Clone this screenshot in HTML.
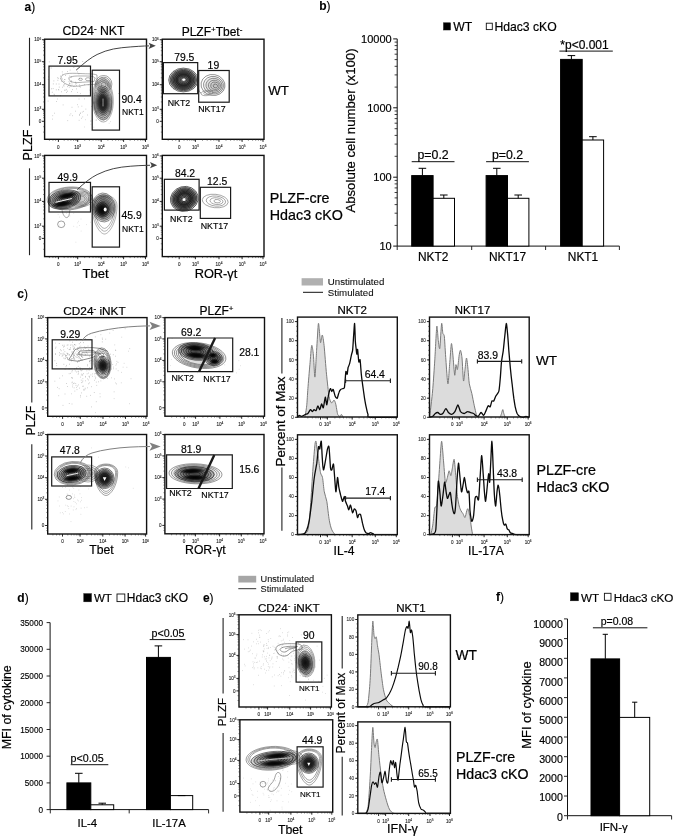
<!DOCTYPE html>
<html><head><meta charset="utf-8"><title>Figure</title>
<style>
html,body{margin:0;padding:0;background:#fff;}
svg{display:block;font-family:"Liberation Sans", sans-serif;font-kerning:none;}
</style></head>
<body>
<svg width="675" height="837" viewBox="0 0 675 837">
<defs>
<radialGradient id="gd"><stop offset="0" stop-color="#000" stop-opacity="0.95"/><stop offset="0.45" stop-color="#000" stop-opacity="0.82"/><stop offset="0.75" stop-color="#000" stop-opacity="0.4"/><stop offset="1" stop-color="#000" stop-opacity="0"/></radialGradient>
<radialGradient id="gm"><stop offset="0" stop-color="#000" stop-opacity="0.7"/><stop offset="0.55" stop-color="#000" stop-opacity="0.5"/><stop offset="0.85" stop-color="#000" stop-opacity="0.25"/><stop offset="1" stop-color="#000" stop-opacity="0"/></radialGradient>
<radialGradient id="gl"><stop offset="0" stop-color="#000" stop-opacity="0.26"/><stop offset="0.6" stop-color="#000" stop-opacity="0.12"/><stop offset="1" stop-color="#000" stop-opacity="0"/></radialGradient>
<radialGradient id="gr"><stop offset="0" stop-color="#000" stop-opacity="0.1"/><stop offset="0.15" stop-color="#000" stop-opacity="0.45"/><stop offset="0.45" stop-color="#000" stop-opacity="0.8"/><stop offset="0.78" stop-color="#000" stop-opacity="0.55"/><stop offset="1" stop-color="#000" stop-opacity="0"/></radialGradient>
</defs>
<rect x="0" y="0" width="675" height="837" fill="#fff"/>
<text x="24.6" y="11.3" font-size="12" text-anchor="start" font-weight="normal" fill="#000" stroke="#000" stroke-width="0.1"><tspan font-weight="bold">a</tspan>)</text>
<text x="93.5" y="34.8" font-size="12.3" text-anchor="middle" font-weight="normal" fill="#000" stroke="#000" stroke-width="0.1968">CD24<tspan dy="-4" font-size="8">-</tspan><tspan dy="4"> NKT</tspan></text>
<text x="212.0" y="36.0" font-size="12" text-anchor="middle" font-weight="normal" fill="#000" stroke="#000" stroke-width="0.192">PLZF<tspan dy="-4" font-size="8">+</tspan><tspan dy="4">Tbet</tspan><tspan dy="-4" font-size="8">-</tspan></text>
<path d="M63.7 86.1h.6M64.0 79.5h.6M57.6 80.3h.6M76.0 85.4h.6M75.3 84.0h.6M69.6 83.5h.6M51.0 88.8h.6M70.6 86.0h.6M50.8 68.0h.6M58.0 78.3h.6M68.7 81.6h.6M70.7 76.9h.6M68.8 85.2h.6M60.0 95.7h.6M71.0 91.6h.6M60.4 76.1h.6M62.9 81.1h.6M71.7 84.0h.6M62.0 74.3h.6M61.3 91.8h.6M58.7 84.0h.6M69.8 70.1h.6M66.4 92.4h.6M47.9 79.4h.6M65.0 75.5h.6M70.5 81.5h.6M52.8 88.6h.6M72.0 89.6h.6M79.0 84.9h.6M67.1 71.6h.6M71.5 77.1h.6M61.9 71.9h.6M57.3 77.8h.6M77.6 65.7h.6M52.9 83.9h.6M79.0 86.6h.6M48.9 61.9h.6M69.2 76.1h.6M55.9 89.8h.6M75.9 83.3h.6M68.2 85.5h.6M80.3 87.0h.6M70.7 86.4h.6M51.9 92.3h.6M74.6 86.2h.6M48.2 76.9h.6M73.6 67.5h.6M64.3 90.2h.6M54.2 94.9h.6M71.0 80.8h.6M68.9 87.2h.6M67.1 91.2h.6M60.0 78.7h.6M75.4 82.2h.6M58.1 89.6h.6M79.2 78.4h.6M53.6 80.9h.6M64.7 79.6h.6M78.6 73.8h.6M77.3 71.9h.6M58.9 87.1h.6M76.2 88.9h.6M69.1 83.1h.6M67.4 86.6h.6M64.4 84.2h.6M71.2 82.0h.6M72.9 86.5h.6M84.1 84.6h.6M62.2 79.0h.6M65.9 89.4h.6M63.0 85.1h.6M82.5 61.5h.6M55.9 84.0h.6M69.6 83.9h.6M62.1 87.2h.6M68.5 77.8h.6M87.9 84.8h.6M61.0 81.2h.6M64.0 81.5h.6" stroke="#888" stroke-width="0.7" fill="none"/>
<path d="M94.1 93.3h.6M79.1 114.5h.6M92.0 119.9h.6M56.2 101.5h.6M75.2 111.2h.6M95.3 78.2h.6M95.2 90.5h.6M89.6 90.1h.6M82.5 116.9h.6M77.9 106.9h.6M91.2 106.4h.6M78.8 120.3h.6M94.7 102.1h.6M118.4 93.5h.6M92.8 102.3h.6M81.9 112.1h.6M83.1 111.4h.6M58.6 89.9h.6M88.6 95.4h.6M65.6 90.3h.6M97.7 112.5h.6M100.6 95.6h.6M80.0 93.6h.6M90.7 120.9h.6M67.5 120.6h.6M93.8 103.2h.6M52.4 119.1h.6M78.7 99.0h.6M85.6 109.1h.6M101.0 94.8h.6M95.9 119.9h.6M100.3 103.2h.6M69.6 115.2h.6M81.6 106.2h.6M99.9 102.4h.6M47.8 101.1h.6M54.0 113.2h.6M84.4 98.9h.6M79.9 113.3h.6M81.1 118.3h.6M79.1 115.4h.6M100.9 121.1h.6M70.6 113.8h.6M53.7 94.2h.6M52.5 115.7h.6M62.8 104.9h.6M77.3 104.7h.6M71.7 107.3h.6M105.1 105.4h.6M87.4 115.0h.6M77.2 92.4h.6M72.2 115.7h.6M57.0 99.0h.6M94.1 112.9h.6M80.1 113.1h.6" stroke="#999" stroke-width="0.7" fill="none"/>
<path d="M104.3 117.9h.6M90.5 121.2h.6M110.4 121.6h.6M95.8 120.4h.6M90.7 124.3h.6M93.6 127.2h.6M84.1 127.0h.6M97.9 113.3h.6M108.8 123.3h.6M85.2 119.7h.6" stroke="#aaa" stroke-width="0.6" fill="none"/>
<path d="M61 78 C61 73 70 73 80 73.5 C88 74 93 73.5 97 75 L97 84 C92 85 88 84 82 85.5 C76 87 70 86 66 84 C62 82 61 80 61 78 Z" fill="none" stroke="#666" stroke-width="0.5"/>
<path d="M69 78.5 C70 75.5 78 76 86 76 C91 76 94 76.5 95 78 L94 81.5 C88 82 84 82 79 82.5 C73 83 69 81.5 69 78.5 Z" fill="none" stroke="#666" stroke-width="0.5"/>
<ellipse cx="80.5" cy="79.3" rx="2" ry="1.1" fill="none" stroke="#666" stroke-width="0.5"/>
<ellipse cx="88" cy="79.2" rx="2.6" ry="1.5" fill="none" stroke="#666" stroke-width="0.5"/>
<g transform="translate(103.6 84.0) rotate(0)" fill="none" stroke="#444" stroke-width="0.5">
<ellipse cx="0.0" cy="0.6" rx="8.3" ry="8.5" fill="url(#gl)" stroke="none"/>
<ellipse cx="0.0" cy="0.0" rx="8.30" ry="8.50"/>
<ellipse cx="0.0" cy="0.2" rx="6.85" ry="7.01"/>
<ellipse cx="0.0" cy="0.5" rx="5.40" ry="5.53"/>
<ellipse cx="0.0" cy="0.8" rx="3.94" ry="4.04"/>
<ellipse cx="0.0" cy="1.0" rx="2.49" ry="2.55"/>
</g>
<g transform="translate(102.8 100.0) rotate(-2)" fill="none" stroke="#555" stroke-width="0.45">
<ellipse cx="0.0" cy="0.0" rx="10.50" ry="22.00"/>
<ellipse cx="0.0" cy="0.0" rx="9.71" ry="20.35"/>
<ellipse cx="0.0" cy="0.0" rx="8.92" ry="18.70"/>
</g>
<g transform="translate(102.8 102.7) rotate(-2)" fill="none" stroke="#222" stroke-width="0.5">
<ellipse cx="0.0" cy="0.0" rx="8.5" ry="16.1" fill="url(#gd)" stroke="none"/>
<ellipse cx="0.0" cy="0.0" rx="9.00" ry="17.00"/>
<ellipse cx="0.0" cy="0.0" rx="8.10" ry="15.30"/>
<ellipse cx="0.0" cy="0.0" rx="7.20" ry="13.60"/>
<ellipse cx="0.0" cy="0.0" rx="6.30" ry="11.90"/>
<ellipse cx="0.0" cy="0.0" rx="5.40" ry="10.20"/>
<ellipse cx="0.0" cy="0.0" rx="4.50" ry="8.50"/>
<ellipse cx="0.0" cy="0.0" rx="3.60" ry="6.80"/>
<ellipse cx="0.0" cy="0.0" rx="2.70" ry="5.10"/>
<ellipse cx="0.0" cy="0.0" rx="1.80" ry="3.40"/>
<ellipse cx="0.0" cy="0.0" rx="0.90" ry="1.70"/>
</g>
<path d="M103 99 L103 106" stroke="#fff" stroke-width="0.55" stroke-linecap="round"/>
<rect x="44.6" y="39.2" width="101.9" height="100.1" stroke="#111" stroke-width="1.4" fill="none"/>
<text x="58.4" y="148.7" font-size="4.6" text-anchor="middle" font-weight="normal" fill="#222" stroke="#222" stroke-width="0.1">0</text>
<text x="77.7" y="148.7" font-size="4.6" text-anchor="middle" font-weight="normal" fill="#222" stroke="#222" stroke-width="0.1">10<tspan dy="-1.8" font-size="3.2">3</tspan></text>
<text x="101.2" y="148.7" font-size="4.6" text-anchor="middle" font-weight="normal" fill="#222" stroke="#222" stroke-width="0.1">10<tspan dy="-1.8" font-size="3.2">4</tspan></text>
<text x="123.6" y="148.7" font-size="4.6" text-anchor="middle" font-weight="normal" fill="#222" stroke="#222" stroke-width="0.1">10<tspan dy="-1.8" font-size="3.2">5</tspan></text>
<text x="145.5" y="148.7" font-size="4.6" text-anchor="middle" font-weight="normal" fill="#222" stroke="#222" stroke-width="0.1">10<tspan dy="-1.8" font-size="3.2">6</tspan></text>
<text x="41.2" y="41.4" font-size="4.6" text-anchor="end" font-weight="normal" fill="#222" stroke="#222" stroke-width="0.1">10<tspan dy="-1.8" font-size="3.2">6</tspan></text>
<text x="41.2" y="63.4" font-size="4.6" text-anchor="end" font-weight="normal" fill="#222" stroke="#222" stroke-width="0.1">10<tspan dy="-1.8" font-size="3.2">5</tspan></text>
<text x="41.2" y="86.4" font-size="4.6" text-anchor="end" font-weight="normal" fill="#222" stroke="#222" stroke-width="0.1">10<tspan dy="-1.8" font-size="3.2">4</tspan></text>
<text x="41.2" y="111.0" font-size="4.6" text-anchor="end" font-weight="normal" fill="#222" stroke="#222" stroke-width="0.1">10<tspan dy="-1.8" font-size="3.2">3</tspan></text>
<text x="41.2" y="123.0" font-size="4.6" text-anchor="end" font-weight="normal" fill="#222" stroke="#222" stroke-width="0.1">0</text>
<path d="M58.4 139.3L58.4 141.9M77.7 139.3L77.7 141.9M101.2 139.3L101.2 141.9M123.6 139.3L123.6 141.9M145.5 139.3L145.5 141.9M42.0 39.7L44.6 39.7M42.0 61.7L44.6 61.7M42.0 84.7L44.6 84.7M42.0 109.3L44.6 109.3M42.0 121.3L44.6 121.3" stroke="#111" stroke-width="0.9" fill="none"/>
<path d="M64.2 139.3L64.2 140.8M68.0 139.3L68.0 140.8M70.9 139.3L70.9 140.8M73.5 139.3L73.5 140.8M75.4 139.3L75.4 140.8M76.7 139.3L76.7 140.8M84.7 139.3L84.7 140.8M89.4 139.3L89.4 140.8M93.0 139.3L93.0 140.8M96.0 139.3L96.0 140.8M98.3 139.3L98.3 140.8M100.0 139.3L100.0 140.8M107.9 139.3L107.9 140.8M112.4 139.3L112.4 140.8M115.7 139.3L115.7 140.8M118.6 139.3L118.6 140.8M120.9 139.3L120.9 140.8M122.5 139.3L122.5 140.8M130.1 139.3L130.1 140.8M134.5 139.3L134.5 140.8M137.8 139.3L137.8 140.8M140.7 139.3L140.7 140.8M142.9 139.3L142.9 140.8M144.4 139.3L144.4 140.8M49.4 139.3L49.4 140.8M52.9 139.3L52.9 140.8M55.6 139.3L55.6 140.8M43.1 40.8L44.6 40.8M43.1 42.3L44.6 42.3M43.1 44.5L44.6 44.5M43.1 47.4L44.6 47.4M43.1 50.7L44.6 50.7M43.1 55.1L44.6 55.1M43.1 62.9L44.6 62.9M43.1 64.5L44.6 64.5M43.1 66.8L44.6 66.8M43.1 69.8L44.6 69.8M43.1 73.2L44.6 73.2M43.1 77.8L44.6 77.8M43.1 86.0L44.6 86.0M43.1 87.7L44.6 87.7M43.1 90.1L44.6 90.1M43.1 93.3L44.6 93.3M43.1 97.0L44.6 97.0M43.1 101.9L44.6 101.9M43.1 109.9L44.6 109.9M43.1 110.7L44.6 110.7M43.1 111.9L44.6 111.9M43.1 113.5L44.6 113.5M43.1 115.3L44.6 115.3M43.1 117.7L44.6 117.7M43.1 126.7L44.6 126.7M43.1 132.1L44.6 132.1" stroke="#222" stroke-width="0.5" fill="none"/>
<rect x="49.0" y="66.1" width="41.5" height="29.8" stroke="#1a1a1a" stroke-width="1.2" fill="none"/>
<rect x="92.2" y="70.2" width="27.3" height="59.9" stroke="#1a1a1a" stroke-width="1.2" fill="none"/>
<text x="67.7" y="64.1" font-size="10.4" text-anchor="middle" font-weight="normal" fill="#000" stroke="#000" stroke-width="0.16640000000000002">7.95</text>
<text x="121.5" y="102.7" font-size="10.4" text-anchor="start" font-weight="normal" fill="#000" stroke="#000" stroke-width="0.16640000000000002">90.4</text>
<text x="122.0" y="115.3" font-size="8.5" text-anchor="start" font-weight="normal" fill="#000" stroke="#000" stroke-width="0.136">NKT1</text>
<path d="M76.2 70.1 Q88.9 58.5 97.1 54.5 Q105.2 50.6 113.3 49.0 Q121.5 47.5 130.8 46.9 Q140.0 46.2 144.5 46.0 L149.0 45.9" fill="none" stroke="#444" stroke-width="1.0"/>
<path d="M155.8 45.8 l-7.2 -3.1 l1.6 3.1 l-1.6 3.1 z" fill="#444"/>
<g transform="translate(183.4 80.0) rotate(0)" fill="none" stroke="#111" stroke-width="0.6">
<ellipse cx="0.0" cy="0.0" rx="15.0" ry="12.1" fill="url(#gr)" stroke="none"/>
<ellipse cx="0.0" cy="0.0" rx="14.70" ry="11.90"/>
<ellipse cx="0.0" cy="0.0" rx="13.26" ry="10.74"/>
<ellipse cx="0.0" cy="0.0" rx="11.83" ry="9.57"/>
<ellipse cx="0.0" cy="0.0" rx="10.39" ry="8.41"/>
<ellipse cx="0.0" cy="0.0" rx="8.95" ry="7.25"/>
<ellipse cx="0.0" cy="0.0" rx="7.51" ry="6.08"/>
<ellipse cx="0.0" cy="0.0" rx="6.08" ry="4.92"/>
<ellipse cx="0.0" cy="0.0" rx="4.64" ry="3.76"/>
<ellipse cx="0.0" cy="0.0" rx="3.20" ry="2.59"/>
<ellipse cx="0.0" cy="0.0" rx="1.76" ry="1.43"/>
</g>
<g transform="translate(183.8 79.6) rotate(0)" fill="none" stroke="none" stroke-width="0.5">
<ellipse cx="0.0" cy="0.0" rx="5.00" ry="4.00"/>
<ellipse cx="0.0" cy="0.0" rx="1.5" ry="1.2" fill="#fff" stroke="none"/>
</g>
<path d="M196 84 C199 86 198 92 201 93" fill="none" stroke="#333" stroke-width="0.5"/>
<g transform="translate(213.0 85.0) rotate(10)" fill="none" stroke="#3a3a3a" stroke-width="0.5">
<ellipse cx="1.5" cy="0.3" rx="12.0" ry="10.5" fill="url(#gl)" stroke="none"/>
<ellipse cx="0.0" cy="0.0" rx="12.00" ry="10.50"/>
<ellipse cx="0.5" cy="0.1" rx="10.03" ry="8.78"/>
<ellipse cx="1.0" cy="0.2" rx="8.06" ry="7.06"/>
<ellipse cx="1.5" cy="0.3" rx="6.10" ry="5.33"/>
<ellipse cx="2.0" cy="0.4" rx="4.13" ry="3.61"/>
<ellipse cx="2.5" cy="0.5" rx="2.16" ry="1.89"/>
</g>
<g transform="translate(207.0 93.0) rotate(-8)" fill="none" stroke="#555" stroke-width="0.45">
<ellipse cx="0.0" cy="0.0" rx="6.00" ry="2.60"/>
<ellipse cx="0.0" cy="0.0" rx="3.30" ry="1.43"/>
</g>
<rect x="162.3" y="39.2" width="101.7" height="100.1" stroke="#111" stroke-width="1.4" fill="none"/>
<text x="179.2" y="148.7" font-size="4.6" text-anchor="middle" font-weight="normal" fill="#222" stroke="#222" stroke-width="0.1">0</text>
<text x="195.4" y="148.7" font-size="4.6" text-anchor="middle" font-weight="normal" fill="#222" stroke="#222" stroke-width="0.1">10<tspan dy="-1.8" font-size="3.2">3</tspan></text>
<text x="219.0" y="148.7" font-size="4.6" text-anchor="middle" font-weight="normal" fill="#222" stroke="#222" stroke-width="0.1">10<tspan dy="-1.8" font-size="3.2">4</tspan></text>
<text x="242.1" y="148.7" font-size="4.6" text-anchor="middle" font-weight="normal" fill="#222" stroke="#222" stroke-width="0.1">10<tspan dy="-1.8" font-size="3.2">5</tspan></text>
<text x="263.0" y="148.7" font-size="4.6" text-anchor="middle" font-weight="normal" fill="#222" stroke="#222" stroke-width="0.1">10<tspan dy="-1.8" font-size="3.2">6</tspan></text>
<text x="158.9" y="41.4" font-size="4.6" text-anchor="end" font-weight="normal" fill="#222" stroke="#222" stroke-width="0.1">10<tspan dy="-1.8" font-size="3.2">6</tspan></text>
<text x="158.9" y="63.4" font-size="4.6" text-anchor="end" font-weight="normal" fill="#222" stroke="#222" stroke-width="0.1">10<tspan dy="-1.8" font-size="3.2">5</tspan></text>
<text x="158.9" y="86.4" font-size="4.6" text-anchor="end" font-weight="normal" fill="#222" stroke="#222" stroke-width="0.1">10<tspan dy="-1.8" font-size="3.2">4</tspan></text>
<text x="158.9" y="111.0" font-size="4.6" text-anchor="end" font-weight="normal" fill="#222" stroke="#222" stroke-width="0.1">10<tspan dy="-1.8" font-size="3.2">3</tspan></text>
<text x="158.9" y="123.0" font-size="4.6" text-anchor="end" font-weight="normal" fill="#222" stroke="#222" stroke-width="0.1">0</text>
<path d="M179.2 139.3L179.2 141.9M195.4 139.3L195.4 141.9M219.0 139.3L219.0 141.9M242.1 139.3L242.1 141.9M263.0 139.3L263.0 141.9M159.7 39.7L162.3 39.7M159.7 61.7L162.3 61.7M159.7 84.7L162.3 84.7M159.7 109.3L162.3 109.3M159.7 121.3L162.3 121.3" stroke="#111" stroke-width="0.9" fill="none"/>
<path d="M184.0 139.3L184.0 140.8M187.3 139.3L187.3 140.8M189.7 139.3L189.7 140.8M191.8 139.3L191.8 140.8M193.4 139.3L193.4 140.8M194.5 139.3L194.5 140.8M202.5 139.3L202.5 140.8M207.2 139.3L207.2 140.8M210.8 139.3L210.8 140.8M213.8 139.3L213.8 140.8M216.2 139.3L216.2 140.8M217.9 139.3L217.9 140.8M226.0 139.3L226.0 140.8M230.6 139.3L230.6 140.8M234.1 139.3L234.1 140.8M237.1 139.3L237.1 140.8M239.4 139.3L239.4 140.8M241.0 139.3L241.0 140.8M248.4 139.3L248.4 140.8M252.6 139.3L252.6 140.8M255.7 139.3L255.7 140.8M258.4 139.3L258.4 140.8M260.5 139.3L260.5 140.8M261.9 139.3L261.9 140.8M168.2 139.3L168.2 140.8M172.4 139.3L172.4 140.8M175.8 139.3L175.8 140.8M160.8 40.8L162.3 40.8M160.8 42.3L162.3 42.3M160.8 44.5L162.3 44.5M160.8 47.4L162.3 47.4M160.8 50.7L162.3 50.7M160.8 55.1L162.3 55.1M160.8 62.9L162.3 62.9M160.8 64.5L162.3 64.5M160.8 66.8L162.3 66.8M160.8 69.8L162.3 69.8M160.8 73.2L162.3 73.2M160.8 77.8L162.3 77.8M160.8 86.0L162.3 86.0M160.8 87.7L162.3 87.7M160.8 90.1L162.3 90.1M160.8 93.3L162.3 93.3M160.8 97.0L162.3 97.0M160.8 101.9L162.3 101.9M160.8 109.9L162.3 109.9M160.8 110.7L162.3 110.7M160.8 111.9L162.3 111.9M160.8 113.5L162.3 113.5M160.8 115.3L162.3 115.3M160.8 117.7L162.3 117.7M160.8 126.7L162.3 126.7M160.8 132.1L162.3 132.1" stroke="#222" stroke-width="0.5" fill="none"/>
<rect x="163.4" y="62.6" width="34.3" height="31.1" stroke="#1a1a1a" stroke-width="1.2" fill="none"/>
<rect x="198.7" y="70.5" width="30.5" height="31.7" stroke="#1a1a1a" stroke-width="1.2" fill="none"/>
<text x="184.3" y="60.7" font-size="10.4" text-anchor="middle" font-weight="normal" fill="#000" stroke="#000" stroke-width="0.16640000000000002">79.5</text>
<text x="213.4" y="69.0" font-size="10.4" text-anchor="middle" font-weight="normal" fill="#000" stroke="#000" stroke-width="0.16640000000000002">19</text>
<text x="179.0" y="105.7" font-size="8.8" text-anchor="middle" font-weight="normal" fill="#000" stroke="#000" stroke-width="0.1408">NKT2</text>
<text x="211.9" y="112.4" font-size="8.8" text-anchor="middle" font-weight="normal" fill="#000" stroke="#000" stroke-width="0.1408">NKT17</text>
<path d="M73.5 213.4h.6M79.4 225.5h.6M78.0 221.3h.6M86.0 224.6h.6M75.4 197.2h.6M80.8 231.1h.6M66.4 213.3h.6M93.3 200.4h.6M75.6 242.2h.6M58.9 224.9h.6M92.6 216.8h.6M76.7 227.0h.6M59.1 217.1h.6M73.5 226.3h.6M69.6 216.0h.6M57.8 214.4h.6M80.7 219.0h.6M59.8 209.6h.6M102.0 229.4h.6M77.6 192.1h.6M77.5 222.8h.6M90.2 222.3h.6" stroke="#bbb" stroke-width="0.6" fill="none"/>
<g transform="translate(69.5 198.4) rotate(-4)" fill="none" stroke="#444" stroke-width="0.45">
<ellipse cx="0.0" cy="0.0" rx="22.40" ry="11.40"/>
<ellipse cx="0.0" cy="0.0" rx="21.06" ry="10.72"/>
<ellipse cx="0.0" cy="0.0" rx="19.71" ry="10.03"/>
</g>
<g transform="translate(80.0 199.0) rotate(0)" fill="none" stroke="#444" stroke-width="0.45">
<ellipse cx="0.0" cy="0.0" rx="13.0" ry="8.0" fill="url(#gl)" stroke="none"/>
<ellipse cx="0.0" cy="0.0" rx="13.00" ry="8.00"/>
<ellipse cx="0.0" cy="0.0" rx="11.05" ry="6.80"/>
<ellipse cx="0.0" cy="0.0" rx="9.10" ry="5.60"/>
<ellipse cx="0.0" cy="0.0" rx="7.15" ry="4.40"/>
<ellipse cx="0.0" cy="0.0" rx="5.20" ry="3.20"/>
</g>
<g transform="translate(64.4 199.5) rotate(-12)" fill="none" stroke="#111" stroke-width="0.55">
<ellipse cx="0.0" cy="0.0" rx="17.3" ry="9.9" fill="url(#gm)" stroke="none"/>
<ellipse cx="0.0" cy="0.0" rx="16.50" ry="9.40"/>
<ellipse cx="0.0" cy="0.0" rx="14.61" ry="8.33"/>
<ellipse cx="0.0" cy="0.0" rx="12.73" ry="7.25"/>
<ellipse cx="0.0" cy="0.0" rx="10.84" ry="6.18"/>
<ellipse cx="0.0" cy="0.0" rx="8.96" ry="5.10"/>
<ellipse cx="0.0" cy="0.0" rx="7.07" ry="4.03"/>
<ellipse cx="0.0" cy="0.0" rx="5.19" ry="2.95"/>
<ellipse cx="0.0" cy="0.0" rx="3.30" ry="1.88"/>
</g>
<g transform="translate(67.0 195.6) rotate(-12)" fill="none" stroke="none" stroke-width="0.5">
<ellipse cx="0.0" cy="0.0" rx="10.5" ry="3.1" fill="url(#gd)" stroke="none"/>
<ellipse cx="0.0" cy="0.0" rx="10.50" ry="3.10"/>
</g>
<g transform="translate(62.0 204.0) rotate(-8)" fill="none" stroke="none" stroke-width="0.5">
<ellipse cx="0.0" cy="0.0" rx="11.0" ry="3.2" fill="url(#gd)" stroke="none"/>
<ellipse cx="0.0" cy="0.0" rx="11.00" ry="3.20"/>
</g>
<path d="M56 202.2 L71.5 198.6" stroke="#f4f4f4" stroke-width="1.0" stroke-linecap="round"/>
<g transform="translate(104.5 206.0) rotate(0)" fill="none" stroke="#555" stroke-width="0.45">
<path d="M-12.5 0 C-12.5 -14.6 12.5 -14.6 12.5 0 C12.5 15.4 5.0 28.0 0 28.0 C-5.0 28.0 -12.5 15.4 -12.5 0 Z"/>
<path d="M-11.2 0 C-11.2 -13.2 11.2 -13.2 11.2 0 C11.2 13.9 4.5 25.2 0 25.2 C-4.5 25.2 -11.2 13.9 -11.2 0 Z"/>
<path d="M-10.0 0 C-10.0 -11.7 10.0 -11.7 10.0 0 C10.0 12.3 4.0 22.4 0 22.4 C-4.0 22.4 -10.0 12.3 -10.0 0 Z"/>
</g>
<g transform="translate(103.5 207.5) rotate(-5)" fill="none" stroke="#222" stroke-width="0.5">
<ellipse cx="0.0" cy="0.0" rx="11.5" ry="14.5" fill="url(#gm)" stroke="none"/>
<ellipse cx="0.0" cy="0.0" rx="11.50" ry="14.50"/>
<ellipse cx="0.0" cy="0.0" rx="10.19" ry="12.84"/>
<ellipse cx="0.0" cy="0.0" rx="8.87" ry="11.19"/>
<ellipse cx="0.0" cy="0.0" rx="7.56" ry="9.53"/>
<ellipse cx="0.0" cy="0.0" rx="6.24" ry="7.87"/>
<ellipse cx="0.0" cy="0.0" rx="4.93" ry="6.21"/>
<ellipse cx="0.0" cy="0.0" rx="3.61" ry="4.56"/>
<ellipse cx="0.0" cy="0.0" rx="2.30" ry="2.90"/>
</g>
<g transform="translate(102.0 209.8) rotate(0)" fill="none" stroke="#111" stroke-width="0.5">
<ellipse cx="0.0" cy="0.0" rx="6.8" ry="7.5" fill="url(#gd)" stroke="none"/>
<ellipse cx="0.0" cy="0.0" rx="6.80" ry="7.50"/>
<ellipse cx="0.0" cy="0.0" rx="5.61" ry="6.19"/>
<ellipse cx="0.0" cy="0.0" rx="4.42" ry="4.88"/>
<ellipse cx="0.0" cy="0.0" rx="3.23" ry="3.56"/>
<ellipse cx="0.0" cy="0.0" rx="2.04" ry="2.25"/>
</g>
<ellipse cx="105.2" cy="209.4" rx="1.5" ry="2" fill="#fff"/>
<ellipse cx="61.2" cy="224.3" rx="3.6" ry="3.3" fill="none" stroke="#555" stroke-width="0.55"/>
<path d="M62 210 C63 216 66 219 68 217 C70 215 69 212 70 210" fill="none" stroke="#555" stroke-width="0.5"/>
<rect x="44.6" y="155.4" width="101.9" height="101.2" stroke="#111" stroke-width="1.4" fill="none"/>
<text x="58.4" y="266.0" font-size="4.6" text-anchor="middle" font-weight="normal" fill="#222" stroke="#222" stroke-width="0.1">0</text>
<text x="77.7" y="266.0" font-size="4.6" text-anchor="middle" font-weight="normal" fill="#222" stroke="#222" stroke-width="0.1">10<tspan dy="-1.8" font-size="3.2">3</tspan></text>
<text x="101.2" y="266.0" font-size="4.6" text-anchor="middle" font-weight="normal" fill="#222" stroke="#222" stroke-width="0.1">10<tspan dy="-1.8" font-size="3.2">4</tspan></text>
<text x="123.6" y="266.0" font-size="4.6" text-anchor="middle" font-weight="normal" fill="#222" stroke="#222" stroke-width="0.1">10<tspan dy="-1.8" font-size="3.2">5</tspan></text>
<text x="145.5" y="266.0" font-size="4.6" text-anchor="middle" font-weight="normal" fill="#222" stroke="#222" stroke-width="0.1">10<tspan dy="-1.8" font-size="3.2">6</tspan></text>
<text x="41.2" y="157.6" font-size="4.6" text-anchor="end" font-weight="normal" fill="#222" stroke="#222" stroke-width="0.1">10<tspan dy="-1.8" font-size="3.2">6</tspan></text>
<text x="41.2" y="179.9" font-size="4.6" text-anchor="end" font-weight="normal" fill="#222" stroke="#222" stroke-width="0.1">10<tspan dy="-1.8" font-size="3.2">5</tspan></text>
<text x="41.2" y="203.1" font-size="4.6" text-anchor="end" font-weight="normal" fill="#222" stroke="#222" stroke-width="0.1">10<tspan dy="-1.8" font-size="3.2">4</tspan></text>
<text x="41.2" y="227.9" font-size="4.6" text-anchor="end" font-weight="normal" fill="#222" stroke="#222" stroke-width="0.1">10<tspan dy="-1.8" font-size="3.2">3</tspan></text>
<text x="41.2" y="240.1" font-size="4.6" text-anchor="end" font-weight="normal" fill="#222" stroke="#222" stroke-width="0.1">0</text>
<path d="M58.4 256.6L58.4 259.2M77.7 256.6L77.7 259.2M101.2 256.6L101.2 259.2M123.6 256.6L123.6 259.2M145.5 256.6L145.5 259.2M42.0 155.9L44.6 155.9M42.0 178.2L44.6 178.2M42.0 201.4L44.6 201.4M42.0 226.2L44.6 226.2M42.0 238.4L44.6 238.4" stroke="#111" stroke-width="0.9" fill="none"/>
<path d="M64.2 256.6L64.2 258.1M68.0 256.6L68.0 258.1M70.9 256.6L70.9 258.1M73.5 256.6L73.5 258.1M75.4 256.6L75.4 258.1M76.7 256.6L76.7 258.1M84.7 256.6L84.7 258.1M89.4 256.6L89.4 258.1M93.0 256.6L93.0 258.1M96.0 256.6L96.0 258.1M98.3 256.6L98.3 258.1M100.0 256.6L100.0 258.1M107.9 256.6L107.9 258.1M112.4 256.6L112.4 258.1M115.7 256.6L115.7 258.1M118.6 256.6L118.6 258.1M120.9 256.6L120.9 258.1M122.5 256.6L122.5 258.1M130.1 256.6L130.1 258.1M134.5 256.6L134.5 258.1M137.8 256.6L137.8 258.1M140.7 256.6L140.7 258.1M142.9 256.6L142.9 258.1M144.4 256.6L144.4 258.1M49.4 256.6L49.4 258.1M52.9 256.6L52.9 258.1M55.6 256.6L55.6 258.1M43.1 157.0L44.6 157.0M43.1 158.6L44.6 158.6M43.1 160.8L44.6 160.8M43.1 163.7L44.6 163.7M43.1 167.0L44.6 167.0M43.1 171.5L44.6 171.5M43.1 179.3L44.6 179.3M43.1 181.0L44.6 181.0M43.1 183.3L44.6 183.3M43.1 186.3L44.6 186.3M43.1 189.8L44.6 189.8M43.1 194.5L44.6 194.5M43.1 202.7L44.6 202.7M43.1 204.4L44.6 204.4M43.1 206.9L44.6 206.9M43.1 210.1L44.6 210.1M43.1 213.8L44.6 213.8M43.1 218.8L44.6 218.8M43.1 226.8L44.6 226.8M43.1 227.7L44.6 227.7M43.1 228.9L44.6 228.9M43.1 230.5L44.6 230.5M43.1 232.3L44.6 232.3M43.1 234.7L44.6 234.7M43.1 243.8L44.6 243.8M43.1 249.3L44.6 249.3" stroke="#222" stroke-width="0.5" fill="none"/>
<rect x="49.0" y="182.4" width="41.5" height="29.6" stroke="#1a1a1a" stroke-width="1.2" fill="none"/>
<rect x="92.2" y="186.8" width="27.3" height="60.3" stroke="#1a1a1a" stroke-width="1.2" fill="none"/>
<text x="67.7" y="180.7" font-size="10.4" text-anchor="middle" font-weight="normal" fill="#000" stroke="#000" stroke-width="0.16640000000000002">49.9</text>
<text x="121.5" y="219.4" font-size="10.4" text-anchor="start" font-weight="normal" fill="#000" stroke="#000" stroke-width="0.16640000000000002">45.9</text>
<text x="122.0" y="231.6" font-size="8.5" text-anchor="start" font-weight="normal" fill="#000" stroke="#000" stroke-width="0.136">NKT1</text>
<path d="M77.2 189.6 Q88.9 178.6 97.1 174.6 Q105.2 170.6 113.3 168.7 Q121.5 166.8 130.8 166.2 Q140.0 165.5 145.0 165.4 L150.0 165.3" fill="none" stroke="#444" stroke-width="1.0"/>
<path d="M157.2 165.2 l-7.2 -3.1 l1.6 3.1 l-1.6 3.1 z" fill="#444"/>
<g transform="translate(184.3 198.9) rotate(-15)" fill="none" stroke="#111" stroke-width="0.6">
<ellipse cx="0.0" cy="0.0" rx="14.3" ry="12.6" fill="url(#gr)" stroke="none"/>
<ellipse cx="0.0" cy="0.0" rx="14.00" ry="12.40"/>
<ellipse cx="0.0" cy="0.0" rx="12.63" ry="11.19"/>
<ellipse cx="0.0" cy="0.0" rx="11.26" ry="9.98"/>
<ellipse cx="0.0" cy="0.0" rx="9.89" ry="8.76"/>
<ellipse cx="0.0" cy="0.0" rx="8.52" ry="7.55"/>
<ellipse cx="0.0" cy="0.0" rx="7.16" ry="6.34"/>
<ellipse cx="0.0" cy="0.0" rx="5.79" ry="5.13"/>
<ellipse cx="0.0" cy="0.0" rx="4.42" ry="3.91"/>
<ellipse cx="0.0" cy="0.0" rx="3.05" ry="2.70"/>
<ellipse cx="0.0" cy="0.0" rx="1.68" ry="1.49"/>
</g>
<g transform="translate(184.0 199.8) rotate(0)" fill="none" stroke="none" stroke-width="0.5">
<ellipse cx="0.0" cy="0.0" rx="5.00" ry="4.00"/>
<ellipse cx="0.0" cy="0.0" rx="1.5" ry="1.2" fill="#fff" stroke="none"/>
</g>
<g transform="translate(215.2 201.0) rotate(6)" fill="none" stroke="#555" stroke-width="0.5">
<ellipse cx="0.0" cy="0.0" rx="13.00" ry="6.70"/>
<ellipse cx="0.7" cy="0.0" rx="9.75" ry="5.03"/>
<ellipse cx="1.3" cy="0.0" rx="6.50" ry="3.35"/>
<ellipse cx="2.0" cy="0.0" rx="3.25" ry="1.68"/>
</g>
<rect x="162.3" y="155.4" width="101.7" height="101.2" stroke="#111" stroke-width="1.4" fill="none"/>
<text x="179.2" y="266.0" font-size="4.6" text-anchor="middle" font-weight="normal" fill="#222" stroke="#222" stroke-width="0.1">0</text>
<text x="195.4" y="266.0" font-size="4.6" text-anchor="middle" font-weight="normal" fill="#222" stroke="#222" stroke-width="0.1">10<tspan dy="-1.8" font-size="3.2">3</tspan></text>
<text x="219.0" y="266.0" font-size="4.6" text-anchor="middle" font-weight="normal" fill="#222" stroke="#222" stroke-width="0.1">10<tspan dy="-1.8" font-size="3.2">4</tspan></text>
<text x="242.1" y="266.0" font-size="4.6" text-anchor="middle" font-weight="normal" fill="#222" stroke="#222" stroke-width="0.1">10<tspan dy="-1.8" font-size="3.2">5</tspan></text>
<text x="263.0" y="266.0" font-size="4.6" text-anchor="middle" font-weight="normal" fill="#222" stroke="#222" stroke-width="0.1">10<tspan dy="-1.8" font-size="3.2">6</tspan></text>
<text x="158.9" y="157.6" font-size="4.6" text-anchor="end" font-weight="normal" fill="#222" stroke="#222" stroke-width="0.1">10<tspan dy="-1.8" font-size="3.2">6</tspan></text>
<text x="158.9" y="179.9" font-size="4.6" text-anchor="end" font-weight="normal" fill="#222" stroke="#222" stroke-width="0.1">10<tspan dy="-1.8" font-size="3.2">5</tspan></text>
<text x="158.9" y="203.1" font-size="4.6" text-anchor="end" font-weight="normal" fill="#222" stroke="#222" stroke-width="0.1">10<tspan dy="-1.8" font-size="3.2">4</tspan></text>
<text x="158.9" y="227.9" font-size="4.6" text-anchor="end" font-weight="normal" fill="#222" stroke="#222" stroke-width="0.1">10<tspan dy="-1.8" font-size="3.2">3</tspan></text>
<text x="158.9" y="240.1" font-size="4.6" text-anchor="end" font-weight="normal" fill="#222" stroke="#222" stroke-width="0.1">0</text>
<path d="M179.2 256.6L179.2 259.2M195.4 256.6L195.4 259.2M219.0 256.6L219.0 259.2M242.1 256.6L242.1 259.2M263.0 256.6L263.0 259.2M159.7 155.9L162.3 155.9M159.7 178.2L162.3 178.2M159.7 201.4L162.3 201.4M159.7 226.2L162.3 226.2M159.7 238.4L162.3 238.4" stroke="#111" stroke-width="0.9" fill="none"/>
<path d="M184.0 256.6L184.0 258.1M187.3 256.6L187.3 258.1M189.7 256.6L189.7 258.1M191.8 256.6L191.8 258.1M193.4 256.6L193.4 258.1M194.5 256.6L194.5 258.1M202.5 256.6L202.5 258.1M207.2 256.6L207.2 258.1M210.8 256.6L210.8 258.1M213.8 256.6L213.8 258.1M216.2 256.6L216.2 258.1M217.9 256.6L217.9 258.1M226.0 256.6L226.0 258.1M230.6 256.6L230.6 258.1M234.1 256.6L234.1 258.1M237.1 256.6L237.1 258.1M239.4 256.6L239.4 258.1M241.0 256.6L241.0 258.1M248.4 256.6L248.4 258.1M252.6 256.6L252.6 258.1M255.7 256.6L255.7 258.1M258.4 256.6L258.4 258.1M260.5 256.6L260.5 258.1M261.9 256.6L261.9 258.1M168.2 256.6L168.2 258.1M172.4 256.6L172.4 258.1M175.8 256.6L175.8 258.1M160.8 157.0L162.3 157.0M160.8 158.6L162.3 158.6M160.8 160.8L162.3 160.8M160.8 163.7L162.3 163.7M160.8 167.0L162.3 167.0M160.8 171.5L162.3 171.5M160.8 179.3L162.3 179.3M160.8 181.0L162.3 181.0M160.8 183.3L162.3 183.3M160.8 186.3L162.3 186.3M160.8 189.8L162.3 189.8M160.8 194.5L162.3 194.5M160.8 202.7L162.3 202.7M160.8 204.4L162.3 204.4M160.8 206.9L162.3 206.9M160.8 210.1L162.3 210.1M160.8 213.8L162.3 213.8M160.8 218.8L162.3 218.8M160.8 226.8L162.3 226.8M160.8 227.7L162.3 227.7M160.8 228.9L162.3 228.9M160.8 230.5L162.3 230.5M160.8 232.3L162.3 232.3M160.8 234.7L162.3 234.7M160.8 243.8L162.3 243.8M160.8 249.3L162.3 249.3" stroke="#222" stroke-width="0.5" fill="none"/>
<rect x="164.4" y="179.3" width="34.7" height="30.8" stroke="#1a1a1a" stroke-width="1.2" fill="none"/>
<rect x="200.3" y="187.3" width="30.3" height="31.1" stroke="#1a1a1a" stroke-width="1.2" fill="none"/>
<text x="185.0" y="176.7" font-size="10.4" text-anchor="middle" font-weight="normal" fill="#000" stroke="#000" stroke-width="0.16640000000000002">84.2</text>
<text x="217.2" y="185.0" font-size="10.4" text-anchor="middle" font-weight="normal" fill="#000" stroke="#000" stroke-width="0.16640000000000002">12.5</text>
<text x="181.3" y="222.0" font-size="8.8" text-anchor="middle" font-weight="normal" fill="#000" stroke="#000" stroke-width="0.1408">NKT2</text>
<text x="214.4" y="228.8" font-size="8.8" text-anchor="middle" font-weight="normal" fill="#000" stroke="#000" stroke-width="0.1408">NKT17</text>
<text x="95.6" y="278.2" font-size="13" text-anchor="middle" font-weight="normal" fill="#000" stroke="#000" stroke-width="0.20800000000000002">Tbet</text>
<text x="216.0" y="278.2" font-size="12.8" text-anchor="middle" font-weight="normal" fill="#000" stroke="#000" stroke-width="0.2048">ROR-γt</text>
<text x="32.4" y="145.0" font-size="12.6" text-anchor="middle" font-weight="normal" fill="#000" stroke="#000" stroke-width="0.2016" transform="rotate(-90 32.4 145)">PLZF</text>
<line x1="29.5" y1="37.8" x2="29.5" y2="125.7" stroke="#222" stroke-width="1.1"/>
<line x1="29.5" y1="168.3" x2="29.5" y2="255.2" stroke="#222" stroke-width="1.1"/>
<text x="268.3" y="95.3" font-size="13.3" text-anchor="start" font-weight="normal" fill="#000" stroke="#000" stroke-width="0.21280000000000002">WT</text>
<text x="269.8" y="202.8" font-size="14.3" text-anchor="start" font-weight="normal" fill="#000" stroke="#000" stroke-width="0.2288">PLZF-cre</text>
<text x="269.8" y="219.8" font-size="14.3" text-anchor="start" font-weight="normal" fill="#000" stroke="#000" stroke-width="0.2288">Hdac3 cKO</text>
<text x="319.2" y="10.4" font-size="12" text-anchor="start" font-weight="normal" fill="#000" stroke="#000" stroke-width="0.1"><tspan font-weight="bold">b</tspan>)</text>
<rect x="443.5" y="22.8" width="7.0" height="7.2" stroke="#111" stroke-width="0.5" fill="#000"/>
<text x="453.3" y="31.2" font-size="12.2" text-anchor="start" font-weight="normal" fill="#000" stroke="#000" stroke-width="0.19519999999999998">WT</text>
<rect x="486.3" y="23.2" width="6.0" height="6.4" stroke="#111" stroke-width="0.9" fill="#fff"/>
<text x="494.4" y="31.2" font-size="12.2" text-anchor="start" font-weight="normal" fill="#000" stroke="#000" stroke-width="0.19519999999999998">Hdac3 cKO</text>
<line x1="397.2" y1="38.9" x2="397.2" y2="246.1" stroke="#111" stroke-width="1.0"/>
<line x1="397.2" y1="246.1" x2="619.4" y2="246.1" stroke="#111" stroke-width="1.0"/>
<line x1="393.2" y1="38.9" x2="397.2" y2="38.9" stroke="#111" stroke-width="1.0"/>
<text x="391.7" y="42.9" font-size="11" text-anchor="end" font-weight="normal" fill="#000" stroke="#000" stroke-width="0.176">10000</text>
<line x1="393.2" y1="107.8" x2="397.2" y2="107.8" stroke="#111" stroke-width="1.0"/>
<text x="391.7" y="111.8" font-size="11" text-anchor="end" font-weight="normal" fill="#000" stroke="#000" stroke-width="0.176">1000</text>
<line x1="393.2" y1="177.2" x2="397.2" y2="177.2" stroke="#111" stroke-width="1.0"/>
<text x="391.7" y="181.2" font-size="11" text-anchor="end" font-weight="normal" fill="#000" stroke="#000" stroke-width="0.176">100</text>
<line x1="393.2" y1="246.1" x2="397.2" y2="246.1" stroke="#111" stroke-width="1.0"/>
<text x="391.7" y="250.1" font-size="11" text-anchor="end" font-weight="normal" fill="#000" stroke="#000" stroke-width="0.176">10</text>
<path d="M394.6 87.1L397.2 87.1M394.6 74.9L397.2 74.9M394.6 66.3L397.2 66.3M394.6 59.6L397.2 59.6M394.6 54.2L397.2 54.2M394.6 49.6L397.2 49.6M394.6 45.6L397.2 45.6M394.6 42.1L397.2 42.1M394.6 156.3L397.2 156.3M394.6 144.1L397.2 144.1M394.6 135.4L397.2 135.4M394.6 128.7L397.2 128.7M394.6 123.2L397.2 123.2M394.6 118.6L397.2 118.6M394.6 114.5L397.2 114.5M394.6 111.0L397.2 111.0M394.6 225.4L397.2 225.4M394.6 213.2L397.2 213.2M394.6 204.6L397.2 204.6M394.6 197.9L397.2 197.9M394.6 192.5L397.2 192.5M394.6 187.9L397.2 187.9M394.6 183.9L397.2 183.9M394.6 180.4L397.2 180.4" stroke="#111" stroke-width="0.8" fill="none"/>
<line x1="397.2" y1="246.1" x2="397.2" y2="250.0" stroke="#111" stroke-width="0.9"/>
<line x1="471.7" y1="246.1" x2="471.7" y2="250.0" stroke="#111" stroke-width="0.9"/>
<line x1="545.6" y1="246.1" x2="545.6" y2="250.0" stroke="#111" stroke-width="0.9"/>
<line x1="619.4" y1="246.1" x2="619.4" y2="250.0" stroke="#111" stroke-width="0.9"/>
<rect x="411.7" y="175.6" width="21.4" height="70.5" stroke="#000" stroke-width="1.0" fill="#000"/>
<line x1="422.4" y1="175.6" x2="422.4" y2="168.3" stroke="#000" stroke-width="1.0"/>
<line x1="418.6" y1="168.3" x2="426.2" y2="168.3" stroke="#000" stroke-width="1.0"/>
<rect x="433.1" y="198.3" width="21.4" height="47.8" stroke="#000" stroke-width="1.0" fill="#fff"/>
<line x1="443.8" y1="198.3" x2="443.8" y2="195.0" stroke="#000" stroke-width="1.0"/>
<line x1="440.0" y1="195.0" x2="447.6" y2="195.0" stroke="#000" stroke-width="1.0"/>
<line x1="411.7" y1="161.7" x2="454.5" y2="161.7" stroke="#111" stroke-width="1.0"/>
<text x="433.1" y="159.3" font-size="12.3" text-anchor="middle" font-weight="normal" fill="#000" stroke="#000" stroke-width="0.1968">p=0.2</text>
<text x="433.1" y="261.3" font-size="11.9" text-anchor="middle" font-weight="normal" fill="#000" stroke="#000" stroke-width="0.1904">NKT2</text>
<rect x="486.1" y="175.6" width="21.4" height="70.5" stroke="#000" stroke-width="1.0" fill="#000"/>
<line x1="496.8" y1="175.6" x2="496.8" y2="168.3" stroke="#000" stroke-width="1.0"/>
<line x1="493.0" y1="168.3" x2="500.6" y2="168.3" stroke="#000" stroke-width="1.0"/>
<rect x="507.5" y="198.3" width="21.4" height="47.8" stroke="#000" stroke-width="1.0" fill="#fff"/>
<line x1="518.2" y1="198.3" x2="518.2" y2="195.0" stroke="#000" stroke-width="1.0"/>
<line x1="514.4" y1="195.0" x2="522.0" y2="195.0" stroke="#000" stroke-width="1.0"/>
<line x1="486.1" y1="161.7" x2="528.9" y2="161.7" stroke="#111" stroke-width="1.0"/>
<text x="507.5" y="159.3" font-size="12.3" text-anchor="middle" font-weight="normal" fill="#000" stroke="#000" stroke-width="0.1968">p=0.2</text>
<text x="507.5" y="261.3" font-size="11.9" text-anchor="middle" font-weight="normal" fill="#000" stroke="#000" stroke-width="0.1904">NKT17</text>
<rect x="560.6" y="59.4" width="21.6" height="186.7" stroke="#000" stroke-width="1.0" fill="#000"/>
<line x1="571.4" y1="59.4" x2="571.4" y2="55.6" stroke="#000" stroke-width="1.0"/>
<line x1="567.6" y1="55.6" x2="575.2" y2="55.6" stroke="#000" stroke-width="1.0"/>
<rect x="582.2" y="140.0" width="21.4" height="106.1" stroke="#000" stroke-width="1.0" fill="#fff"/>
<line x1="592.9" y1="140.0" x2="592.9" y2="136.7" stroke="#000" stroke-width="1.0"/>
<line x1="589.1" y1="136.7" x2="596.7" y2="136.7" stroke="#000" stroke-width="1.0"/>
<line x1="559.4" y1="51.1" x2="612.8" y2="51.1" stroke="#111" stroke-width="1.0"/>
<text x="584.5" y="48.5" font-size="12" text-anchor="middle" font-weight="normal" fill="#000" stroke="#000" stroke-width="0.192">*p&lt;0.001</text>
<text x="583.0" y="261.3" font-size="11.9" text-anchor="middle" font-weight="normal" fill="#000" stroke="#000" stroke-width="0.1904">NKT1</text>
<text x="354.5" y="130.5" font-size="13.2" text-anchor="middle" font-weight="normal" fill="#000" stroke="#000" stroke-width="0.2112" transform="rotate(-90 354.5 130.5)">Absolute cell number (x100)</text>
<text x="17.2" y="298.3" font-size="12" text-anchor="start" font-weight="normal" fill="#000" stroke="#000" stroke-width="0.1"><tspan font-weight="bold">c</tspan>)</text>
<text x="94.5" y="314.5" font-size="11.8" text-anchor="middle" font-weight="normal" fill="#000" stroke="#000" stroke-width="0.18880000000000002">CD24<tspan dy="-4" font-size="8">-</tspan><tspan dy="4"> iNKT</tspan></text>
<text x="216.5" y="314.5" font-size="12" text-anchor="middle" font-weight="normal" fill="#000" stroke="#000" stroke-width="0.192">PLZF<tspan dy="-4" font-size="8">+</tspan></text>
<path d="M73.3 357.4h.6M54.6 360.7h.6M77.2 349.4h.6M87.3 365.8h.6M60.0 349.7h.6M76.9 355.2h.6M70.0 347.7h.6M95.2 360.7h.6M62.1 345.3h.6M91.0 360.4h.6M92.2 359.3h.6M65.3 355.7h.6M52.4 349.1h.6M73.4 357.4h.6M66.7 353.2h.6M78.6 356.4h.6M80.4 355.4h.6M70.8 359.1h.6M74.5 348.6h.6M67.7 354.0h.6M72.9 355.0h.6M74.0 355.1h.6M72.7 345.8h.6M78.2 360.8h.6M78.3 352.8h.6M78.5 347.7h.6M55.0 354.4h.6M64.7 358.8h.6M63.2 336.9h.6M63.6 364.3h.6M70.2 345.1h.6M66.4 357.4h.6M79.0 355.1h.6M88.8 358.6h.6M73.8 357.9h.6M90.5 360.3h.6M84.2 347.0h.6M72.5 358.7h.6M71.0 360.9h.6M80.0 359.9h.6M71.9 370.6h.6M86.4 352.6h.6M74.9 370.9h.6M70.6 359.7h.6M83.8 354.0h.6M62.3 355.2h.6M77.6 361.3h.6M81.8 354.2h.6M82.5 357.5h.6M76.1 354.4h.6M71.6 358.5h.6M63.5 349.9h.6M74.0 344.5h.6M69.6 340.9h.6M67.2 357.7h.6M79.7 353.6h.6M71.7 344.8h.6M92.3 357.4h.6M84.9 348.3h.6M72.1 342.2h.6M81.8 360.1h.6M55.0 353.7h.6M80.3 342.5h.6M55.7 347.1h.6M67.7 344.9h.6M74.3 355.6h.6M80.3 358.6h.6M89.0 361.6h.6M60.9 350.7h.6M63.4 347.0h.6M73.2 354.0h.6M78.9 343.7h.6M61.6 353.8h.6M72.0 352.0h.6M73.4 349.1h.6M81.0 356.3h.6M73.1 349.6h.6M72.3 336.3h.6M64.2 354.2h.6M59.0 355.3h.6M75.5 345.0h.6M71.5 352.0h.6M78.6 358.0h.6M73.6 348.5h.6M72.6 353.6h.6M81.3 355.9h.6M66.8 345.2h.6M70.3 349.2h.6M62.9 353.2h.6M69.1 354.7h.6M79.2 351.3h.6M97.2 351.9h.6M85.0 354.8h.6M85.2 338.6h.6M66.5 355.6h.6M80.0 369.2h.6M77.2 362.3h.6M81.7 360.2h.6M79.1 353.0h.6M79.1 347.0h.6M85.8 347.4h.6M76.5 367.8h.6M71.8 354.1h.6M85.6 354.2h.6M65.9 355.7h.6M79.8 358.6h.6M66.3 365.4h.6M90.7 354.1h.6M76.7 351.2h.6M88.1 349.4h.6M80.7 350.9h.6M67.1 358.7h.6M87.3 353.9h.6M67.2 359.3h.6M73.5 356.0h.6M89.2 361.4h.6M68.8 368.8h.6M74.0 359.1h.6M67.5 353.7h.6M56.5 365.6h.6M87.7 346.1h.6M58.9 343.5h.6M85.8 351.0h.6M73.4 352.0h.6M72.8 346.9h.6M74.2 344.7h.6M73.3 356.0h.6M78.7 352.5h.6M65.0 355.0h.6M69.2 364.2h.6M81.7 353.3h.6M69.3 349.4h.6M64.6 351.7h.6M76.9 357.4h.6M79.7 367.6h.6M67.0 354.1h.6M101.9 341.9h.6M68.8 355.1h.6M75.5 356.7h.6M71.6 356.4h.6M74.5 359.0h.6M55.1 348.2h.6M74.0 347.3h.6M63.6 358.1h.6M67.5 358.1h.6M81.5 356.0h.6M79.1 353.3h.6M59.9 353.8h.6M78.5 350.6h.6M73.0 358.9h.6M65.2 358.2h.6M92.6 350.4h.6M75.5 353.0h.6M89.4 356.1h.6M83.0 349.5h.6M73.8 353.9h.6M56.2 363.4h.6M83.0 342.6h.6M81.4 353.1h.6M78.5 356.4h.6M59.0 352.6h.6M88.9 350.3h.6M63.8 345.2h.6M61.8 356.2h.6M90.9 356.8h.6M76.5 368.5h.6M68.8 349.6h.6M79.3 357.6h.6M63.9 346.4h.6M76.9 355.6h.6" stroke="#8a8a8a" stroke-width="0.7" fill="none"/>
<path d="M62.4 375.8h.6M73.9 383.1h.6M80.2 377.1h.6M76.7 389.6h.6M102.9 374.0h.6M94.7 369.7h.6M83.1 386.2h.6M104.7 373.8h.6M80.9 380.2h.6M59.5 378.2h.6M71.9 382.1h.6M65.1 356.3h.6M82.6 380.9h.6M73.8 387.8h.6M77.9 371.3h.6M89.2 360.7h.6M71.8 377.8h.6M94.7 376.2h.6M86.6 370.8h.6M86.5 396.3h.6M71.7 404.0h.6M72.3 378.2h.6M84.6 389.3h.6M63.4 354.9h.6M91.1 386.7h.6M91.4 406.9h.6M85.1 380.8h.6M95.9 382.1h.6M107.0 364.4h.6M76.4 340.1h.6M94.2 373.9h.6M95.9 401.7h.6M81.9 375.2h.6M74.5 368.8h.6M72.5 385.0h.6M82.6 378.7h.6M79.4 388.1h.6M89.4 376.4h.6M92.0 376.3h.6M64.7 394.0h.6M89.0 367.5h.6M98.2 381.8h.6M58.5 395.7h.6M87.0 387.8h.6M85.0 376.4h.6M58.8 388.7h.6M82.5 374.8h.6M87.3 378.9h.6M92.1 373.9h.6M81.5 354.5h.6M75.7 385.4h.6M102.1 374.0h.6M80.2 395.4h.6M77.1 386.1h.6M107.2 378.4h.6M100.4 370.2h.6M85.1 377.1h.6M83.7 390.4h.6M117.8 370.7h.6M73.4 383.5h.6M66.2 383.5h.6M90.6 374.9h.6M90.0 361.0h.6M93.4 361.0h.6M71.6 371.9h.6M76.0 387.4h.6M83.2 373.6h.6M90.2 395.4h.6M82.1 382.0h.6M100.6 380.9h.6M62.7 405.4h.6M115.1 356.2h.6M81.4 382.6h.6M96.5 385.4h.6M77.9 366.4h.6M83.5 389.4h.6M65.7 366.7h.6M81.6 356.7h.6M78.1 373.2h.6M88.8 370.3h.6M68.8 373.7h.6M81.3 370.7h.6M82.2 386.3h.6M99.8 396.8h.6M70.2 373.4h.6M71.1 377.6h.6M89.8 363.1h.6M89.0 377.7h.6M54.6 381.2h.6M99.9 357.5h.6M94.1 380.3h.6M89.1 382.9h.6M101.6 375.5h.6M95.1 373.5h.6M92.9 369.0h.6M80.4 397.0h.6M88.7 376.3h.6M64.8 369.3h.6M84.9 388.3h.6M88.4 383.8h.6M81.4 392.9h.6M76.1 372.0h.6M95.3 378.7h.6M77.8 371.7h.6M78.1 384.9h.6M87.3 364.7h.6M88.4 380.0h.6M67.0 386.5h.6M77.8 374.3h.6M93.9 392.5h.6M71.7 382.8h.6M68.9 403.5h.6M74.6 391.1h.6M72.3 386.9h.6M115.3 350.0h.6M75.5 383.5h.6M80.6 370.6h.6M114.3 378.9h.6M57.3 387.4h.6" stroke="#9a9a9a" stroke-width="0.7" fill="none"/>
<path d="M86.8 373.8h.6M98.2 361.7h.6M116.6 361.4h.6M90.1 339.6h.6M115.8 368.9h.6M95.8 370.3h.6M109.0 367.8h.6M81.4 356.4h.6M113.0 368.8h.6M112.8 330.5h.6M105.7 365.9h.6M129.5 348.6h.6M100.7 360.4h.6M112.9 354.7h.6M115.5 350.5h.6M106.7 353.7h.6M105.6 351.7h.6M88.0 373.1h.6M107.0 353.3h.6M106.0 371.9h.6M94.2 358.7h.6M109.4 366.3h.6M100.6 334.7h.6M116.4 363.9h.6M104.1 356.7h.6M106.6 354.9h.6M93.8 351.1h.6M98.0 352.7h.6M92.4 367.6h.6M90.9 367.9h.6M93.9 364.2h.6M117.7 362.4h.6M96.7 360.6h.6M105.5 339.2h.6M97.9 362.0h.6M99.3 361.0h.6M111.3 369.2h.6M113.1 367.1h.6M101.1 359.8h.6M101.3 356.2h.6M102.2 339.3h.6M100.7 359.7h.6M94.3 359.7h.6M109.2 358.0h.6M124.8 328.7h.6M101.9 338.1h.6M113.8 391.8h.6M79.0 361.5h.6M109.2 356.4h.6M109.5 333.1h.6M112.5 364.5h.6M104.2 352.9h.6M110.4 354.2h.6M106.2 353.9h.6M81.5 359.6h.6M106.0 369.1h.6M95.2 359.6h.6M110.2 361.7h.6M116.4 383.9h.6M94.9 336.9h.6" stroke="#999" stroke-width="0.7" fill="none"/>
<path d="M113.8 398.6h.6M115.3 382.9h.6M81.4 349.3h.6M114.5 344.9h.6M55.1 343.1h.6M79.9 349.0h.6M100.1 348.5h.6M123.8 363.3h.6M71.1 393.8h.6M82.2 369.9h.6M94.7 358.1h.6M102.1 349.8h.6M67.1 348.3h.6M94.5 366.2h.6M107.2 367.6h.6M77.5 349.4h.6M105.7 376.7h.6M92.3 361.2h.6M115.6 365.3h.6M111.2 377.8h.6M99.7 393.7h.6M82.4 357.1h.6M77.2 347.5h.6M129.2 403.7h.6M95.5 377.5h.6M120.9 382.8h.6M121.5 337.2h.6M80.9 375.0h.6M126.6 367.3h.6M76.1 357.2h.6M80.5 346.1h.6M128.0 351.2h.6M95.4 412.6h.6M121.1 372.4h.6M81.5 374.0h.6M130.7 378.7h.6M122.8 367.2h.6" stroke="#aaa" stroke-width="0.7" fill="none"/>
<path d="M68.6 360 L75.1 349.6 L80 347.8 L92.3 347.6 L100 348.4 L107.7 351.3" fill="none" stroke="#444" stroke-width="0.6" stroke-linejoin="round"/>
<path d="M68.6 360 L77.6 361.2 L82.5 360 L92.3 357.6 L95 356" fill="none" stroke="#444" stroke-width="0.6" stroke-linejoin="round"/>
<path d="M77.6 354.3 L80 351 L92.3 350.3 L96 352 L92.3 355.2 L84 355.2 Z" fill="none" stroke="#444" stroke-width="0.55" stroke-linejoin="round"/>
<path d="M82 352.4 L92 352 L99 353.5 L104 357" fill="none" stroke="#444" stroke-width="0.5"/>
<ellipse cx="101.2" cy="355.2" rx="2.6" ry="2.1" fill="none" stroke="#444" stroke-width="0.5"/>
<g transform="translate(102.5 363.3) rotate(-4)" fill="none" stroke="#444" stroke-width="0.5">
<ellipse cx="0.0" cy="0.0" rx="8.60" ry="15.50"/>
<ellipse cx="0.0" cy="0.5" rx="7.97" ry="14.36"/>
<ellipse cx="0.0" cy="1.0" rx="7.34" ry="13.23"/>
<ellipse cx="0.0" cy="1.5" rx="6.71" ry="12.09"/>
</g>
<g transform="translate(102.9 365.7) rotate(-5)" fill="none" stroke="#111" stroke-width="0.55">
<ellipse cx="0.0" cy="0.0" rx="6.6" ry="9.0" fill="url(#gd)" stroke="none"/>
<ellipse cx="0.0" cy="0.0" rx="7.00" ry="9.50"/>
<ellipse cx="0.0" cy="0.0" rx="6.01" ry="8.15"/>
<ellipse cx="0.0" cy="0.0" rx="5.02" ry="6.81"/>
<ellipse cx="0.0" cy="0.0" rx="4.02" ry="5.46"/>
<ellipse cx="0.0" cy="0.0" rx="3.03" ry="4.12"/>
<ellipse cx="0.0" cy="0.0" rx="2.04" ry="2.77"/>
<ellipse cx="0.0" cy="0.0" rx="1.05" ry="1.43"/>
</g>
<rect x="47.7" y="317.6" width="99.3" height="98.7" stroke="#111" stroke-width="1.4" fill="none"/>
<text x="62.6" y="425.7" font-size="4.6" text-anchor="middle" font-weight="normal" fill="#222" stroke="#222" stroke-width="0.1">0</text>
<text x="80.3" y="425.7" font-size="4.6" text-anchor="middle" font-weight="normal" fill="#222" stroke="#222" stroke-width="0.1">10<tspan dy="-1.8" font-size="3.2">3</tspan></text>
<text x="103.0" y="425.7" font-size="4.6" text-anchor="middle" font-weight="normal" fill="#222" stroke="#222" stroke-width="0.1">10<tspan dy="-1.8" font-size="3.2">4</tspan></text>
<text x="125.5" y="425.7" font-size="4.6" text-anchor="middle" font-weight="normal" fill="#222" stroke="#222" stroke-width="0.1">10<tspan dy="-1.8" font-size="3.2">5</tspan></text>
<text x="146.0" y="425.7" font-size="4.6" text-anchor="middle" font-weight="normal" fill="#222" stroke="#222" stroke-width="0.1">10<tspan dy="-1.8" font-size="3.2">6</tspan></text>
<text x="44.3" y="319.3" font-size="4.6" text-anchor="end" font-weight="normal" fill="#222" stroke="#222" stroke-width="0.1">10<tspan dy="-1.8" font-size="3.2">6</tspan></text>
<text x="44.3" y="340.6" font-size="4.6" text-anchor="end" font-weight="normal" fill="#222" stroke="#222" stroke-width="0.1">10<tspan dy="-1.8" font-size="3.2">5</tspan></text>
<text x="44.3" y="362.1" font-size="4.6" text-anchor="end" font-weight="normal" fill="#222" stroke="#222" stroke-width="0.1">10<tspan dy="-1.8" font-size="3.2">4</tspan></text>
<text x="44.3" y="383.6" font-size="4.6" text-anchor="end" font-weight="normal" fill="#222" stroke="#222" stroke-width="0.1">10<tspan dy="-1.8" font-size="3.2">3</tspan></text>
<text x="44.3" y="409.6" font-size="4.6" text-anchor="end" font-weight="normal" fill="#222" stroke="#222" stroke-width="0.1">0</text>
<path d="M62.6 416.3L62.6 418.9M80.3 416.3L80.3 418.9M103.0 416.3L103.0 418.9M125.5 416.3L125.5 418.9M146.0 416.3L146.0 418.9M45.1 317.6L47.7 317.6M45.1 338.9L47.7 338.9M45.1 360.4L47.7 360.4M45.1 381.9L47.7 381.9M45.1 407.9L47.7 407.9" stroke="#111" stroke-width="0.9" fill="none"/>
<path d="M67.9 416.3L67.9 417.8M71.4 416.3L71.4 417.8M74.1 416.3L74.1 417.8M76.4 416.3L76.4 417.8M78.1 416.3L78.1 417.8M79.4 416.3L79.4 417.8M87.1 416.3L87.1 417.8M91.6 416.3L91.6 417.8M95.1 416.3L95.1 417.8M98.0 416.3L98.0 417.8M100.3 416.3L100.3 417.8M101.9 416.3L101.9 417.8M109.7 416.3L109.7 417.8M114.2 416.3L114.2 417.8M117.6 416.3L117.6 417.8M120.5 416.3L120.5 417.8M122.8 416.3L122.8 417.8M124.3 416.3L124.3 417.8M131.6 416.3L131.6 417.8M135.7 416.3L135.7 417.8M138.8 416.3L138.8 417.8M141.5 416.3L141.5 417.8M143.5 416.3L143.5 417.8M145.0 416.3L145.0 417.8M52.9 416.3L52.9 417.8M56.6 416.3L56.6 417.8M59.6 416.3L59.6 417.8M46.2 318.7L47.7 318.7M46.2 320.2L47.7 320.2M46.2 322.3L47.7 322.3M46.2 325.1L47.7 325.1M46.2 328.3L47.7 328.3M46.2 332.5L47.7 332.5M46.2 340.0L47.7 340.0M46.2 341.5L47.7 341.5M46.2 343.7L47.7 343.7M46.2 346.5L47.7 346.5M46.2 349.7L47.7 349.7M46.2 354.0L47.7 354.0M46.2 361.5L47.7 361.5M46.2 363.0L47.7 363.0M46.2 365.1L47.7 365.1M46.2 367.9L47.7 367.9M46.2 371.1L47.7 371.1M46.2 375.4L47.7 375.4M46.2 383.2L47.7 383.2M46.2 385.0L47.7 385.0M46.2 387.6L47.7 387.6M46.2 391.0L47.7 391.0M46.2 394.9L47.7 394.9M46.2 400.1L47.7 400.1M46.2 410.4L47.7 410.4M46.2 412.9L47.7 412.9" stroke="#222" stroke-width="0.5" fill="none"/>
<rect x="52.2" y="339.8" width="39.8" height="29.1" stroke="#1a1a1a" stroke-width="1.2" fill="none"/>
<text x="70.3" y="338.0" font-size="10.4" text-anchor="middle" font-weight="normal" fill="#000" stroke="#000" stroke-width="0.16640000000000002">9.29</text>
<path d="M82.6 340.4 Q84.5 335.5 91.7 333.2 Q98.8 331.0 108.5 329.4 Q118.3 327.7 128.2 326.9 Q138.0 326.2 144.0 326.0 L150.0 325.9" fill="none" stroke="#808080" stroke-width="1.0"/>
<path d="M160.7 325.9 l-11.2 -4.2 l2.5 4.2 l-2.5 4.2 z" fill="#808080"/>
<path d="M210.3 358.2h.6M208.5 371.7h.6M171.4 359.4h.6M204.8 354.9h.6M193.8 367.1h.6M240.0 365.7h.6M206.5 346.0h.6M238.6 360.7h.6M199.3 349.9h.6M198.9 350.1h.6M201.4 364.2h.6M200.6 362.5h.6M183.0 372.9h.6M186.9 343.6h.6M196.2 353.1h.6M179.8 356.8h.6M205.8 349.4h.6M197.2 372.8h.6M213.7 358.6h.6M202.6 358.9h.6M199.0 366.6h.6M198.1 338.4h.6M199.6 352.0h.6M213.0 354.5h.6M203.0 379.6h.6M179.1 349.9h.6M171.8 338.4h.6M187.2 343.2h.6M170.3 365.6h.6M184.5 356.7h.6M206.6 372.2h.6M238.8 369.3h.6M202.9 361.7h.6M236.0 372.9h.6M193.8 364.1h.6M205.7 360.5h.6M190.0 348.1h.6M189.3 346.1h.6M224.5 364.8h.6" stroke="#b5b5b5" stroke-width="0.6" fill="none"/>
<g transform="translate(199.1 355.5) rotate(8)" fill="none" stroke="#333" stroke-width="0.5">
<ellipse cx="0.0" cy="0.0" rx="27.0" ry="12.6" fill="url(#gl)" stroke="none"/>
<ellipse cx="0.0" cy="0.0" rx="27.00" ry="12.60"/>
<ellipse cx="0.0" cy="0.0" rx="24.98" ry="11.65"/>
<ellipse cx="0.0" cy="0.0" rx="22.95" ry="10.71"/>
<ellipse cx="0.0" cy="0.0" rx="20.92" ry="9.76"/>
<ellipse cx="0.0" cy="0.0" rx="18.90" ry="8.82"/>
</g>
<g transform="translate(196.0 351.6) rotate(6)" fill="none" stroke="#111" stroke-width="0.55">
<ellipse cx="0.0" cy="0.0" rx="18.4" ry="9.0" fill="url(#gm)" stroke="none"/>
<ellipse cx="0.0" cy="0.0" rx="17.50" ry="8.60"/>
<ellipse cx="0.0" cy="0.0" rx="15.05" ry="7.40"/>
<ellipse cx="0.0" cy="0.0" rx="12.60" ry="6.19"/>
<ellipse cx="0.0" cy="0.0" rx="10.15" ry="4.99"/>
<ellipse cx="0.0" cy="0.0" rx="7.70" ry="3.78"/>
<ellipse cx="0.0" cy="0.0" rx="5.25" ry="2.58"/>
</g>
<g transform="translate(195.0 348.2) rotate(3)" fill="none" stroke="none" stroke-width="0.5">
<ellipse cx="0.0" cy="0.0" rx="10.5" ry="3.2" fill="url(#gd)" stroke="none"/>
<ellipse cx="0.0" cy="0.0" rx="10.50" ry="3.20"/>
</g>
<g transform="translate(196.0 355.3) rotate(5)" fill="none" stroke="none" stroke-width="0.5">
<ellipse cx="0.0" cy="0.0" rx="12.0" ry="3.3" fill="url(#gd)" stroke="none"/>
<ellipse cx="0.0" cy="0.0" rx="12.00" ry="3.30"/>
</g>
<g transform="translate(213.8 358.6) rotate(0)" fill="none" stroke="#111" stroke-width="0.55">
<ellipse cx="0.0" cy="0.0" rx="9.2" ry="7.4" fill="url(#gm)" stroke="none"/>
<ellipse cx="0.0" cy="0.0" rx="8.80" ry="7.00"/>
<ellipse cx="0.0" cy="0.0" rx="7.04" ry="5.60"/>
<ellipse cx="0.0" cy="0.0" rx="5.28" ry="4.20"/>
<ellipse cx="0.0" cy="0.0" rx="3.52" ry="2.80"/>
<ellipse cx="0.0" cy="0.0" rx="1.76" ry="1.40"/>
</g>
<g transform="translate(213.0 355.3) rotate(0)" fill="none" stroke="none" stroke-width="0.5">
<ellipse cx="0.0" cy="0.0" rx="4.5" ry="2.6" fill="url(#gd)" stroke="none"/>
<ellipse cx="0.0" cy="0.0" rx="4.50" ry="2.60"/>
</g>
<g transform="translate(214.6 361.5) rotate(0)" fill="none" stroke="none" stroke-width="0.5">
<ellipse cx="0.0" cy="0.0" rx="5.0" ry="2.8" fill="url(#gd)" stroke="none"/>
<ellipse cx="0.0" cy="0.0" rx="5.00" ry="2.80"/>
</g>
<rect x="164.9" y="317.6" width="99.6" height="98.6" stroke="#111" stroke-width="1.4" fill="none"/>
<text x="184.2" y="425.6" font-size="4.6" text-anchor="middle" font-weight="normal" fill="#222" stroke="#222" stroke-width="0.1">0</text>
<text x="195.6" y="425.6" font-size="4.6" text-anchor="middle" font-weight="normal" fill="#222" stroke="#222" stroke-width="0.1">10<tspan dy="-1.8" font-size="3.2">3</tspan></text>
<text x="219.9" y="425.6" font-size="4.6" text-anchor="middle" font-weight="normal" fill="#222" stroke="#222" stroke-width="0.1">10<tspan dy="-1.8" font-size="3.2">4</tspan></text>
<text x="241.7" y="425.6" font-size="4.6" text-anchor="middle" font-weight="normal" fill="#222" stroke="#222" stroke-width="0.1">10<tspan dy="-1.8" font-size="3.2">5</tspan></text>
<text x="263.5" y="425.6" font-size="4.6" text-anchor="middle" font-weight="normal" fill="#222" stroke="#222" stroke-width="0.1">10<tspan dy="-1.8" font-size="3.2">6</tspan></text>
<text x="161.5" y="319.3" font-size="4.6" text-anchor="end" font-weight="normal" fill="#222" stroke="#222" stroke-width="0.1">10<tspan dy="-1.8" font-size="3.2">6</tspan></text>
<text x="161.5" y="340.6" font-size="4.6" text-anchor="end" font-weight="normal" fill="#222" stroke="#222" stroke-width="0.1">10<tspan dy="-1.8" font-size="3.2">5</tspan></text>
<text x="161.5" y="362.1" font-size="4.6" text-anchor="end" font-weight="normal" fill="#222" stroke="#222" stroke-width="0.1">10<tspan dy="-1.8" font-size="3.2">4</tspan></text>
<text x="161.5" y="383.5" font-size="4.6" text-anchor="end" font-weight="normal" fill="#222" stroke="#222" stroke-width="0.1">10<tspan dy="-1.8" font-size="3.2">3</tspan></text>
<text x="161.5" y="409.5" font-size="4.6" text-anchor="end" font-weight="normal" fill="#222" stroke="#222" stroke-width="0.1">0</text>
<path d="M184.2 416.2L184.2 418.8M195.6 416.2L195.6 418.8M219.9 416.2L219.9 418.8M241.7 416.2L241.7 418.8M263.5 416.2L263.5 418.8M162.3 317.6L164.9 317.6M162.3 338.9L164.9 338.9M162.3 360.4L164.9 360.4M162.3 381.8L164.9 381.8M162.3 407.8L164.9 407.8" stroke="#111" stroke-width="0.9" fill="none"/>
<path d="M187.6 416.2L187.6 417.7M189.9 416.2L189.9 417.7M191.6 416.2L191.6 417.7M193.1 416.2L193.1 417.7M194.2 416.2L194.2 417.7M195.0 416.2L195.0 417.7M202.9 416.2L202.9 417.7M207.7 416.2L207.7 417.7M211.4 416.2L211.4 417.7M214.5 416.2L214.5 417.7M217.0 416.2L217.0 417.7M218.7 416.2L218.7 417.7M226.4 416.2L226.4 417.7M230.8 416.2L230.8 417.7M234.1 416.2L234.1 417.7M236.9 416.2L236.9 417.7M239.1 416.2L239.1 417.7M240.6 416.2L240.6 417.7M248.2 416.2L248.2 417.7M252.6 416.2L252.6 417.7M255.9 416.2L255.9 417.7M258.7 416.2L258.7 417.7M260.9 416.2L260.9 417.7M262.4 416.2L262.4 417.7M171.7 416.2L171.7 417.7M176.5 416.2L176.5 417.7M180.4 416.2L180.4 417.7M163.4 318.7L164.9 318.7M163.4 320.2L164.9 320.2M163.4 322.3L164.9 322.3M163.4 325.1L164.9 325.1M163.4 328.2L164.9 328.2M163.4 332.5L164.9 332.5M163.4 340.0L164.9 340.0M163.4 341.5L164.9 341.5M163.4 343.6L164.9 343.6M163.4 346.4L164.9 346.4M163.4 349.6L164.9 349.6M163.4 353.9L164.9 353.9M163.4 361.5L164.9 361.5M163.4 363.0L164.9 363.0M163.4 365.1L164.9 365.1M163.4 367.9L164.9 367.9M163.4 371.1L164.9 371.1M163.4 375.4L164.9 375.4M163.4 383.1L164.9 383.1M163.4 384.9L164.9 384.9M163.4 387.5L164.9 387.5M163.4 390.9L164.9 390.9M163.4 394.8L164.9 394.8M163.4 400.0L164.9 400.0M163.4 410.3L164.9 410.3M163.4 412.8L164.9 412.8" stroke="#222" stroke-width="0.5" fill="none"/>
<path d="M167.6 338 H232.7 V371.6 H167.6 Z" fill="none" stroke="#1a1a1a" stroke-width="1.2"/>
<line x1="215.1" y1="338.0" x2="199.1" y2="371.6" stroke="#1a1a1a" stroke-width="2.4"/>
<text x="191.2" y="335.7" font-size="10.4" text-anchor="middle" font-weight="normal" fill="#000" stroke="#000" stroke-width="0.16640000000000002">69.2</text>
<text x="249.3" y="356.4" font-size="10.4" text-anchor="middle" font-weight="normal" fill="#000" stroke="#000" stroke-width="0.16640000000000002">28.1</text>
<text x="182.7" y="380.5" font-size="8.8" text-anchor="middle" font-weight="normal" fill="#000" stroke="#000" stroke-width="0.1408">NKT2</text>
<text x="217.0" y="381.5" font-size="8.8" text-anchor="middle" font-weight="normal" fill="#000" stroke="#000" stroke-width="0.1408">NKT17</text>
<path d="M62.4 512.6h.6M79.1 482.8h.6M86.7 507.3h.6M88.5 488.9h.6M76.2 503.8h.6M73.6 501.5h.6M80.4 486.6h.6M62.1 487.5h.6M67.5 494.6h.6M74.9 502.4h.6M72.3 493.9h.6M68.5 508.6h.6M78.1 500.9h.6M69.4 514.0h.6M67.2 505.8h.6M81.2 497.6h.6M78.6 490.0h.6M80.1 501.8h.6M59.3 506.0h.6M64.9 511.5h.6M66.6 498.5h.6M74.3 497.0h.6M74.1 495.0h.6M77.4 500.0h.6M73.7 475.2h.6M81.3 500.3h.6M57.7 500.9h.6M75.7 509.6h.6M63.3 513.9h.6M70.7 521.6h.6M70.8 506.1h.6M69.1 490.0h.6M80.8 508.2h.6M84.3 507.7h.6M67.4 485.0h.6M66.8 493.9h.6M65.5 505.2h.6M74.6 497.6h.6M73.4 498.7h.6M73.7 506.8h.6M79.7 493.8h.6M59.9 512.8h.6M72.9 510.0h.6M58.9 497.0h.6M72.2 487.0h.6M67.9 506.5h.6M80.6 514.3h.6M65.1 487.4h.6M76.2 508.5h.6M73.5 488.3h.6" stroke="#b0b0b0" stroke-width="0.6" fill="none"/>
<path d="M112.5 479.5h.6M108.9 464.2h.6M104.9 479.5h.6M91.1 447.9h.6M105.3 475.8h.6M100.2 480.7h.6M90.6 469.0h.6M95.1 476.9h.6M125.5 467.0h.6M132.9 488.3h.6M112.7 477.0h.6M128.3 467.8h.6M98.2 457.2h.6M107.6 486.1h.6" stroke="#bbb" stroke-width="0.6" fill="none"/>
<g transform="translate(72.7 473.2) rotate(-5)" fill="none" stroke="#444" stroke-width="0.5">
<ellipse cx="0.0" cy="0.0" rx="18.50" ry="11.70"/>
<ellipse cx="0.0" cy="0.0" rx="17.11" ry="10.82"/>
<ellipse cx="0.0" cy="0.0" rx="15.72" ry="9.94"/>
</g>
<g transform="translate(88.0 473.5) rotate(0)" fill="none" stroke="#444" stroke-width="0.45">
<ellipse cx="0.0" cy="0.0" rx="12.0" ry="8.5" fill="url(#gl)" stroke="none"/>
<ellipse cx="0.0" cy="0.0" rx="12.00" ry="8.50"/>
<ellipse cx="0.0" cy="0.0" rx="9.60" ry="6.80"/>
<ellipse cx="0.0" cy="0.0" rx="7.20" ry="5.10"/>
<ellipse cx="0.0" cy="0.0" rx="4.80" ry="3.40"/>
</g>
<g transform="translate(71.7 474.0) rotate(-7)" fill="none" stroke="#111" stroke-width="0.55">
<ellipse cx="0.0" cy="0.0" rx="15.7" ry="9.3" fill="url(#gm)" stroke="none"/>
<ellipse cx="0.0" cy="0.0" rx="14.50" ry="8.60"/>
<ellipse cx="0.0" cy="0.0" rx="12.69" ry="7.52"/>
<ellipse cx="0.0" cy="0.0" rx="10.88" ry="6.45"/>
<ellipse cx="0.0" cy="0.0" rx="9.06" ry="5.38"/>
<ellipse cx="0.0" cy="0.0" rx="7.25" ry="4.30"/>
<ellipse cx="0.0" cy="0.0" rx="5.44" ry="3.22"/>
<ellipse cx="0.0" cy="0.0" rx="3.62" ry="2.15"/>
</g>
<g transform="translate(71.5 470.6) rotate(-8)" fill="none" stroke="none" stroke-width="0.5">
<ellipse cx="0.0" cy="0.0" rx="9.5" ry="3.0" fill="url(#gd)" stroke="none"/>
<ellipse cx="0.0" cy="0.0" rx="9.50" ry="3.00"/>
</g>
<g transform="translate(72.6 478.4) rotate(-6)" fill="none" stroke="none" stroke-width="0.5">
<ellipse cx="0.0" cy="0.0" rx="10.5" ry="3.1" fill="url(#gd)" stroke="none"/>
<ellipse cx="0.0" cy="0.0" rx="10.50" ry="3.10"/>
</g>
<path d="M67 475.6 L78 473.2" stroke="#f4f4f4" stroke-width="0.9" stroke-linecap="round"/>
<g transform="translate(106.0 472.5) rotate(0)" fill="none" stroke="#444" stroke-width="0.5">
<path d="M-11.7 0 C-11.7 -11.3 11.7 -11.3 11.7 0 C11.7 12.7 4.7 23.0 0 23.0 C-4.7 23.0 -11.7 12.7 -11.7 0 Z"/>
<path d="M-10.6 0 C-10.6 -10.3 10.6 -10.3 10.6 0 C10.6 11.5 4.3 20.9 0 20.9 C-4.3 20.9 -10.6 11.5 -10.6 0 Z"/>
<path d="M-9.6 0 C-9.6 -9.3 9.6 -9.3 9.6 0 C9.6 10.4 3.8 18.9 0 18.9 C-3.8 18.9 -9.6 10.4 -9.6 0 Z"/>
</g>
<g transform="translate(104.6 478.3) rotate(0)" fill="none" stroke="#111" stroke-width="0.5">
<ellipse cx="0.0" cy="0.0" rx="10.0" ry="10.8" fill="url(#gd)" stroke="none"/>
<ellipse cx="0.0" cy="0.0" rx="9.50" ry="10.30"/>
<ellipse cx="0.0" cy="0.0" rx="8.31" ry="9.01"/>
<ellipse cx="0.0" cy="0.0" rx="7.12" ry="7.73"/>
<ellipse cx="0.0" cy="0.0" rx="5.94" ry="6.44"/>
<ellipse cx="0.0" cy="0.0" rx="4.75" ry="5.15"/>
<ellipse cx="0.0" cy="0.0" rx="3.56" ry="3.86"/>
<ellipse cx="0.0" cy="0.0" rx="2.38" ry="2.58"/>
</g>
<path d="M102.8 477.2 L106.4 477.2 L104.6 481 Z" fill="#fff"/>
<ellipse cx="68.8" cy="497.4" rx="2.7" ry="2" fill="none" stroke="#444" stroke-width="0.55"/>
<rect x="47.7" y="434.5" width="98.9" height="99.5" stroke="#111" stroke-width="1.4" fill="none"/>
<text x="62.5" y="543.4" font-size="4.6" text-anchor="middle" font-weight="normal" fill="#222" stroke="#222" stroke-width="0.1">0</text>
<text x="80.1" y="543.4" font-size="4.6" text-anchor="middle" font-weight="normal" fill="#222" stroke="#222" stroke-width="0.1">10<tspan dy="-1.8" font-size="3.2">3</tspan></text>
<text x="102.8" y="543.4" font-size="4.6" text-anchor="middle" font-weight="normal" fill="#222" stroke="#222" stroke-width="0.1">10<tspan dy="-1.8" font-size="3.2">4</tspan></text>
<text x="125.1" y="543.4" font-size="4.6" text-anchor="middle" font-weight="normal" fill="#222" stroke="#222" stroke-width="0.1">10<tspan dy="-1.8" font-size="3.2">5</tspan></text>
<text x="145.6" y="543.4" font-size="4.6" text-anchor="middle" font-weight="normal" fill="#222" stroke="#222" stroke-width="0.1">10<tspan dy="-1.8" font-size="3.2">6</tspan></text>
<text x="44.3" y="436.2" font-size="4.6" text-anchor="end" font-weight="normal" fill="#222" stroke="#222" stroke-width="0.1">10<tspan dy="-1.8" font-size="3.2">6</tspan></text>
<text x="44.3" y="457.7" font-size="4.6" text-anchor="end" font-weight="normal" fill="#222" stroke="#222" stroke-width="0.1">10<tspan dy="-1.8" font-size="3.2">5</tspan></text>
<text x="44.3" y="479.4" font-size="4.6" text-anchor="end" font-weight="normal" fill="#222" stroke="#222" stroke-width="0.1">10<tspan dy="-1.8" font-size="3.2">4</tspan></text>
<text x="44.3" y="501.0" font-size="4.6" text-anchor="end" font-weight="normal" fill="#222" stroke="#222" stroke-width="0.1">10<tspan dy="-1.8" font-size="3.2">3</tspan></text>
<text x="44.3" y="527.2" font-size="4.6" text-anchor="end" font-weight="normal" fill="#222" stroke="#222" stroke-width="0.1">0</text>
<path d="M62.5 534.0L62.5 536.6M80.1 534.0L80.1 536.6M102.8 534.0L102.8 536.6M125.1 534.0L125.1 536.6M145.6 534.0L145.6 536.6M45.1 434.5L47.7 434.5M45.1 456.0L47.7 456.0M45.1 477.7L47.7 477.7M45.1 499.3L47.7 499.3M45.1 525.5L47.7 525.5" stroke="#111" stroke-width="0.9" fill="none"/>
<path d="M67.8 534.0L67.8 535.5M71.3 534.0L71.3 535.5M74.0 534.0L74.0 535.5M76.3 534.0L76.3 535.5M78.0 534.0L78.0 535.5M79.3 534.0L79.3 535.5M86.9 534.0L86.9 535.5M91.5 534.0L91.5 535.5M94.9 534.0L94.9 535.5M97.8 534.0L97.8 535.5M100.1 534.0L100.1 535.5M101.7 534.0L101.7 535.5M109.5 534.0L109.5 535.5M114.0 534.0L114.0 535.5M117.3 534.0L117.3 535.5M120.2 534.0L120.2 535.5M122.5 534.0L122.5 535.5M124.0 534.0L124.0 535.5M131.3 534.0L131.3 535.5M135.4 534.0L135.4 535.5M138.4 534.0L138.4 535.5M141.1 534.0L141.1 535.5M143.2 534.0L143.2 535.5M144.6 534.0L144.6 535.5M52.9 534.0L52.9 535.5M56.6 534.0L56.6 535.5M59.6 534.0L59.6 535.5M46.2 435.6L47.7 435.6M46.2 437.1L47.7 437.1M46.2 439.2L47.7 439.2M46.2 442.0L47.7 442.0M46.2 445.2L47.7 445.2M46.2 449.5L47.7 449.5M46.2 457.1L47.7 457.1M46.2 458.6L47.7 458.6M46.2 460.8L47.7 460.8M46.2 463.6L47.7 463.6M46.2 466.8L47.7 466.8M46.2 471.2L47.7 471.2M46.2 478.8L47.7 478.8M46.2 480.3L47.7 480.3M46.2 482.4L47.7 482.4M46.2 485.2L47.7 485.2M46.2 488.5L47.7 488.5M46.2 492.8L47.7 492.8M46.2 500.6L47.7 500.6M46.2 502.4L47.7 502.4M46.2 505.1L47.7 505.1M46.2 508.5L47.7 508.5M46.2 512.4L47.7 512.4M46.2 517.7L47.7 517.7M46.2 528.1L47.7 528.1M46.2 530.6L47.7 530.6" stroke="#222" stroke-width="0.5" fill="none"/>
<rect x="51.7" y="456.9" width="39.9" height="29.1" stroke="#1a1a1a" stroke-width="1.2" fill="none"/>
<text x="69.8" y="454.2" font-size="10.4" text-anchor="middle" font-weight="normal" fill="#000" stroke="#000" stroke-width="0.16640000000000002">47.8</text>
<path d="M80.2 462.8 Q84.0 455.5 92.0 453.0 Q100.0 450.5 110.0 449.1 Q120.0 447.6 130.0 447.1 Q140.0 446.6 145.0 446.6 L150.0 446.5" fill="none" stroke="#808080" stroke-width="1.0"/>
<path d="M160.7 446.6 l-11.2 -4.2 l2.5 4.2 l-2.5 4.2 z" fill="#808080"/>
<g transform="translate(195.5 473.8) rotate(2)" fill="none" stroke="#333" stroke-width="0.5">
<ellipse cx="0.0" cy="0.0" rx="26.5" ry="10.0" fill="url(#gl)" stroke="none"/>
<ellipse cx="0.0" cy="0.0" rx="26.50" ry="10.00"/>
<ellipse cx="0.0" cy="0.0" rx="24.03" ry="9.07"/>
<ellipse cx="0.0" cy="0.0" rx="21.55" ry="8.13"/>
<ellipse cx="0.0" cy="0.0" rx="19.08" ry="7.20"/>
</g>
<g transform="translate(194.5 474.2) rotate(2)" fill="none" stroke="#111" stroke-width="0.55">
<ellipse cx="0.0" cy="0.0" rx="20.5" ry="8.0" fill="url(#gm)" stroke="none"/>
<ellipse cx="0.0" cy="0.0" rx="19.50" ry="7.60"/>
<ellipse cx="0.0" cy="0.0" rx="16.77" ry="6.54"/>
<ellipse cx="0.0" cy="0.0" rx="14.04" ry="5.47"/>
<ellipse cx="0.0" cy="0.0" rx="11.31" ry="4.41"/>
<ellipse cx="0.0" cy="0.0" rx="8.58" ry="3.34"/>
<ellipse cx="0.0" cy="0.0" rx="5.85" ry="2.28"/>
</g>
<g transform="translate(191.5 471.0) rotate(-3)" fill="none" stroke="none" stroke-width="0.5">
<ellipse cx="0.0" cy="0.0" rx="13.0" ry="2.9" fill="url(#gd)" stroke="none"/>
<ellipse cx="0.0" cy="0.0" rx="13.00" ry="2.90"/>
</g>
<g transform="translate(195.0 477.6) rotate(1)" fill="none" stroke="none" stroke-width="0.5">
<ellipse cx="0.0" cy="0.0" rx="14.0" ry="3.0" fill="url(#gd)" stroke="none"/>
<ellipse cx="0.0" cy="0.0" rx="14.00" ry="3.00"/>
</g>
<rect x="164.9" y="434.5" width="99.1" height="99.3" stroke="#111" stroke-width="1.4" fill="none"/>
<text x="184.1" y="543.2" font-size="4.6" text-anchor="middle" font-weight="normal" fill="#222" stroke="#222" stroke-width="0.1">0</text>
<text x="195.4" y="543.2" font-size="4.6" text-anchor="middle" font-weight="normal" fill="#222" stroke="#222" stroke-width="0.1">10<tspan dy="-1.8" font-size="3.2">3</tspan></text>
<text x="219.6" y="543.2" font-size="4.6" text-anchor="middle" font-weight="normal" fill="#222" stroke="#222" stroke-width="0.1">10<tspan dy="-1.8" font-size="3.2">4</tspan></text>
<text x="241.3" y="543.2" font-size="4.6" text-anchor="middle" font-weight="normal" fill="#222" stroke="#222" stroke-width="0.1">10<tspan dy="-1.8" font-size="3.2">5</tspan></text>
<text x="263.0" y="543.2" font-size="4.6" text-anchor="middle" font-weight="normal" fill="#222" stroke="#222" stroke-width="0.1">10<tspan dy="-1.8" font-size="3.2">6</tspan></text>
<text x="161.5" y="436.2" font-size="4.6" text-anchor="end" font-weight="normal" fill="#222" stroke="#222" stroke-width="0.1">10<tspan dy="-1.8" font-size="3.2">6</tspan></text>
<text x="161.5" y="457.6" font-size="4.6" text-anchor="end" font-weight="normal" fill="#222" stroke="#222" stroke-width="0.1">10<tspan dy="-1.8" font-size="3.2">5</tspan></text>
<text x="161.5" y="479.3" font-size="4.6" text-anchor="end" font-weight="normal" fill="#222" stroke="#222" stroke-width="0.1">10<tspan dy="-1.8" font-size="3.2">4</tspan></text>
<text x="161.5" y="500.8" font-size="4.6" text-anchor="end" font-weight="normal" fill="#222" stroke="#222" stroke-width="0.1">10<tspan dy="-1.8" font-size="3.2">3</tspan></text>
<text x="161.5" y="527.1" font-size="4.6" text-anchor="end" font-weight="normal" fill="#222" stroke="#222" stroke-width="0.1">0</text>
<path d="M184.1 533.8L184.1 536.4M195.4 533.8L195.4 536.4M219.6 533.8L219.6 536.4M241.3 533.8L241.3 536.4M263.0 533.8L263.0 536.4M162.3 434.5L164.9 434.5M162.3 455.9L164.9 455.9M162.3 477.6L164.9 477.6M162.3 499.1L164.9 499.1M162.3 525.4L164.9 525.4" stroke="#111" stroke-width="0.9" fill="none"/>
<path d="M187.5 533.8L187.5 535.3M189.8 533.8L189.8 535.3M191.5 533.8L191.5 535.3M192.9 533.8L192.9 535.3M194.1 533.8L194.1 535.3M194.9 533.8L194.9 535.3M202.7 533.8L202.7 535.3M207.5 533.8L207.5 535.3M211.1 533.8L211.1 535.3M214.3 533.8L214.3 535.3M216.7 533.8L216.7 535.3M218.4 533.8L218.4 535.3M226.1 533.8L226.1 535.3M230.5 533.8L230.5 535.3M233.7 533.8L233.7 535.3M236.5 533.8L236.5 535.3M238.7 533.8L238.7 535.3M240.2 533.8L240.2 535.3M247.8 533.8L247.8 535.3M252.2 533.8L252.2 535.3M255.4 533.8L255.4 535.3M258.2 533.8L258.2 535.3M260.4 533.8L260.4 535.3M261.9 533.8L261.9 535.3M171.6 533.8L171.6 535.3M176.4 533.8L176.4 535.3M180.3 533.8L180.3 535.3M163.4 435.6L164.9 435.6M163.4 437.1L164.9 437.1M163.4 439.2L164.9 439.2M163.4 442.0L164.9 442.0M163.4 445.2L164.9 445.2M163.4 449.5L164.9 449.5M163.4 457.0L164.9 457.0M163.4 458.5L164.9 458.5M163.4 460.7L164.9 460.7M163.4 463.5L164.9 463.5M163.4 466.8L164.9 466.8M163.4 471.1L164.9 471.1M163.4 478.7L164.9 478.7M163.4 480.2L164.9 480.2M163.4 482.3L164.9 482.3M163.4 485.1L164.9 485.1M163.4 488.4L164.9 488.4M163.4 492.7L164.9 492.7M163.4 500.5L164.9 500.5M163.4 502.3L164.9 502.3M163.4 504.9L164.9 504.9M163.4 508.3L164.9 508.3M163.4 512.3L164.9 512.3M163.4 517.5L164.9 517.5M163.4 527.9L164.9 527.9M163.4 530.4L164.9 530.4" stroke="#222" stroke-width="0.5" fill="none"/>
<path d="M166.6 454.9 H232.3 V488.5 H166.6 Z" fill="none" stroke="#1a1a1a" stroke-width="1.2"/>
<line x1="214.3" y1="454.9" x2="198.5" y2="488.5" stroke="#1a1a1a" stroke-width="2.4"/>
<text x="191.2" y="452.8" font-size="10.4" text-anchor="middle" font-weight="normal" fill="#000" stroke="#000" stroke-width="0.16640000000000002">81.9</text>
<text x="249.3" y="472.9" font-size="10.4" text-anchor="middle" font-weight="normal" fill="#000" stroke="#000" stroke-width="0.16640000000000002">15.6</text>
<text x="180.5" y="496.3" font-size="8.8" text-anchor="middle" font-weight="normal" fill="#000" stroke="#000" stroke-width="0.1408">NKT2</text>
<text x="215.0" y="497.8" font-size="8.8" text-anchor="middle" font-weight="normal" fill="#000" stroke="#000" stroke-width="0.1408">NKT17</text>
<text x="101.5" y="553.8" font-size="12.2" text-anchor="middle" font-weight="normal" fill="#000" stroke="#000" stroke-width="0.19519999999999998">Tbet</text>
<text x="205.4" y="554.4" font-size="12.2" text-anchor="middle" font-weight="normal" fill="#000" stroke="#000" stroke-width="0.19519999999999998">ROR-γt</text>
<text x="34.6" y="420.7" font-size="12.2" text-anchor="middle" font-weight="normal" fill="#000" stroke="#000" stroke-width="0.19519999999999998" transform="rotate(-90 34.6 420.7)">PLZF</text>
<line x1="31.8" y1="317.9" x2="31.8" y2="402.5" stroke="#222" stroke-width="1.1"/>
<line x1="31.8" y1="444.2" x2="31.8" y2="529.5" stroke="#222" stroke-width="1.1"/>
<rect x="301.6" y="278.2" width="21.4" height="7.3" stroke="none" stroke-width="0" fill="#b0b0b0"/>
<text x="327.8" y="285.2" font-size="9.7" text-anchor="start" font-weight="normal" fill="#111" stroke="#111" stroke-width="0.1">Unstimulated</text>
<line x1="303.0" y1="292.3" x2="323.0" y2="292.3" stroke="#111" stroke-width="1.0"/>
<text x="327.8" y="295.8" font-size="9.7" text-anchor="start" font-weight="normal" fill="#111" stroke="#111" stroke-width="0.1">Stimulated</text>
<text x="352.2" y="313.5" font-size="11.5" text-anchor="middle" font-weight="normal" fill="#000" stroke="#000" stroke-width="0.184">NKT2</text>
<text x="472.5" y="313.5" font-size="11.4" text-anchor="middle" font-weight="normal" fill="#000" stroke="#000" stroke-width="0.1824">NKT17</text>
<path d="M304.9 417.3 C305.2 415.9 306.3 409.4 306.7 405.8 C307.1 402.2 307.5 393.7 307.9 388.6 C308.3 383.4 309.4 370.0 309.9 364.7 C310.4 359.3 311.2 346.7 311.7 345.5 C312.1 344.3 313.0 351.1 313.4 355.1 C313.8 359.0 314.5 377.7 314.9 377.1 C315.3 376.5 316.2 357.0 316.6 350.3 C317.1 343.6 318.0 325.3 318.4 323.5 C318.8 321.7 319.6 333.6 319.8 336.0 C320.1 338.3 320.3 342.8 320.6 342.7 C320.9 342.5 321.9 334.6 322.3 335.0 C322.8 335.4 323.5 340.6 324.1 345.5 C324.6 350.4 325.9 367.9 326.5 374.2 C327.2 380.6 328.4 392.7 329.0 396.2 C329.6 399.8 330.9 402.5 331.5 402.9 C332.1 403.4 333.5 400.0 334.0 400.1 C334.5 400.2 335.3 402.1 335.7 403.9 C336.2 405.7 337.2 412.9 337.7 414.4 C338.3 416.0 339.7 416.3 340.2 416.3 C340.7 416.3 341.1 414.3 341.4 414.4 C341.8 414.5 343.0 416.9 343.2 417.3 L343.2 417.3 L304.9 417.3 Z" fill="#dcdcdc" stroke="none"/>
<path d="M304.9 417.3 C305.2 415.9 306.3 409.4 306.7 405.8 C307.1 402.2 307.5 393.7 307.9 388.6 C308.3 383.4 309.4 370.0 309.9 364.7 C310.4 359.3 311.2 346.7 311.7 345.5 C312.1 344.3 313.0 351.1 313.4 355.1 C313.8 359.0 314.5 377.7 314.9 377.1 C315.3 376.5 316.2 357.0 316.6 350.3 C317.1 343.6 318.0 325.3 318.4 323.5 C318.8 321.7 319.6 333.6 319.8 336.0 C320.1 338.3 320.3 342.8 320.6 342.7 C320.9 342.5 321.9 334.6 322.3 335.0 C322.8 335.4 323.5 340.6 324.1 345.5 C324.6 350.4 325.9 367.9 326.5 374.2 C327.2 380.6 328.4 392.7 329.0 396.2 C329.6 399.8 330.9 402.5 331.5 402.9 C332.1 403.4 333.5 400.0 334.0 400.1 C334.5 400.2 335.3 402.1 335.7 403.9 C336.2 405.7 337.2 412.9 337.7 414.4 C338.3 416.0 339.7 416.3 340.2 416.3 C340.7 416.3 341.1 414.3 341.4 414.4 C341.8 414.5 343.0 416.9 343.2 417.3" fill="none" stroke="#7a7a7a" stroke-width="1.0" stroke-linejoin="round"/>
<path d="M297.5 417.3 C297.7 417.1 298.7 415.5 299.2 415.4 C299.8 415.3 300.9 416.5 301.7 416.3 C302.5 416.2 304.7 414.8 305.4 414.4 C306.2 414.1 307.3 414.1 307.9 413.5 C308.5 412.9 309.9 409.9 310.4 409.6 C311.0 409.4 311.9 411.6 312.4 411.6 C312.9 411.6 313.7 409.8 314.1 409.6 C314.6 409.5 315.7 411.1 316.1 410.6 C316.6 410.1 317.4 405.9 317.9 405.8 C318.3 405.7 319.4 409.9 319.8 409.6 C320.3 409.4 321.1 404.1 321.6 403.9 C322.0 403.7 322.9 408.6 323.3 407.7 C323.8 406.9 324.9 397.6 325.3 397.2 C325.7 396.8 326.4 405.0 326.8 404.9 C327.2 404.7 327.8 398.3 328.3 396.2 C328.7 394.2 329.8 389.2 330.3 388.6 C330.7 388.0 331.4 391.3 331.8 391.5 C332.1 391.6 332.8 388.9 333.2 389.5 C333.7 390.1 334.7 395.2 335.2 396.2 C335.7 397.3 336.8 398.6 337.2 398.2 C337.7 397.7 338.5 393.5 339.0 392.4 C339.4 391.3 340.2 390.0 340.7 389.5 C341.2 389.1 342.2 388.8 342.7 388.6 C343.1 388.4 344.1 388.8 344.4 387.6 C344.7 386.4 345.0 381.1 345.2 379.0 C345.4 377.0 345.7 372.0 345.9 371.4 C346.2 370.8 346.9 374.7 347.2 374.2 C347.4 373.8 347.8 368.9 348.1 367.5 C348.5 366.2 349.2 365.3 349.6 363.7 C350.0 362.2 351.0 356.8 351.4 355.1 C351.7 353.4 352.3 352.7 352.6 350.3 C352.9 347.9 353.4 339.3 353.6 336.0 C353.9 332.6 354.4 322.9 354.6 323.5 C354.8 324.1 355.2 337.6 355.3 340.7 C355.5 343.9 355.9 346.7 356.1 348.4 C356.3 350.1 356.6 354.0 356.8 354.1 C357.0 354.3 357.3 348.4 357.6 349.4 C357.8 350.3 358.5 360.5 358.8 361.8 C359.1 363.1 359.8 358.3 360.1 359.9 C360.4 361.4 361.0 371.2 361.3 374.2 C361.6 377.2 362.1 380.8 362.5 383.8 C362.9 386.8 364.1 395.2 364.5 398.2 C365.0 401.2 365.8 405.7 366.3 407.7 C366.7 409.8 367.5 413.2 368.0 414.4 C368.5 415.6 366.3 416.9 370.0 417.3 C373.7 417.3 393.9 417.3 397.3 417.3" fill="none" stroke="#0a0a0a" stroke-width="1.3" stroke-linejoin="round"/>
<rect x="297.5" y="317.1" width="99.8" height="99.9" stroke="#111" stroke-width="1.4" fill="none"/>
<text x="293.9" y="323.3" font-size="4.6" text-anchor="end" font-weight="normal" fill="#333" stroke="#333" stroke-width="0.1">100</text>
<text x="293.9" y="342.4" font-size="4.6" text-anchor="end" font-weight="normal" fill="#333" stroke="#333" stroke-width="0.1">80</text>
<text x="293.9" y="361.6" font-size="4.6" text-anchor="end" font-weight="normal" fill="#333" stroke="#333" stroke-width="0.1">60</text>
<text x="293.9" y="380.7" font-size="4.6" text-anchor="end" font-weight="normal" fill="#333" stroke="#333" stroke-width="0.1">40</text>
<text x="293.9" y="399.9" font-size="4.6" text-anchor="end" font-weight="normal" fill="#333" stroke="#333" stroke-width="0.1">20</text>
<text x="293.9" y="419.0" font-size="4.6" text-anchor="end" font-weight="normal" fill="#333" stroke="#333" stroke-width="0.1">0</text>
<text x="320.5" y="426.2" font-size="4.6" text-anchor="middle" font-weight="normal" fill="#222" stroke="#222" stroke-width="0.1">0</text>
<text x="327.4" y="426.2" font-size="4.6" text-anchor="middle" font-weight="normal" fill="#222" stroke="#222" stroke-width="0.1">10<tspan dy="-1.8" font-size="3.2">3</tspan></text>
<text x="352.2" y="426.2" font-size="4.6" text-anchor="middle" font-weight="normal" fill="#222" stroke="#222" stroke-width="0.1">10<tspan dy="-1.8" font-size="3.2">4</tspan></text>
<text x="375.3" y="426.2" font-size="4.6" text-anchor="middle" font-weight="normal" fill="#222" stroke="#222" stroke-width="0.1">10<tspan dy="-1.8" font-size="3.2">5</tspan></text>
<text x="396.3" y="426.2" font-size="4.6" text-anchor="middle" font-weight="normal" fill="#222" stroke="#222" stroke-width="0.1">10<tspan dy="-1.8" font-size="3.2">6</tspan></text>
<path d="M294.9 321.6L297.5 321.6M294.9 340.7L297.5 340.7M294.9 359.9L297.5 359.9M294.9 379.0L297.5 379.0M294.9 398.2L297.5 398.2M294.9 417.3L297.5 417.3M320.5 417.0L320.5 419.6M327.4 417.0L327.4 419.6M352.2 417.0L352.2 419.6M375.3 417.0L375.3 419.6M396.3 417.0L396.3 419.6" stroke="#111" stroke-width="0.9" fill="none"/>
<path d="M296.0 321.6L297.5 321.6M296.0 326.4L297.5 326.4M296.0 331.2L297.5 331.2M296.0 336.0L297.5 336.0M296.0 340.7L297.5 340.7M296.0 345.5L297.5 345.5M296.0 350.3L297.5 350.3M296.0 355.1L297.5 355.1M296.0 359.9L297.5 359.9M296.0 364.7L297.5 364.7M296.0 369.5L297.5 369.5M296.0 374.2L297.5 374.2M296.0 379.0L297.5 379.0M296.0 383.8L297.5 383.8M296.0 388.6L297.5 388.6M296.0 393.4L297.5 393.4M296.0 398.2L297.5 398.2M296.0 402.9L297.5 402.9M296.0 407.7L297.5 407.7M296.0 412.5L297.5 412.5M296.0 417.3L297.5 417.3M322.5 417.0L322.5 418.5M323.9 417.0L323.9 418.5M325.0 417.0L325.0 418.5M325.9 417.0L325.9 418.5M326.6 417.0L326.6 418.5M327.1 417.0L327.1 418.5M334.9 417.0L334.9 418.5M339.8 417.0L339.8 418.5M343.5 417.0L343.5 418.5M346.7 417.0L346.7 418.5M349.2 417.0L349.2 418.5M351.0 417.0L351.0 418.5M359.1 417.0L359.1 418.5M363.8 417.0L363.8 418.5M367.2 417.0L367.2 418.5M370.3 417.0L370.3 418.5M372.6 417.0L372.6 418.5M374.2 417.0L374.2 418.5M381.6 417.0L381.6 418.5M385.8 417.0L385.8 418.5M389.0 417.0L389.0 418.5M391.7 417.0L391.7 418.5M393.8 417.0L393.8 418.5M395.3 417.0L395.3 418.5M307.8 417.0L307.8 418.5M312.4 417.0L312.4 418.5M315.9 417.0L315.9 418.5M318.2 417.0L318.2 418.5" stroke="#222" stroke-width="0.5" fill="none"/>
<line x1="345.6" y1="380.8" x2="390.4" y2="380.8" stroke="#1a1a1a" stroke-width="1.1"/>
<line x1="345.6" y1="378.6" x2="345.6" y2="383.0" stroke="#1a1a1a" stroke-width="1.1"/>
<line x1="390.4" y1="378.6" x2="390.4" y2="383.0" stroke="#1a1a1a" stroke-width="1.1"/>
<text x="374.8" y="377.7" font-size="10.4" text-anchor="middle" font-weight="normal" fill="#000" stroke="#000" stroke-width="0.16640000000000002">64.4</text>
<path d="M429.5 417.3 C429.7 416.1 430.3 411.3 430.8 407.7 C431.2 404.1 432.3 394.6 432.8 388.6 C433.3 382.6 434.3 367.7 434.8 359.9 C435.3 352.1 436.4 328.8 436.8 326.4 C437.2 324.0 437.9 338.0 438.3 340.7 C438.7 343.5 439.4 350.5 439.8 348.4 C440.2 346.2 441.2 325.4 441.6 323.5 C442.0 321.6 442.5 331.4 442.8 333.1 C443.2 334.8 444.0 333.6 444.4 336.9 C444.7 340.3 445.4 354.0 445.9 359.9 C446.3 365.7 447.4 383.2 447.9 383.8 C448.4 384.4 449.2 369.7 449.6 364.7 C450.1 359.6 451.0 344.8 451.4 343.6 C451.8 342.4 452.5 351.1 452.9 355.1 C453.3 359.0 454.3 374.0 454.7 375.2 C455.1 376.4 455.6 365.4 455.9 364.7 C456.3 363.9 457.0 370.6 457.4 369.5 C457.9 368.3 458.8 357.5 459.2 355.1 C459.6 352.7 460.1 350.0 460.5 350.3 C460.8 350.7 461.6 354.1 462.0 358.0 C462.4 361.8 463.1 379.5 463.5 380.9 C463.9 382.4 464.6 372.3 465.0 369.5 C465.4 366.6 466.1 358.0 466.5 358.0 C466.9 358.0 467.7 366.2 468.0 369.5 C468.4 372.7 468.8 380.8 469.3 383.8 C469.8 386.8 471.2 390.6 471.8 393.4 C472.4 396.1 473.7 403.2 474.3 405.8 C474.9 408.4 475.9 413.0 476.3 414.4 C476.8 415.9 477.9 416.9 478.1 417.3 L478.1 417.3 L429.5 417.3 Z" fill="#dcdcdc" stroke="none"/>
<path d="M429.5 417.3 C429.7 416.1 430.3 411.3 430.8 407.7 C431.2 404.1 432.3 394.6 432.8 388.6 C433.3 382.6 434.3 367.7 434.8 359.9 C435.3 352.1 436.4 328.8 436.8 326.4 C437.2 324.0 437.9 338.0 438.3 340.7 C438.7 343.5 439.4 350.5 439.8 348.4 C440.2 346.2 441.2 325.4 441.6 323.5 C442.0 321.6 442.5 331.4 442.8 333.1 C443.2 334.8 444.0 333.6 444.4 336.9 C444.7 340.3 445.4 354.0 445.9 359.9 C446.3 365.7 447.4 383.2 447.9 383.8 C448.4 384.4 449.2 369.7 449.6 364.7 C450.1 359.6 451.0 344.8 451.4 343.6 C451.8 342.4 452.5 351.1 452.9 355.1 C453.3 359.0 454.3 374.0 454.7 375.2 C455.1 376.4 455.6 365.4 455.9 364.7 C456.3 363.9 457.0 370.6 457.4 369.5 C457.9 368.3 458.8 357.5 459.2 355.1 C459.6 352.7 460.1 350.0 460.5 350.3 C460.8 350.7 461.6 354.1 462.0 358.0 C462.4 361.8 463.1 379.5 463.5 380.9 C463.9 382.4 464.6 372.3 465.0 369.5 C465.4 366.6 466.1 358.0 466.5 358.0 C466.9 358.0 467.7 366.2 468.0 369.5 C468.4 372.7 468.8 380.8 469.3 383.8 C469.8 386.8 471.2 390.6 471.8 393.4 C472.4 396.1 473.7 403.2 474.3 405.8 C474.9 408.4 475.9 413.0 476.3 414.4 C476.8 415.9 477.9 416.9 478.1 417.3" fill="none" stroke="#7a7a7a" stroke-width="1.0" stroke-linejoin="round"/>
<path d="M500.2 417.3 C500.4 416.8 501.2 414.4 501.5 413.5 C501.8 412.5 502.5 409.6 502.8 409.6 C503.0 409.6 503.5 412.5 503.8 413.5 C504.1 414.4 505.1 416.8 505.3 417.3 L505.3 417.3 L500.2 417.3 Z" fill="#dcdcdc" stroke="none"/>
<path d="M500.2 417.3 C500.4 416.8 501.2 414.4 501.5 413.5 C501.8 412.5 502.5 409.6 502.8 409.6 C503.0 409.6 503.5 412.5 503.8 413.5 C504.1 414.4 505.1 416.8 505.3 417.3" fill="none" stroke="#7a7a7a" stroke-width="1.0" stroke-linejoin="round"/>
<path d="M429.5 417.3 C429.9 417.2 432.0 416.8 432.8 416.3 C433.5 415.9 434.7 414.0 435.3 413.5 C435.9 413.0 437.2 412.4 437.8 412.5 C438.4 412.6 439.7 414.3 440.3 414.4 C441.0 414.5 442.2 414.2 442.8 413.5 C443.5 412.8 445.2 408.8 445.9 408.7 C446.6 408.6 447.7 411.8 448.4 412.5 C449.1 413.2 450.8 414.5 451.7 414.4 C452.5 414.3 454.1 412.8 454.9 411.6 C455.7 410.4 457.3 404.9 457.9 404.9 C458.6 404.9 459.7 410.5 460.5 411.6 C461.3 412.6 463.4 413.5 464.2 413.5 C465.1 413.5 466.7 411.7 467.5 411.6 C468.3 411.4 469.8 412.3 470.5 412.5 C471.3 412.8 472.9 413.1 473.6 413.5 C474.2 413.8 475.0 415.0 475.6 415.4 C476.1 415.7 477.4 416.7 478.1 416.3 C478.8 416.0 480.4 412.6 481.1 412.5 C481.8 412.4 483.1 415.5 483.6 415.4 C484.2 415.3 485.1 412.8 485.6 411.6 C486.2 410.4 487.6 406.4 488.2 405.8 C488.7 405.2 489.7 407.4 490.2 406.8 C490.6 406.2 491.5 401.7 491.9 401.0 C492.4 400.3 493.2 401.6 493.7 401.0 C494.2 400.4 495.2 397.2 495.7 396.2 C496.2 395.3 497.3 394.1 497.7 393.4 C498.1 392.7 498.7 392.3 499.0 390.5 C499.3 388.7 499.9 382.6 500.2 379.0 C500.6 375.4 501.1 365.4 501.5 361.8 C501.9 358.2 502.9 353.5 503.3 350.3 C503.7 347.1 504.4 339.3 504.8 336.0 C505.2 332.6 505.9 323.9 506.3 323.5 C506.6 323.2 507.2 329.7 507.5 333.1 C507.9 336.4 508.5 346.0 508.8 350.3 C509.2 354.6 509.9 363.3 510.3 367.5 C510.7 371.7 511.6 380.0 512.1 383.8 C512.5 387.6 513.4 395.2 513.8 398.2 C514.3 401.2 514.9 405.8 515.4 407.7 C515.8 409.6 516.6 412.4 517.1 413.5 C517.7 414.5 518.8 415.9 519.6 416.3 C520.4 416.8 522.6 417.3 523.4 417.3 C524.2 417.3 525.2 416.3 525.9 416.3 C526.7 416.3 528.8 417.2 529.2 417.3" fill="none" stroke="#0a0a0a" stroke-width="1.3" stroke-linejoin="round"/>
<rect x="429.5" y="317.1" width="99.7" height="99.9" stroke="#111" stroke-width="1.4" fill="none"/>
<text x="425.9" y="323.3" font-size="4.6" text-anchor="end" font-weight="normal" fill="#333" stroke="#333" stroke-width="0.1">100</text>
<text x="425.9" y="342.4" font-size="4.6" text-anchor="end" font-weight="normal" fill="#333" stroke="#333" stroke-width="0.1">80</text>
<text x="425.9" y="361.6" font-size="4.6" text-anchor="end" font-weight="normal" fill="#333" stroke="#333" stroke-width="0.1">60</text>
<text x="425.9" y="380.7" font-size="4.6" text-anchor="end" font-weight="normal" fill="#333" stroke="#333" stroke-width="0.1">40</text>
<text x="425.9" y="399.9" font-size="4.6" text-anchor="end" font-weight="normal" fill="#333" stroke="#333" stroke-width="0.1">20</text>
<text x="425.9" y="419.0" font-size="4.6" text-anchor="end" font-weight="normal" fill="#333" stroke="#333" stroke-width="0.1">0</text>
<text x="452.4" y="426.2" font-size="4.6" text-anchor="middle" font-weight="normal" fill="#222" stroke="#222" stroke-width="0.1">0</text>
<text x="459.4" y="426.2" font-size="4.6" text-anchor="middle" font-weight="normal" fill="#222" stroke="#222" stroke-width="0.1">10<tspan dy="-1.8" font-size="3.2">3</tspan></text>
<text x="484.1" y="426.2" font-size="4.6" text-anchor="middle" font-weight="normal" fill="#222" stroke="#222" stroke-width="0.1">10<tspan dy="-1.8" font-size="3.2">4</tspan></text>
<text x="507.3" y="426.2" font-size="4.6" text-anchor="middle" font-weight="normal" fill="#222" stroke="#222" stroke-width="0.1">10<tspan dy="-1.8" font-size="3.2">5</tspan></text>
<text x="528.2" y="426.2" font-size="4.6" text-anchor="middle" font-weight="normal" fill="#222" stroke="#222" stroke-width="0.1">10<tspan dy="-1.8" font-size="3.2">6</tspan></text>
<path d="M426.9 321.6L429.5 321.6M426.9 340.7L429.5 340.7M426.9 359.9L429.5 359.9M426.9 379.0L429.5 379.0M426.9 398.2L429.5 398.2M426.9 417.3L429.5 417.3M452.4 417.0L452.4 419.6M459.4 417.0L459.4 419.6M484.1 417.0L484.1 419.6M507.3 417.0L507.3 419.6M528.2 417.0L528.2 419.6" stroke="#111" stroke-width="0.9" fill="none"/>
<path d="M428.0 321.6L429.5 321.6M428.0 326.4L429.5 326.4M428.0 331.2L429.5 331.2M428.0 336.0L429.5 336.0M428.0 340.7L429.5 340.7M428.0 345.5L429.5 345.5M428.0 350.3L429.5 350.3M428.0 355.1L429.5 355.1M428.0 359.9L429.5 359.9M428.0 364.7L429.5 364.7M428.0 369.5L429.5 369.5M428.0 374.2L429.5 374.2M428.0 379.0L429.5 379.0M428.0 383.8L429.5 383.8M428.0 388.6L429.5 388.6M428.0 393.4L429.5 393.4M428.0 398.2L429.5 398.2M428.0 402.9L429.5 402.9M428.0 407.7L429.5 407.7M428.0 412.5L429.5 412.5M428.0 417.3L429.5 417.3M454.5 417.0L454.5 418.5M455.9 417.0L455.9 418.5M457.0 417.0L457.0 418.5M457.9 417.0L457.9 418.5M458.6 417.0L458.6 418.5M459.1 417.0L459.1 418.5M466.8 417.0L466.8 418.5M471.8 417.0L471.8 418.5M475.5 417.0L475.5 418.5M478.7 417.0L478.7 418.5M481.2 417.0L481.2 418.5M482.9 417.0L482.9 418.5M491.1 417.0L491.1 418.5M495.7 417.0L495.7 418.5M499.2 417.0L499.2 418.5M502.2 417.0L502.2 418.5M504.5 417.0L504.5 418.5M506.1 417.0L506.1 418.5M513.5 417.0L513.5 418.5M517.7 417.0L517.7 418.5M520.9 417.0L520.9 418.5M523.6 417.0L523.6 418.5M525.7 417.0L525.7 418.5M527.2 417.0L527.2 418.5M439.8 417.0L439.8 418.5M444.4 417.0L444.4 418.5M447.8 417.0L447.8 418.5M450.1 417.0L450.1 418.5" stroke="#222" stroke-width="0.5" fill="none"/>
<line x1="477.4" y1="361.4" x2="521.7" y2="361.4" stroke="#1a1a1a" stroke-width="1.1"/>
<line x1="477.4" y1="359.2" x2="477.4" y2="363.6" stroke="#1a1a1a" stroke-width="1.1"/>
<line x1="521.7" y1="359.2" x2="521.7" y2="363.6" stroke="#1a1a1a" stroke-width="1.1"/>
<text x="487.9" y="358.6" font-size="10.4" text-anchor="middle" font-weight="normal" fill="#000" stroke="#000" stroke-width="0.16640000000000002">83.9</text>
<path d="M303.0 534.6 C303.6 534.0 307.1 533.4 308.0 529.8 C308.9 526.3 309.9 513.8 310.5 506.0 C311.1 498.3 312.4 475.7 313.0 468.0 C313.6 460.2 314.6 447.5 315.0 444.2 C315.4 440.8 315.8 440.7 316.0 441.3 C316.3 441.9 316.7 446.8 317.0 448.9 C317.3 451.1 318.1 455.5 318.5 458.4 C318.9 461.4 320.0 470.3 320.5 472.7 C321.0 475.1 322.0 475.1 322.5 477.5 C323.0 479.9 323.7 488.8 324.3 491.8 C324.8 494.7 326.1 497.7 326.8 501.3 C327.4 504.8 328.6 516.8 329.3 520.3 C329.9 523.9 331.0 528.1 331.8 529.8 C332.5 531.6 334.6 534.0 335.0 534.6 L335.0 534.6 L303.0 534.6 Z" fill="#dcdcdc" stroke="none"/>
<path d="M303.0 534.6 C303.6 534.0 307.1 533.4 308.0 529.8 C308.9 526.3 309.9 513.8 310.5 506.0 C311.1 498.3 312.4 475.7 313.0 468.0 C313.6 460.2 314.6 447.5 315.0 444.2 C315.4 440.8 315.8 440.7 316.0 441.3 C316.3 441.9 316.7 446.8 317.0 448.9 C317.3 451.1 318.1 455.5 318.5 458.4 C318.9 461.4 320.0 470.3 320.5 472.7 C321.0 475.1 322.0 475.1 322.5 477.5 C323.0 479.9 323.7 488.8 324.3 491.8 C324.8 494.7 326.1 497.7 326.8 501.3 C327.4 504.8 328.6 516.8 329.3 520.3 C329.9 523.9 331.0 528.1 331.8 529.8 C332.5 531.6 334.6 534.0 335.0 534.6" fill="none" stroke="#7a7a7a" stroke-width="1.0" stroke-linejoin="round"/>
<path d="M297.5 534.6 C298.3 534.5 303.1 534.2 304.3 533.6 C305.4 533.1 306.1 531.5 306.8 529.8 C307.4 528.2 308.6 523.9 309.3 520.3 C309.9 516.8 311.1 506.6 311.8 501.3 C312.4 495.9 313.6 482.2 314.3 477.5 C314.9 472.7 316.2 467.0 316.8 463.2 C317.3 459.4 318.1 448.8 318.5 447.0 C318.9 445.2 319.4 449.6 319.8 448.9 C320.1 448.2 320.9 440.1 321.3 441.3 C321.6 442.5 322.0 454.9 322.3 458.4 C322.5 462.0 323.1 469.6 323.5 469.9 C323.9 470.1 325.0 463.0 325.5 460.3 C326.0 457.7 327.1 450.6 327.5 448.9 C328.0 447.3 328.6 444.6 329.0 447.0 C329.4 449.4 330.2 465.1 330.5 468.0 C330.9 470.8 331.4 470.3 331.8 469.9 C332.1 469.4 333.1 462.6 333.5 464.2 C333.9 465.7 334.7 478.8 335.0 482.2 C335.3 485.7 335.7 492.4 336.0 491.8 C336.3 491.2 337.2 478.1 337.5 477.5 C337.9 476.9 338.4 484.9 338.8 487.0 C339.1 489.1 340.1 492.8 340.5 494.6 C341.0 496.4 342.1 501.0 342.5 501.3 C343.0 501.5 343.9 496.5 344.3 496.5 C344.6 496.5 345.1 500.1 345.5 501.3 C345.9 502.5 347.1 505.0 347.5 506.0 C347.9 507.1 348.4 510.0 348.8 509.8 C349.2 509.7 350.1 504.7 350.5 505.1 C351.0 505.4 352.1 512.2 352.5 512.7 C353.0 513.2 353.8 509.1 354.3 508.9 C354.7 508.7 355.6 509.7 356.0 510.8 C356.4 511.9 357.2 517.0 357.5 517.5 C357.9 517.9 358.4 515.0 358.8 514.6 C359.2 514.3 360.1 513.5 360.5 514.6 C361.0 515.7 362.1 521.3 362.5 523.2 C363.0 525.1 363.8 528.7 364.3 529.8 C364.7 531.0 365.5 532.2 366.0 532.7 C366.6 533.2 368.0 533.6 368.5 533.6 C369.1 533.6 370.0 532.7 370.5 532.7 C371.1 532.7 372.4 533.4 373.0 533.6 C373.7 533.9 372.5 534.5 375.5 534.6 C378.6 534.6 394.6 534.6 397.3 534.6" fill="none" stroke="#0a0a0a" stroke-width="1.3" stroke-linejoin="round"/>
<rect x="297.5" y="434.8" width="99.8" height="99.8" stroke="#111" stroke-width="1.4" fill="none"/>
<text x="293.9" y="441.1" font-size="4.6" text-anchor="end" font-weight="normal" fill="#333" stroke="#333" stroke-width="0.1">100</text>
<text x="293.9" y="460.1" font-size="4.6" text-anchor="end" font-weight="normal" fill="#333" stroke="#333" stroke-width="0.1">80</text>
<text x="293.9" y="479.2" font-size="4.6" text-anchor="end" font-weight="normal" fill="#333" stroke="#333" stroke-width="0.1">60</text>
<text x="293.9" y="498.2" font-size="4.6" text-anchor="end" font-weight="normal" fill="#333" stroke="#333" stroke-width="0.1">40</text>
<text x="293.9" y="517.3" font-size="4.6" text-anchor="end" font-weight="normal" fill="#333" stroke="#333" stroke-width="0.1">20</text>
<text x="293.9" y="536.3" font-size="4.6" text-anchor="end" font-weight="normal" fill="#333" stroke="#333" stroke-width="0.1">0</text>
<text x="320.5" y="543.8" font-size="4.6" text-anchor="middle" font-weight="normal" fill="#222" stroke="#222" stroke-width="0.1">0</text>
<text x="327.4" y="543.8" font-size="4.6" text-anchor="middle" font-weight="normal" fill="#222" stroke="#222" stroke-width="0.1">10<tspan dy="-1.8" font-size="3.2">3</tspan></text>
<text x="352.2" y="543.8" font-size="4.6" text-anchor="middle" font-weight="normal" fill="#222" stroke="#222" stroke-width="0.1">10<tspan dy="-1.8" font-size="3.2">4</tspan></text>
<text x="375.3" y="543.8" font-size="4.6" text-anchor="middle" font-weight="normal" fill="#222" stroke="#222" stroke-width="0.1">10<tspan dy="-1.8" font-size="3.2">5</tspan></text>
<text x="396.3" y="543.8" font-size="4.6" text-anchor="middle" font-weight="normal" fill="#222" stroke="#222" stroke-width="0.1">10<tspan dy="-1.8" font-size="3.2">6</tspan></text>
<path d="M294.9 439.4L297.5 439.4M294.9 458.4L297.5 458.4M294.9 477.5L297.5 477.5M294.9 496.5L297.5 496.5M294.9 515.6L297.5 515.6M294.9 534.6L297.5 534.6M320.5 534.6L320.5 537.2M327.4 534.6L327.4 537.2M352.2 534.6L352.2 537.2M375.3 534.6L375.3 537.2M396.3 534.6L396.3 537.2" stroke="#111" stroke-width="0.9" fill="none"/>
<path d="M296.0 439.4L297.5 439.4M296.0 444.2L297.5 444.2M296.0 448.9L297.5 448.9M296.0 453.7L297.5 453.7M296.0 458.4L297.5 458.4M296.0 463.2L297.5 463.2M296.0 468.0L297.5 468.0M296.0 472.7L297.5 472.7M296.0 477.5L297.5 477.5M296.0 482.2L297.5 482.2M296.0 487.0L297.5 487.0M296.0 491.8L297.5 491.8M296.0 496.5L297.5 496.5M296.0 501.3L297.5 501.3M296.0 506.0L297.5 506.0M296.0 510.8L297.5 510.8M296.0 515.6L297.5 515.6M296.0 520.3L297.5 520.3M296.0 525.1L297.5 525.1M296.0 529.8L297.5 529.8M296.0 534.6L297.5 534.6M322.5 534.6L322.5 536.1M323.9 534.6L323.9 536.1M325.0 534.6L325.0 536.1M325.9 534.6L325.9 536.1M326.6 534.6L326.6 536.1M327.1 534.6L327.1 536.1M334.9 534.6L334.9 536.1M339.8 534.6L339.8 536.1M343.5 534.6L343.5 536.1M346.7 534.6L346.7 536.1M349.2 534.6L349.2 536.1M351.0 534.6L351.0 536.1M359.1 534.6L359.1 536.1M363.8 534.6L363.8 536.1M367.2 534.6L367.2 536.1M370.3 534.6L370.3 536.1M372.6 534.6L372.6 536.1M374.2 534.6L374.2 536.1M381.6 534.6L381.6 536.1M385.8 534.6L385.8 536.1M389.0 534.6L389.0 536.1M391.7 534.6L391.7 536.1M393.8 534.6L393.8 536.1M395.3 534.6L395.3 536.1M307.8 534.6L307.8 536.1M312.4 534.6L312.4 536.1M315.9 534.6L315.9 536.1M318.2 534.6L318.2 536.1" stroke="#222" stroke-width="0.5" fill="none"/>
<line x1="345.6" y1="498.1" x2="390.4" y2="498.1" stroke="#1a1a1a" stroke-width="1.1"/>
<line x1="345.6" y1="495.9" x2="345.6" y2="500.3" stroke="#1a1a1a" stroke-width="1.1"/>
<line x1="390.4" y1="495.9" x2="390.4" y2="500.3" stroke="#1a1a1a" stroke-width="1.1"/>
<text x="375.3" y="495.0" font-size="10.4" text-anchor="middle" font-weight="normal" fill="#000" stroke="#000" stroke-width="0.16640000000000002">17.4</text>
<path d="M430.8 534.6 C431.0 533.4 432.3 528.4 432.8 525.1 C433.3 521.7 434.3 510.3 434.8 507.9 C435.3 505.6 436.2 508.1 436.5 506.0 C436.9 504.0 437.4 497.1 437.8 491.8 C438.2 486.4 439.4 469.5 439.8 463.2 C440.3 456.9 441.1 441.9 441.6 441.3 C442.0 440.7 442.9 453.3 443.3 458.4 C443.8 463.6 444.9 479.9 445.4 482.2 C445.9 484.6 446.9 478.9 447.4 477.5 C447.8 476.1 448.7 471.1 449.1 470.8 C449.6 470.6 450.5 475.9 450.9 475.6 C451.3 475.2 452.0 470.0 452.4 468.0 C452.8 465.9 453.7 458.2 454.2 459.4 C454.6 460.6 455.5 472.8 455.9 477.5 C456.3 482.1 457.0 492.9 457.4 496.5 C457.9 500.1 458.8 504.3 459.2 506.0 C459.6 507.8 460.5 509.8 461.0 510.8 C461.4 511.8 462.5 512.8 463.0 513.7 C463.5 514.5 464.5 517.8 465.0 517.5 C465.5 517.1 466.4 511.9 466.8 510.8 C467.1 509.7 467.6 508.1 468.0 508.9 C468.4 509.7 469.6 515.2 470.0 517.5 C470.4 519.7 471.0 524.8 471.3 527.0 C471.6 529.1 472.4 533.6 472.6 534.6 L472.6 534.6 L430.8 534.6 Z" fill="#dcdcdc" stroke="none"/>
<path d="M430.8 534.6 C431.0 533.4 432.3 528.4 432.8 525.1 C433.3 521.7 434.3 510.3 434.8 507.9 C435.3 505.6 436.2 508.1 436.5 506.0 C436.9 504.0 437.4 497.1 437.8 491.8 C438.2 486.4 439.4 469.5 439.8 463.2 C440.3 456.9 441.1 441.9 441.6 441.3 C442.0 440.7 442.9 453.3 443.3 458.4 C443.8 463.6 444.9 479.9 445.4 482.2 C445.9 484.6 446.9 478.9 447.4 477.5 C447.8 476.1 448.7 471.1 449.1 470.8 C449.6 470.6 450.5 475.9 450.9 475.6 C451.3 475.2 452.0 470.0 452.4 468.0 C452.8 465.9 453.7 458.2 454.2 459.4 C454.6 460.6 455.5 472.8 455.9 477.5 C456.3 482.1 457.0 492.9 457.4 496.5 C457.9 500.1 458.8 504.3 459.2 506.0 C459.6 507.8 460.5 509.8 461.0 510.8 C461.4 511.8 462.5 512.8 463.0 513.7 C463.5 514.5 464.5 517.8 465.0 517.5 C465.5 517.1 466.4 511.9 466.8 510.8 C467.1 509.7 467.6 508.1 468.0 508.9 C468.4 509.7 469.6 515.2 470.0 517.5 C470.4 519.7 471.0 524.8 471.3 527.0 C471.6 529.1 472.4 533.6 472.6 534.6" fill="none" stroke="#7a7a7a" stroke-width="1.0" stroke-linejoin="round"/>
<path d="M429.5 534.6 C430.1 534.5 433.2 534.2 434.0 533.6 C434.8 533.1 435.4 533.3 435.8 529.8 C436.2 526.4 436.7 512.1 437.1 506.0 C437.4 500.0 438.0 483.1 438.3 481.3 C438.7 479.5 439.5 488.7 439.8 491.8 C440.2 494.9 440.7 505.4 441.1 506.0 C441.5 506.6 442.4 499.5 442.8 496.5 C443.3 493.5 444.2 482.8 444.6 482.2 C445.0 481.6 445.8 489.7 446.1 491.8 C446.5 493.8 447.0 498.1 447.4 498.4 C447.8 498.8 448.8 495.3 449.1 494.6 C449.5 493.9 450.0 491.3 450.4 492.7 C450.8 494.1 451.7 503.4 452.2 506.0 C452.6 508.7 453.8 513.4 454.2 513.7 C454.6 513.9 455.1 511.9 455.4 507.9 C455.8 504.0 456.6 487.8 456.9 482.2 C457.3 476.6 458.1 463.8 458.5 463.2 C458.8 462.6 459.6 473.9 460.0 477.5 C460.3 481.1 461.1 490.8 461.5 491.8 C461.9 492.7 462.6 486.9 463.0 485.1 C463.4 483.3 464.1 477.2 464.5 477.5 C464.9 477.7 465.6 485.1 466.0 487.0 C466.4 488.9 467.1 492.1 467.5 492.7 C467.9 493.3 468.7 489.5 469.0 491.8 C469.3 494.0 469.7 507.1 470.0 510.8 C470.4 514.5 471.4 520.7 471.8 521.3 C472.2 521.9 473.2 518.4 473.6 515.6 C474.0 512.7 474.7 500.8 475.1 498.4 C475.5 496.0 476.4 496.4 476.8 496.5 C477.3 496.6 478.2 501.8 478.6 499.4 C479.0 497.0 479.7 483.0 480.1 477.5 C480.5 472.0 481.2 456.2 481.6 455.6 C482.0 455.0 482.8 468.2 483.1 472.7 C483.5 477.2 484.1 488.2 484.4 491.8 C484.7 495.3 485.3 501.9 485.6 501.3 C486.0 500.7 486.8 490.5 487.2 487.0 C487.5 483.5 488.4 474.3 488.7 473.7 C489.0 473.1 489.4 483.5 489.7 482.2 C489.9 480.9 490.4 468.3 490.7 463.2 C491.0 458.1 491.6 440.7 491.9 441.3 C492.3 441.9 492.9 461.1 493.2 468.0 C493.5 474.9 494.1 491.8 494.5 496.5 C494.8 501.3 495.4 506.6 495.7 506.0 C496.0 505.4 496.7 494.4 497.0 491.8 C497.3 489.1 497.9 484.7 498.2 485.1 C498.6 485.5 499.4 491.4 499.7 494.6 C500.1 497.8 500.9 507.6 501.3 510.8 C501.6 514.0 502.4 518.5 502.8 520.3 C503.1 522.1 503.9 524.6 504.3 525.1 C504.7 525.6 505.4 523.7 505.8 524.1 C506.2 524.6 506.9 528.2 507.3 528.9 C507.7 529.6 508.4 529.4 508.8 529.8 C509.2 530.3 509.8 532.2 510.3 532.7 C510.8 533.2 512.1 533.4 512.8 533.6 C513.5 533.9 513.8 534.5 515.9 534.6 C517.9 534.6 527.5 534.6 529.2 534.6" fill="none" stroke="#0a0a0a" stroke-width="1.3" stroke-linejoin="round"/>
<rect x="429.5" y="434.8" width="99.7" height="99.8" stroke="#111" stroke-width="1.4" fill="none"/>
<text x="425.9" y="441.1" font-size="4.6" text-anchor="end" font-weight="normal" fill="#333" stroke="#333" stroke-width="0.1">100</text>
<text x="425.9" y="460.1" font-size="4.6" text-anchor="end" font-weight="normal" fill="#333" stroke="#333" stroke-width="0.1">80</text>
<text x="425.9" y="479.2" font-size="4.6" text-anchor="end" font-weight="normal" fill="#333" stroke="#333" stroke-width="0.1">60</text>
<text x="425.9" y="498.2" font-size="4.6" text-anchor="end" font-weight="normal" fill="#333" stroke="#333" stroke-width="0.1">40</text>
<text x="425.9" y="517.3" font-size="4.6" text-anchor="end" font-weight="normal" fill="#333" stroke="#333" stroke-width="0.1">20</text>
<text x="425.9" y="536.3" font-size="4.6" text-anchor="end" font-weight="normal" fill="#333" stroke="#333" stroke-width="0.1">0</text>
<text x="452.4" y="543.8" font-size="4.6" text-anchor="middle" font-weight="normal" fill="#222" stroke="#222" stroke-width="0.1">0</text>
<text x="459.4" y="543.8" font-size="4.6" text-anchor="middle" font-weight="normal" fill="#222" stroke="#222" stroke-width="0.1">10<tspan dy="-1.8" font-size="3.2">3</tspan></text>
<text x="484.1" y="543.8" font-size="4.6" text-anchor="middle" font-weight="normal" fill="#222" stroke="#222" stroke-width="0.1">10<tspan dy="-1.8" font-size="3.2">4</tspan></text>
<text x="507.3" y="543.8" font-size="4.6" text-anchor="middle" font-weight="normal" fill="#222" stroke="#222" stroke-width="0.1">10<tspan dy="-1.8" font-size="3.2">5</tspan></text>
<text x="528.2" y="543.8" font-size="4.6" text-anchor="middle" font-weight="normal" fill="#222" stroke="#222" stroke-width="0.1">10<tspan dy="-1.8" font-size="3.2">6</tspan></text>
<path d="M426.9 439.4L429.5 439.4M426.9 458.4L429.5 458.4M426.9 477.5L429.5 477.5M426.9 496.5L429.5 496.5M426.9 515.6L429.5 515.6M426.9 534.6L429.5 534.6M452.4 534.6L452.4 537.2M459.4 534.6L459.4 537.2M484.1 534.6L484.1 537.2M507.3 534.6L507.3 537.2M528.2 534.6L528.2 537.2" stroke="#111" stroke-width="0.9" fill="none"/>
<path d="M428.0 439.4L429.5 439.4M428.0 444.2L429.5 444.2M428.0 448.9L429.5 448.9M428.0 453.7L429.5 453.7M428.0 458.4L429.5 458.4M428.0 463.2L429.5 463.2M428.0 468.0L429.5 468.0M428.0 472.7L429.5 472.7M428.0 477.5L429.5 477.5M428.0 482.2L429.5 482.2M428.0 487.0L429.5 487.0M428.0 491.8L429.5 491.8M428.0 496.5L429.5 496.5M428.0 501.3L429.5 501.3M428.0 506.0L429.5 506.0M428.0 510.8L429.5 510.8M428.0 515.6L429.5 515.6M428.0 520.3L429.5 520.3M428.0 525.1L429.5 525.1M428.0 529.8L429.5 529.8M428.0 534.6L429.5 534.6M454.5 534.6L454.5 536.1M455.9 534.6L455.9 536.1M457.0 534.6L457.0 536.1M457.9 534.6L457.9 536.1M458.6 534.6L458.6 536.1M459.1 534.6L459.1 536.1M466.8 534.6L466.8 536.1M471.8 534.6L471.8 536.1M475.5 534.6L475.5 536.1M478.7 534.6L478.7 536.1M481.2 534.6L481.2 536.1M482.9 534.6L482.9 536.1M491.1 534.6L491.1 536.1M495.7 534.6L495.7 536.1M499.2 534.6L499.2 536.1M502.2 534.6L502.2 536.1M504.5 534.6L504.5 536.1M506.1 534.6L506.1 536.1M513.5 534.6L513.5 536.1M517.7 534.6L517.7 536.1M520.9 534.6L520.9 536.1M523.6 534.6L523.6 536.1M525.7 534.6L525.7 536.1M527.2 534.6L527.2 536.1M439.8 534.6L439.8 536.1M444.4 534.6L444.4 536.1M447.8 534.6L447.8 536.1M450.1 534.6L450.1 536.1" stroke="#222" stroke-width="0.5" fill="none"/>
<line x1="477.4" y1="479.7" x2="522.2" y2="479.7" stroke="#1a1a1a" stroke-width="1.1"/>
<line x1="477.4" y1="477.5" x2="477.4" y2="481.9" stroke="#1a1a1a" stroke-width="1.1"/>
<line x1="522.2" y1="477.5" x2="522.2" y2="481.9" stroke="#1a1a1a" stroke-width="1.1"/>
<text x="507.0" y="476.7" font-size="10.4" text-anchor="middle" font-weight="normal" fill="#000" stroke="#000" stroke-width="0.16640000000000002">43.8</text>
<text x="344.0" y="554.8" font-size="12.1" text-anchor="middle" font-weight="normal" fill="#000" stroke="#000" stroke-width="0.1936">IL-4</text>
<text x="486.0" y="554.8" font-size="12.2" text-anchor="middle" font-weight="normal" fill="#000" stroke="#000" stroke-width="0.19519999999999998">IL-17A</text>
<text x="284.9" y="421.5" font-size="13.4" text-anchor="middle" font-weight="normal" fill="#000" stroke="#000" stroke-width="0.2144" transform="rotate(-90 284.9 421.5)">Percent of Max</text>
<line x1="281.9" y1="317.9" x2="281.9" y2="373.6" stroke="#222" stroke-width="1.1"/>
<line x1="281.9" y1="467.4" x2="281.9" y2="530.8" stroke="#222" stroke-width="1.1"/>
<text x="536.0" y="365.2" font-size="13.6" text-anchor="start" font-weight="normal" fill="#000" stroke="#000" stroke-width="0.2176">WT</text>
<text x="536.4" y="474.9" font-size="14.3" text-anchor="start" font-weight="normal" fill="#000" stroke="#000" stroke-width="0.2288">PLZF-cre</text>
<text x="536.4" y="491.9" font-size="14.3" text-anchor="start" font-weight="normal" fill="#000" stroke="#000" stroke-width="0.2288">Hdac3 cKO</text>
<text x="17.3" y="601.7" font-size="12" text-anchor="start" font-weight="normal" fill="#000" stroke="#000" stroke-width="0.1"><tspan font-weight="bold">d</tspan>)</text>
<rect x="83.8" y="593.7" width="7.6" height="8.1" stroke="#111" stroke-width="0.5" fill="#000"/>
<text x="93.9" y="601.9" font-size="11.6" text-anchor="start" font-weight="normal" fill="#000" stroke="#000" stroke-width="0.1856">WT</text>
<rect x="117.0" y="594.0" width="7.8" height="7.6" stroke="#111" stroke-width="0.9" fill="#fff"/>
<text x="126.8" y="601.9" font-size="12" text-anchor="start" font-weight="normal" fill="#000" stroke="#000" stroke-width="0.192">Hdac3 cKO</text>
<line x1="50.1" y1="622.6" x2="50.1" y2="809.6" stroke="#111" stroke-width="1.0"/>
<line x1="50.1" y1="809.6" x2="208.6" y2="809.6" stroke="#111" stroke-width="1.0"/>
<line x1="46.6" y1="809.6" x2="50.1" y2="809.6" stroke="#111" stroke-width="0.9"/>
<text x="43.0" y="812.6" font-size="8.2" text-anchor="end" font-weight="normal" fill="#000" stroke="#000" stroke-width="0.13119999999999998">0</text>
<line x1="46.6" y1="782.9" x2="50.1" y2="782.9" stroke="#111" stroke-width="0.9"/>
<text x="43.0" y="785.9" font-size="8.2" text-anchor="end" font-weight="normal" fill="#000" stroke="#000" stroke-width="0.13119999999999998">5000</text>
<line x1="46.6" y1="756.2" x2="50.1" y2="756.2" stroke="#111" stroke-width="0.9"/>
<text x="43.0" y="759.2" font-size="8.2" text-anchor="end" font-weight="normal" fill="#000" stroke="#000" stroke-width="0.13119999999999998">10000</text>
<line x1="46.6" y1="729.5" x2="50.1" y2="729.5" stroke="#111" stroke-width="0.9"/>
<text x="43.0" y="732.5" font-size="8.2" text-anchor="end" font-weight="normal" fill="#000" stroke="#000" stroke-width="0.13119999999999998">15000</text>
<line x1="46.6" y1="702.7" x2="50.1" y2="702.7" stroke="#111" stroke-width="0.9"/>
<text x="43.0" y="705.7" font-size="8.2" text-anchor="end" font-weight="normal" fill="#000" stroke="#000" stroke-width="0.13119999999999998">20000</text>
<line x1="46.6" y1="676.0" x2="50.1" y2="676.0" stroke="#111" stroke-width="0.9"/>
<text x="43.0" y="679.0" font-size="8.2" text-anchor="end" font-weight="normal" fill="#000" stroke="#000" stroke-width="0.13119999999999998">25000</text>
<line x1="46.6" y1="649.3" x2="50.1" y2="649.3" stroke="#111" stroke-width="0.9"/>
<text x="43.0" y="652.3" font-size="8.2" text-anchor="end" font-weight="normal" fill="#000" stroke="#000" stroke-width="0.13119999999999998">30000</text>
<line x1="46.6" y1="622.6" x2="50.1" y2="622.6" stroke="#111" stroke-width="0.9"/>
<text x="43.0" y="625.6" font-size="8.2" text-anchor="end" font-weight="normal" fill="#000" stroke="#000" stroke-width="0.13119999999999998">35000</text>
<line x1="50.3" y1="809.6" x2="50.3" y2="813.4" stroke="#111" stroke-width="0.9"/>
<line x1="129.2" y1="809.6" x2="129.2" y2="813.4" stroke="#111" stroke-width="0.9"/>
<line x1="208.6" y1="809.6" x2="208.6" y2="813.4" stroke="#111" stroke-width="0.9"/>
<rect x="66.9" y="782.9" width="23.9" height="26.7" stroke="#000" stroke-width="1.0" fill="#000"/>
<line x1="78.8" y1="782.9" x2="78.8" y2="773.3" stroke="#000" stroke-width="1.0"/>
<line x1="75.0" y1="773.3" x2="82.6" y2="773.3" stroke="#000" stroke-width="1.0"/>
<rect x="90.8" y="804.8" width="22.9" height="4.8" stroke="#000" stroke-width="1.0" fill="#fff"/>
<line x1="102.2" y1="804.8" x2="102.2" y2="803.2" stroke="#000" stroke-width="1.0"/>
<line x1="98.5" y1="803.2" x2="106.0" y2="803.2" stroke="#000" stroke-width="1.0"/>
<rect x="146.5" y="657.4" width="23.9" height="152.2" stroke="#000" stroke-width="1.0" fill="#000"/>
<line x1="158.4" y1="657.4" x2="158.4" y2="645.9" stroke="#000" stroke-width="1.0"/>
<line x1="154.6" y1="645.9" x2="162.2" y2="645.9" stroke="#000" stroke-width="1.0"/>
<rect x="170.4" y="795.6" width="22.3" height="14.0" stroke="#000" stroke-width="1.0" fill="#fff"/>
<line x1="181.6" y1="795.6" x2="181.6" y2="795.6" stroke="#000" stroke-width="1.0"/>
<line x1="177.8" y1="795.6" x2="185.4" y2="795.6" stroke="#000" stroke-width="1.0"/>
<line x1="70.7" y1="764.7" x2="108.3" y2="764.7" stroke="#111" stroke-width="1.0"/>
<text x="87.1" y="762.2" font-size="10.7" text-anchor="middle" font-weight="normal" fill="#000" stroke="#000" stroke-width="0.1712">p&lt;0.05</text>
<line x1="149.7" y1="639.6" x2="185.4" y2="639.6" stroke="#111" stroke-width="1.0"/>
<text x="168.0" y="637.3" font-size="10.7" text-anchor="middle" font-weight="normal" fill="#000" stroke="#000" stroke-width="0.1712">p&lt;0.05</text>
<text x="87.3" y="826.8" font-size="11.4" text-anchor="middle" font-weight="normal" fill="#000" stroke="#000" stroke-width="0.1824">IL-4</text>
<text x="169.0" y="826.8" font-size="11.4" text-anchor="middle" font-weight="normal" fill="#000" stroke="#000" stroke-width="0.1824">IL-17A</text>
<text x="11.5" y="707.3" font-size="12.4" text-anchor="middle" font-weight="normal" fill="#000" stroke="#000" stroke-width="0.19840000000000002" transform="rotate(-90 11.5 707.3)">MFI of cytokine</text>
<text x="202.9" y="601.7" font-size="12" text-anchor="start" font-weight="normal" fill="#000" stroke="#000" stroke-width="0.1"><tspan font-weight="bold">e</tspan>)</text>
<rect x="238.3" y="575.8" width="17.9" height="6.7" stroke="none" stroke-width="0" fill="#a6a6a6"/>
<text x="260.5" y="582.2" font-size="9.2" text-anchor="start" font-weight="normal" fill="#111" stroke="#111" stroke-width="0.1">Unstimulated</text>
<line x1="238.3" y1="588.7" x2="256.2" y2="588.7" stroke="#333" stroke-width="1.0"/>
<text x="260.5" y="591.7" font-size="9.2" text-anchor="start" font-weight="normal" fill="#111" stroke="#111" stroke-width="0.1">Stimulated</text>
<text x="288.8" y="612.0" font-size="11.7" text-anchor="middle" font-weight="normal" fill="#000" stroke="#000" stroke-width="0.1872">CD24<tspan dy="-4" font-size="8">-</tspan><tspan dy="4"> iNKT</tspan></text>
<path d="M283.5 660.1h.6M271.8 657.0h.6M252.2 667.6h.6M268.4 641.7h.6M263.0 645.1h.6M288.7 667.7h.6M253.3 666.1h.6M289.2 648.0h.6M251.2 646.1h.6M264.9 659.1h.6M269.3 630.7h.6M278.7 636.6h.6M289.5 640.5h.6M263.9 644.7h.6M266.3 670.6h.6M288.6 662.2h.6M280.1 636.4h.6M266.7 648.4h.6M259.4 661.1h.6M263.1 646.5h.6M258.3 630.3h.6M284.5 671.0h.6M277.8 643.3h.6M294.5 658.6h.6M289.8 672.7h.6M293.0 649.7h.6M291.8 664.3h.6M250.4 650.1h.6M252.2 653.7h.6M284.3 642.2h.6M242.1 670.6h.6M281.0 672.7h.6M253.8 667.7h.6M308.2 679.1h.6M271.6 658.2h.6M272.5 667.0h.6M291.6 656.0h.6M253.3 663.9h.6M267.5 662.5h.6M279.2 674.5h.6M293.2 649.6h.6M280.6 676.2h.6M266.4 660.2h.6M294.1 670.1h.6M283.3 639.2h.6M254.8 658.0h.6M281.2 685.6h.6M261.2 668.7h.6M287.3 634.9h.6M261.9 657.0h.6M267.1 653.1h.6M282.5 645.3h.6M282.5 647.4h.6M266.3 661.4h.6M265.8 658.4h.6M300.6 655.3h.6M272.7 663.8h.6M269.2 668.0h.6M254.5 662.4h.6M266.8 645.4h.6M303.3 644.8h.6M303.1 662.9h.6M298.2 643.3h.6M294.2 672.5h.6M273.1 653.5h.6M314.3 657.1h.6M268.2 647.4h.6M282.1 659.0h.6M277.8 675.7h.6M269.8 660.7h.6M298.3 643.0h.6M291.6 677.0h.6M253.3 641.8h.6M258.4 632.8h.6M282.2 632.7h.6M283.0 672.4h.6M249.2 651.2h.6M244.3 664.3h.6M263.2 651.8h.6M275.9 661.5h.6M269.5 655.2h.6M266.3 656.4h.6M256.2 655.8h.6M244.1 649.1h.6M305.6 656.0h.6M254.8 658.1h.6M259.4 635.2h.6M263.2 663.8h.6M281.1 653.8h.6M260.2 642.1h.6M296.6 657.9h.6M259.8 629.7h.6M253.1 684.7h.6M256.6 654.1h.6M278.4 653.1h.6M270.5 638.5h.6M258.2 675.3h.6M262.9 665.1h.6M247.9 651.7h.6M279.2 667.4h.6M257.0 662.1h.6M281.2 646.1h.6M282.6 644.2h.6M262.3 654.8h.6M259.0 637.4h.6M268.2 664.2h.6M268.5 670.2h.6M256.4 639.3h.6M299.8 659.8h.6M290.1 645.1h.6M287.9 658.1h.6M285.4 655.3h.6M294.3 647.2h.6M259.6 637.3h.6M293.6 646.1h.6M258.3 643.7h.6M267.9 639.7h.6M270.4 647.5h.6M266.2 643.5h.6M275.6 649.5h.6M276.8 658.0h.6M280.4 628.7h.6M266.4 645.4h.6M287.4 636.1h.6M263.6 651.5h.6M269.6 666.9h.6M267.9 666.6h.6M251.6 633.3h.6M294.5 660.2h.6M282.8 656.5h.6M282.7 640.4h.6M290.2 648.6h.6M290.8 656.1h.6M243.4 639.6h.6M293.0 653.4h.6M268.7 657.9h.6M268.2 648.5h.6M276.6 656.7h.6M299.3 655.5h.6M305.1 676.6h.6M302.5 667.7h.6M277.1 656.6h.6M272.7 646.2h.6M273.9 647.3h.6M301.2 661.4h.6M267.9 632.0h.6M274.1 650.0h.6M257.6 641.4h.6M273.9 686.0h.6M274.5 653.2h.6M298.1 656.6h.6M277.7 650.5h.6M265.3 673.0h.6M291.0 675.6h.6M269.4 655.4h.6M260.9 666.6h.6M252.7 661.8h.6M292.5 671.9h.6M260.0 668.1h.6M263.6 645.9h.6M253.8 668.9h.6M301.4 647.9h.6M262.8 650.9h.6M315.1 667.1h.6M266.3 633.5h.6M264.2 669.2h.6M304.9 651.8h.6M263.9 648.9h.6M244.8 665.9h.6M257.6 667.8h.6M247.7 639.8h.6M279.6 645.8h.6M287.5 655.1h.6M256.2 662.5h.6M288.5 632.0h.6M304.2 661.0h.6M287.2 632.7h.6M263.5 650.8h.6M292.2 637.5h.6M260.9 630.6h.6M271.1 659.2h.6M248.0 647.9h.6M283.2 674.0h.6M285.6 651.4h.6M256.2 643.8h.6M264.4 656.8h.6M274.2 675.0h.6" stroke="#a8a8a8" stroke-width="0.6" fill="none"/>
<path d="M303.4 653.0h.6M318.5 681.3h.6M301.2 657.9h.6M277.6 653.7h.6M310.9 656.8h.6M284.2 670.7h.6M302.9 676.5h.6M307.9 687.7h.6M289.9 681.7h.6M288.2 677.7h.6M302.1 671.4h.6M311.6 667.8h.6M313.3 680.3h.6M301.6 660.1h.6M291.0 660.6h.6M297.6 667.7h.6M309.2 656.0h.6M291.5 663.5h.6M302.3 653.5h.6M319.3 660.1h.6M312.9 635.3h.6M299.9 671.9h.6M302.3 676.4h.6M303.4 670.3h.6M277.3 658.0h.6M271.9 676.8h.6M303.7 665.3h.6M290.1 659.9h.6M322.1 692.2h.6M299.3 686.0h.6M280.9 640.9h.6M294.2 655.8h.6M293.3 670.6h.6M300.6 671.9h.6M299.6 681.0h.6M321.3 650.6h.6M301.9 664.3h.6M304.3 646.6h.6M278.9 635.6h.6M306.3 670.7h.6M300.9 634.9h.6M295.5 657.4h.6M283.0 655.2h.6M308.4 675.6h.6M299.7 675.2h.6M292.8 669.0h.6M300.5 675.8h.6M299.2 666.0h.6M298.4 659.0h.6M326.8 675.2h.6M305.1 700.1h.6M316.8 646.2h.6M308.3 679.7h.6M322.6 686.4h.6M309.2 651.5h.6M289.6 671.8h.6M306.1 653.7h.6M295.4 662.4h.6M300.7 672.7h.6M296.6 650.7h.6M314.9 690.3h.6M298.7 682.3h.6M305.3 677.2h.6M305.8 657.3h.6M306.9 682.1h.6M289.2 695.5h.6M325.1 693.5h.6M323.9 678.4h.6" stroke="#b0b0b0" stroke-width="0.6" fill="none"/>
<path d="M275.8 649.5 C275.5 644 284 643.2 296 643.8 C301 644 303 646 302 649 C298 650 293 650 290 653 C287 657.5 281 656.5 278 653.5 Z" fill="none" stroke="#444" stroke-width="0.55"/>
<path d="M280 649.5 C281 646.7 288 646 297.5 646.4 C294 649 290 648 287 651 C285 653 281 652 280 649.5 Z" fill="none" stroke="#444" stroke-width="0.55"/>
<path d="M285 648.8 C288 647.5 292 647.6 296 647.8" fill="none" stroke="#444" stroke-width="0.5"/>
<g transform="translate(305.6 661.0) rotate(-6)" fill="none" stroke="#444" stroke-width="0.45">
<ellipse cx="0.0" cy="0.0" rx="9.20" ry="16.00"/>
<ellipse cx="0.0" cy="0.3" rx="8.34" ry="14.51"/>
<ellipse cx="0.0" cy="0.7" rx="7.48" ry="13.01"/>
<ellipse cx="0.0" cy="1.0" rx="6.62" ry="11.52"/>
</g>
<g transform="translate(305.4 662.9) rotate(-5)" fill="none" stroke="#111" stroke-width="0.5">
<ellipse cx="0.0" cy="0.0" rx="7.0" ry="11.5" fill="url(#gd)" stroke="none"/>
<ellipse cx="0.0" cy="0.0" rx="7.00" ry="11.50"/>
<ellipse cx="0.0" cy="0.0" rx="6.10" ry="10.02"/>
<ellipse cx="0.0" cy="0.0" rx="5.20" ry="8.54"/>
<ellipse cx="0.0" cy="0.0" rx="4.30" ry="7.06"/>
<ellipse cx="0.0" cy="0.0" rx="3.40" ry="5.59"/>
<ellipse cx="0.0" cy="0.0" rx="2.50" ry="4.11"/>
<ellipse cx="0.0" cy="0.0" rx="1.60" ry="2.63"/>
<ellipse cx="0.0" cy="0.0" rx="0.70" ry="1.15"/>
</g>
<rect x="239.0" y="614.8" width="92.4" height="92.2" stroke="#111" stroke-width="1.4" fill="none"/>
<text x="258.9" y="716.4" font-size="4.6" text-anchor="middle" font-weight="normal" fill="#222" stroke="#222" stroke-width="0.1">0</text>
<text x="267.6" y="716.4" font-size="4.6" text-anchor="middle" font-weight="normal" fill="#222" stroke="#222" stroke-width="0.1">10<tspan dy="-1.8" font-size="3.2">3</tspan></text>
<text x="289.8" y="716.4" font-size="4.6" text-anchor="middle" font-weight="normal" fill="#222" stroke="#222" stroke-width="0.1">10<tspan dy="-1.8" font-size="3.2">4</tspan></text>
<text x="310.6" y="716.4" font-size="4.6" text-anchor="middle" font-weight="normal" fill="#222" stroke="#222" stroke-width="0.1">10<tspan dy="-1.8" font-size="3.2">5</tspan></text>
<text x="330.5" y="716.4" font-size="4.6" text-anchor="middle" font-weight="normal" fill="#222" stroke="#222" stroke-width="0.1">10<tspan dy="-1.8" font-size="3.2">6</tspan></text>
<text x="235.6" y="616.5" font-size="4.6" text-anchor="end" font-weight="normal" fill="#222" stroke="#222" stroke-width="0.1">10<tspan dy="-1.8" font-size="3.2">6</tspan></text>
<text x="235.6" y="636.3" font-size="4.6" text-anchor="end" font-weight="normal" fill="#222" stroke="#222" stroke-width="0.1">10<tspan dy="-1.8" font-size="3.2">5</tspan></text>
<text x="235.6" y="657.1" font-size="4.6" text-anchor="end" font-weight="normal" fill="#222" stroke="#222" stroke-width="0.1">10<tspan dy="-1.8" font-size="3.2">4</tspan></text>
<text x="235.6" y="680.1" font-size="4.6" text-anchor="end" font-weight="normal" fill="#222" stroke="#222" stroke-width="0.1">10<tspan dy="-1.8" font-size="3.2">3</tspan></text>
<text x="235.6" y="692.6" font-size="4.6" text-anchor="end" font-weight="normal" fill="#222" stroke="#222" stroke-width="0.1">0</text>
<path d="M258.9 707.0L258.9 709.6M267.6 707.0L267.6 709.6M289.8 707.0L289.8 709.6M310.6 707.0L310.6 709.6M330.5 707.0L330.5 709.6M236.4 614.8L239.0 614.8M236.4 634.6L239.0 634.6M236.4 655.4L239.0 655.4M236.4 678.4L239.0 678.4M236.4 690.9L239.0 690.9" stroke="#111" stroke-width="0.9" fill="none"/>
<path d="M261.5 707.0L261.5 708.5M263.3 707.0L263.3 708.5M264.6 707.0L264.6 708.5M265.7 707.0L265.7 708.5M266.6 707.0L266.6 708.5M267.2 707.0L267.2 708.5M274.3 707.0L274.3 708.5M278.7 707.0L278.7 708.5M282.1 707.0L282.1 708.5M284.9 707.0L284.9 708.5M287.2 707.0L287.2 708.5M288.7 707.0L288.7 708.5M296.1 707.0L296.1 708.5M300.2 707.0L300.2 708.5M303.3 707.0L303.3 708.5M306.0 707.0L306.0 708.5M308.1 707.0L308.1 708.5M309.6 707.0L309.6 708.5M316.6 707.0L316.6 708.5M320.5 707.0L320.5 708.5M323.5 707.0L323.5 708.5M326.1 707.0L326.1 708.5M328.1 707.0L328.1 708.5M329.5 707.0L329.5 708.5M246.0 707.0L246.0 708.5M250.9 707.0L250.9 708.5M254.9 707.0L254.9 708.5M237.5 615.8L239.0 615.8M237.5 617.2L239.0 617.2M237.5 619.2L239.0 619.2M237.5 621.7L239.0 621.7M237.5 624.7L239.0 624.7M237.5 628.7L239.0 628.7M237.5 635.7L239.0 635.7M237.5 637.1L239.0 637.1M237.5 639.2L239.0 639.2M237.5 641.9L239.0 641.9M237.5 645.0L239.0 645.0M237.5 649.1L239.0 649.1M237.5 656.5L239.0 656.5M237.5 658.1L239.0 658.1M237.5 660.4L239.0 660.4M237.5 663.4L239.0 663.4M237.5 666.9L239.0 666.9M237.5 671.5L239.0 671.5M237.5 679.0L239.0 679.0M237.5 679.9L239.0 679.9M237.5 681.2L239.0 681.2M237.5 682.8L239.0 682.8M237.5 684.6L239.0 684.6M237.5 687.1L239.0 687.1M237.5 695.7L239.0 695.7M237.5 700.5L239.0 700.5" stroke="#222" stroke-width="0.5" fill="none"/>
<rect x="296.1" y="641.9" width="25.7" height="40.2" stroke="#1a1a1a" stroke-width="1.2" fill="none"/>
<text x="308.8" y="639.0" font-size="10.4" text-anchor="middle" font-weight="normal" fill="#000" stroke="#000" stroke-width="0.16640000000000002">90</text>
<text x="309.3" y="691.0" font-size="8" text-anchor="middle" font-weight="normal" fill="#000" stroke="#000" stroke-width="0.128">NKT1</text>
<path d="M264.6 783.4h.6M257.0 791.3h.6M269.5 797.4h.6M306.4 789.7h.6M280.8 795.2h.6M274.4 787.7h.6M268.0 780.9h.6M272.9 789.7h.6M275.1 780.6h.6M270.6 790.5h.6M279.7 778.3h.6M276.7 800.8h.6M279.6 785.9h.6M262.1 787.4h.6M281.7 807.1h.6M267.5 782.9h.6M276.0 792.2h.6M255.5 781.9h.6M268.4 797.4h.6M250.9 778.8h.6M278.0 776.5h.6M271.7 793.9h.6M268.2 778.8h.6M269.0 786.3h.6M275.4 780.8h.6M287.5 771.6h.6M267.2 790.1h.6M285.4 783.3h.6M278.7 783.8h.6M281.8 809.1h.6M263.6 794.9h.6M255.2 800.7h.6M289.4 790.4h.6M251.8 794.4h.6M288.4 802.0h.6M283.0 769.9h.6M259.1 805.6h.6M250.4 802.4h.6M300.1 798.4h.6M287.9 786.3h.6M250.4 788.9h.6M266.8 789.5h.6M281.1 788.4h.6M273.1 794.7h.6M269.9 810.3h.6M277.1 790.9h.6M266.7 783.1h.6M291.5 791.7h.6M252.7 783.8h.6M267.8 785.1h.6M287.4 777.2h.6M277.9 791.6h.6M251.2 790.5h.6M268.5 795.5h.6M262.8 793.3h.6M243.4 778.1h.6M282.6 801.5h.6M269.8 783.4h.6M287.3 767.0h.6M257.2 797.4h.6M280.4 778.6h.6M272.4 780.1h.6M270.9 799.9h.6M281.8 767.1h.6M282.3 770.4h.6M288.2 794.4h.6M306.0 783.3h.6M270.1 801.5h.6M259.8 782.2h.6M264.1 789.2h.6M252.7 795.3h.6M278.7 790.8h.6M297.2 786.4h.6M290.9 784.0h.6M282.1 768.7h.6M273.2 788.1h.6M262.1 783.3h.6" stroke="#bbb" stroke-width="0.6" fill="none"/>
<g transform="translate(271.5 758.3) rotate(-4)" fill="none" stroke="#444" stroke-width="0.5">
<ellipse cx="0.0" cy="0.0" rx="25.50" ry="11.80"/>
<ellipse cx="0.0" cy="0.0" rx="23.71" ry="10.97"/>
<ellipse cx="0.0" cy="0.0" rx="21.93" ry="10.15"/>
</g>
<g transform="translate(290.0 757.5) rotate(0)" fill="none" stroke="#444" stroke-width="0.45">
<ellipse cx="0.0" cy="0.0" rx="13.0" ry="7.0" fill="url(#gl)" stroke="none"/>
<ellipse cx="0.0" cy="0.0" rx="13.00" ry="7.00"/>
<ellipse cx="0.0" cy="0.0" rx="10.08" ry="5.42"/>
<ellipse cx="0.0" cy="0.0" rx="7.15" ry="3.85"/>
</g>
<g transform="translate(273.6 759.5) rotate(-5)" fill="none" stroke="#111" stroke-width="0.55">
<ellipse cx="0.0" cy="0.0" rx="23.6" ry="8.4" fill="url(#gm)" stroke="none"/>
<ellipse cx="0.0" cy="0.0" rx="22.50" ry="8.00"/>
<ellipse cx="0.0" cy="0.0" rx="19.69" ry="7.00"/>
<ellipse cx="0.0" cy="0.0" rx="16.88" ry="6.00"/>
<ellipse cx="0.0" cy="0.0" rx="14.06" ry="5.00"/>
<ellipse cx="0.0" cy="0.0" rx="11.25" ry="4.00"/>
<ellipse cx="0.0" cy="0.0" rx="8.44" ry="3.00"/>
<ellipse cx="0.0" cy="0.0" rx="5.62" ry="2.00"/>
</g>
<g transform="translate(277.0 755.8) rotate(-5)" fill="none" stroke="none" stroke-width="0.5">
<ellipse cx="0.0" cy="0.0" rx="14.0" ry="2.9" fill="url(#gd)" stroke="none"/>
<ellipse cx="0.0" cy="0.0" rx="14.00" ry="2.90"/>
</g>
<g transform="translate(274.5 763.6) rotate(-3)" fill="none" stroke="none" stroke-width="0.5">
<ellipse cx="0.0" cy="0.0" rx="15.0" ry="3.0" fill="url(#gd)" stroke="none"/>
<ellipse cx="0.0" cy="0.0" rx="15.00" ry="3.00"/>
</g>
<path d="M258 761 C268 759.5 280 758.7 291 757.8" stroke="#eee" stroke-width="0.7" fill="none" stroke-linecap="round"/>
<g transform="translate(309.3 758.5) rotate(0)" fill="none" stroke="#444" stroke-width="0.5">
<path d="M-12.5 0 C-12.5 -12.6 12.5 -12.6 12.5 0 C12.5 14.6 5.0 26.5 0 26.5 C-5.0 26.5 -12.5 14.6 -12.5 0 Z"/>
<path d="M-11.4 0 C-11.4 -11.5 11.4 -11.5 11.4 0 C11.4 13.3 4.5 24.1 0 24.1 C-4.5 24.1 -11.4 13.3 -11.4 0 Z"/>
<path d="M-10.2 0 C-10.2 -10.4 10.2 -10.4 10.2 0 C10.2 12.0 4.1 21.7 0 21.7 C-4.1 21.7 -10.2 12.0 -10.2 0 Z"/>
</g>
<g transform="translate(308.7 763.2) rotate(0)" fill="none" stroke="#111" stroke-width="0.5">
<ellipse cx="0.0" cy="0.0" rx="10.3" ry="10.7" fill="url(#gd)" stroke="none"/>
<ellipse cx="0.0" cy="0.0" rx="9.80" ry="10.20"/>
<ellipse cx="0.0" cy="0.0" rx="8.58" ry="8.92"/>
<ellipse cx="0.0" cy="0.0" rx="7.35" ry="7.65"/>
<ellipse cx="0.0" cy="0.0" rx="6.12" ry="6.38"/>
<ellipse cx="0.0" cy="0.0" rx="4.90" ry="5.10"/>
<ellipse cx="0.0" cy="0.0" rx="3.68" ry="3.82"/>
<ellipse cx="0.0" cy="0.0" rx="2.45" ry="2.55"/>
</g>
<path d="M307.2 762.8 L310.4 762.8 L308.8 766 Z" fill="#fff"/>
<circle cx="263" cy="784.2" r="2.9" fill="none" stroke="#555" stroke-width="0.55"/>
<path d="M277.5 772.6 C281.5 771.6 281.5 778 279.5 783 C277.5 789 272 793.5 269 790.5 C266 787.5 272 784 274 780 C275.3 777 275.3 773.6 277.5 772.6 Z" fill="none" stroke="#555" stroke-width="0.55"/>
<rect x="239.9" y="719.8" width="92.8" height="92.3" stroke="#111" stroke-width="1.4" fill="none"/>
<text x="259.9" y="821.5" font-size="4.6" text-anchor="middle" font-weight="normal" fill="#222" stroke="#222" stroke-width="0.1">0</text>
<text x="268.7" y="821.5" font-size="4.6" text-anchor="middle" font-weight="normal" fill="#222" stroke="#222" stroke-width="0.1">10<tspan dy="-1.8" font-size="3.2">3</tspan></text>
<text x="290.9" y="821.5" font-size="4.6" text-anchor="middle" font-weight="normal" fill="#222" stroke="#222" stroke-width="0.1">10<tspan dy="-1.8" font-size="3.2">4</tspan></text>
<text x="311.8" y="821.5" font-size="4.6" text-anchor="middle" font-weight="normal" fill="#222" stroke="#222" stroke-width="0.1">10<tspan dy="-1.8" font-size="3.2">5</tspan></text>
<text x="331.8" y="821.5" font-size="4.6" text-anchor="middle" font-weight="normal" fill="#222" stroke="#222" stroke-width="0.1">10<tspan dy="-1.8" font-size="3.2">6</tspan></text>
<text x="236.5" y="721.5" font-size="4.6" text-anchor="end" font-weight="normal" fill="#222" stroke="#222" stroke-width="0.1">10<tspan dy="-1.8" font-size="3.2">6</tspan></text>
<text x="236.5" y="741.3" font-size="4.6" text-anchor="end" font-weight="normal" fill="#222" stroke="#222" stroke-width="0.1">10<tspan dy="-1.8" font-size="3.2">5</tspan></text>
<text x="236.5" y="762.1" font-size="4.6" text-anchor="end" font-weight="normal" fill="#222" stroke="#222" stroke-width="0.1">10<tspan dy="-1.8" font-size="3.2">4</tspan></text>
<text x="236.5" y="785.2" font-size="4.6" text-anchor="end" font-weight="normal" fill="#222" stroke="#222" stroke-width="0.1">10<tspan dy="-1.8" font-size="3.2">3</tspan></text>
<text x="236.5" y="797.6" font-size="4.6" text-anchor="end" font-weight="normal" fill="#222" stroke="#222" stroke-width="0.1">0</text>
<path d="M259.9 812.1L259.9 814.7M268.7 812.1L268.7 814.7M290.9 812.1L290.9 814.7M311.8 812.1L311.8 814.7M331.8 812.1L331.8 814.7M237.3 719.8L239.9 719.8M237.3 739.6L239.9 739.6M237.3 760.4L239.9 760.4M237.3 783.5L239.9 783.5M237.3 795.9L239.9 795.9" stroke="#111" stroke-width="0.9" fill="none"/>
<path d="M262.5 812.1L262.5 813.6M264.3 812.1L264.3 813.6M265.6 812.1L265.6 813.6M266.7 812.1L266.7 813.6M267.6 812.1L267.6 813.6M268.2 812.1L268.2 813.6M275.3 812.1L275.3 813.6M279.8 812.1L279.8 813.6M283.1 812.1L283.1 813.6M286.0 812.1L286.0 813.6M288.3 812.1L288.3 813.6M289.8 812.1L289.8 813.6M297.2 812.1L297.2 813.6M301.4 812.1L301.4 813.6M304.5 812.1L304.5 813.6M307.2 812.1L307.2 813.6M309.3 812.1L309.3 813.6M310.8 812.1L310.8 813.6M317.8 812.1L317.8 813.6M321.8 812.1L321.8 813.6M324.8 812.1L324.8 813.6M327.4 812.1L327.4 813.6M329.4 812.1L329.4 813.6M330.8 812.1L330.8 813.6M246.9 812.1L246.9 813.6M251.9 812.1L251.9 813.6M255.9 812.1L255.9 813.6M238.4 720.8L239.9 720.8M238.4 722.2L239.9 722.2M238.4 724.2L239.9 724.2M238.4 726.7L239.9 726.7M238.4 729.7L239.9 729.7M238.4 733.7L239.9 733.7M238.4 740.7L239.9 740.7M238.4 742.1L239.9 742.1M238.4 744.2L239.9 744.2M238.4 746.9L239.9 746.9M238.4 750.0L239.9 750.0M238.4 754.2L239.9 754.2M238.4 761.6L239.9 761.6M238.4 763.2L239.9 763.2M238.4 765.5L239.9 765.5M238.4 768.5L239.9 768.5M238.4 771.9L239.9 771.9M238.4 776.6L239.9 776.6M238.4 784.1L239.9 784.1M238.4 785.0L239.9 785.0M238.4 786.2L239.9 786.2M238.4 787.8L239.9 787.8M238.4 789.7L239.9 789.7M238.4 792.2L239.9 792.2M238.4 800.8L239.9 800.8M238.4 805.6L239.9 805.6" stroke="#222" stroke-width="0.5" fill="none"/>
<rect x="297.1" y="746.8" width="26.0" height="40.3" stroke="#1a1a1a" stroke-width="1.2" fill="none"/>
<text x="312.2" y="743.9" font-size="10.4" text-anchor="middle" font-weight="normal" fill="#000" stroke="#000" stroke-width="0.16640000000000002">44.9</text>
<text x="310.3" y="796.9" font-size="8" text-anchor="middle" font-weight="normal" fill="#000" stroke="#000" stroke-width="0.128">NKT1</text>
<text x="290.2" y="833.5" font-size="12.3" text-anchor="middle" font-weight="normal" fill="#000" stroke="#000" stroke-width="0.1968">Tbet</text>
<text x="225.6" y="712.0" font-size="11.6" text-anchor="middle" font-weight="normal" fill="#000" stroke="#000" stroke-width="0.1856" transform="rotate(-90 225.6 712)">PLZF</text>
<line x1="223.1" y1="618.0" x2="223.1" y2="693.4" stroke="#222" stroke-width="1.1"/>
<line x1="223.1" y1="733.1" x2="223.1" y2="811.8" stroke="#222" stroke-width="1.1"/>
<text x="411.0" y="611.5" font-size="11.5" text-anchor="middle" font-weight="normal" fill="#000" stroke="#000" stroke-width="0.184">NKT1</text>
<path d="M365.7 706.8 C366.0 706.3 367.5 705.7 368.1 702.4 C368.6 699.2 369.7 687.7 370.1 680.6 C370.6 673.5 371.3 653.1 371.6 645.7 C371.9 638.3 372.5 622.6 372.8 621.2 C373.1 619.9 373.7 633.0 374.0 635.2 C374.3 637.4 374.9 638.5 375.1 638.7 C375.4 638.9 376.0 636.1 376.3 637.0 C376.6 637.8 377.2 643.5 377.5 645.7 C377.8 647.9 378.5 651.1 379.0 654.4 C379.4 657.7 380.5 667.5 381.0 671.9 C381.6 676.2 382.7 685.8 383.4 689.3 C384.0 692.8 385.6 698.1 386.3 699.8 C387.0 701.6 388.5 702.5 389.3 703.3 C390.0 704.1 391.5 705.5 392.2 705.9 C392.9 706.4 394.3 706.7 394.5 706.8 L394.5 706.8 L365.7 706.8 Z" fill="#dcdcdc" stroke="none"/>
<path d="M365.7 706.8 C366.0 706.3 367.5 705.7 368.1 702.4 C368.6 699.2 369.7 687.7 370.1 680.6 C370.6 673.5 371.3 653.1 371.6 645.7 C371.9 638.3 372.5 622.6 372.8 621.2 C373.1 619.9 373.7 633.0 374.0 635.2 C374.3 637.4 374.9 638.5 375.1 638.7 C375.4 638.9 376.0 636.1 376.3 637.0 C376.6 637.8 377.2 643.5 377.5 645.7 C377.8 647.9 378.5 651.1 379.0 654.4 C379.4 657.7 380.5 667.5 381.0 671.9 C381.6 676.2 382.7 685.8 383.4 689.3 C384.0 692.8 385.6 698.1 386.3 699.8 C387.0 701.6 388.5 702.5 389.3 703.3 C390.0 704.1 391.5 705.5 392.2 705.9 C392.9 706.4 394.3 706.7 394.5 706.8" fill="none" stroke="#7a7a7a" stroke-width="1.0" stroke-linejoin="round"/>
<path d="M357.8 706.8 C359.2 706.8 366.9 706.8 368.7 706.8 C370.4 706.6 370.9 705.5 371.6 705.1 C372.4 704.6 373.6 703.6 374.6 703.3 C375.5 703.0 377.9 702.9 379.0 702.4 C380.1 702.0 382.5 700.4 383.4 699.8 C384.3 699.3 385.6 698.8 386.3 698.1 C387.0 697.3 388.5 695.0 389.3 693.7 C390.0 692.4 391.5 689.4 392.2 687.6 C392.9 685.7 394.4 681.4 395.1 678.9 C395.9 676.4 397.3 670.6 398.1 667.5 C398.8 664.5 400.4 657.7 401.0 654.4 C401.7 651.1 402.8 644.4 403.4 641.3 C403.9 638.3 405.0 631.8 405.4 630.0 C405.9 628.1 406.6 626.7 406.9 626.5 C407.2 626.3 407.8 628.9 408.1 628.2 C408.4 627.6 409.0 620.7 409.2 621.2 C409.5 621.8 410.1 631.5 410.4 632.6 C410.7 633.7 411.3 629.4 411.6 630.0 C411.9 630.5 412.4 634.1 412.8 637.0 C413.1 639.8 413.9 648.9 414.2 652.7 C414.6 656.5 415.3 664.0 415.7 667.5 C416.1 671.0 417.0 677.7 417.5 680.6 C417.9 683.6 418.8 688.7 419.2 691.1 C419.7 693.5 420.5 698.1 421.0 699.8 C421.5 701.6 422.5 704.2 423.1 705.1 C423.6 705.9 421.7 706.6 425.1 706.8 C428.5 706.8 447.2 706.8 450.4 706.8" fill="none" stroke="#0a0a0a" stroke-width="1.15" stroke-linejoin="round"/>
<rect x="357.8" y="614.9" width="92.6" height="91.9" stroke="#111" stroke-width="1.4" fill="none"/>
<text x="354.2" y="621.2" font-size="4.6" text-anchor="end" font-weight="normal" fill="#333" stroke="#333" stroke-width="0.1">100</text>
<text x="354.2" y="638.7" font-size="4.6" text-anchor="end" font-weight="normal" fill="#333" stroke="#333" stroke-width="0.1">80</text>
<text x="354.2" y="656.1" font-size="4.6" text-anchor="end" font-weight="normal" fill="#333" stroke="#333" stroke-width="0.1">60</text>
<text x="354.2" y="673.6" font-size="4.6" text-anchor="end" font-weight="normal" fill="#333" stroke="#333" stroke-width="0.1">40</text>
<text x="354.2" y="691.0" font-size="4.6" text-anchor="end" font-weight="normal" fill="#333" stroke="#333" stroke-width="0.1">20</text>
<text x="354.2" y="708.5" font-size="4.6" text-anchor="end" font-weight="normal" fill="#333" stroke="#333" stroke-width="0.1">0</text>
<text x="378.6" y="716.0" font-size="4.6" text-anchor="middle" font-weight="normal" fill="#222" stroke="#222" stroke-width="0.1">0</text>
<text x="385.6" y="716.0" font-size="4.6" text-anchor="middle" font-weight="normal" fill="#222" stroke="#222" stroke-width="0.1">10<tspan dy="-1.8" font-size="3.2">3</tspan></text>
<text x="408.7" y="716.0" font-size="4.6" text-anchor="middle" font-weight="normal" fill="#222" stroke="#222" stroke-width="0.1">10<tspan dy="-1.8" font-size="3.2">4</tspan></text>
<text x="430.0" y="716.0" font-size="4.6" text-anchor="middle" font-weight="normal" fill="#222" stroke="#222" stroke-width="0.1">10<tspan dy="-1.8" font-size="3.2">5</tspan></text>
<text x="449.5" y="716.0" font-size="4.6" text-anchor="middle" font-weight="normal" fill="#222" stroke="#222" stroke-width="0.1">10<tspan dy="-1.8" font-size="3.2">6</tspan></text>
<path d="M355.2 619.5L357.8 619.5M355.2 637.0L357.8 637.0M355.2 654.4L357.8 654.4M355.2 671.9L357.8 671.9M355.2 689.3L357.8 689.3M355.2 706.8L357.8 706.8M378.6 706.8L378.6 709.4M385.6 706.8L385.6 709.4M408.7 706.8L408.7 709.4M430.0 706.8L430.0 709.4M449.5 706.8L449.5 709.4" stroke="#111" stroke-width="0.9" fill="none"/>
<path d="M356.3 619.5L357.8 619.5M356.3 623.9L357.8 623.9M356.3 628.2L357.8 628.2M356.3 632.6L357.8 632.6M356.3 637.0L357.8 637.0M356.3 641.3L357.8 641.3M356.3 645.7L357.8 645.7M356.3 650.1L357.8 650.1M356.3 654.4L357.8 654.4M356.3 658.8L357.8 658.8M356.3 663.1L357.8 663.1M356.3 667.5L357.8 667.5M356.3 671.9L357.8 671.9M356.3 676.2L357.8 676.2M356.3 680.6L357.8 680.6M356.3 685.0L357.8 685.0M356.3 689.3L357.8 689.3M356.3 693.7L357.8 693.7M356.3 698.1L357.8 698.1M356.3 702.4L357.8 702.4M356.3 706.8L357.8 706.8M380.7 706.8L380.7 708.3M382.1 706.8L382.1 708.3M383.1 706.8L383.1 708.3M384.1 706.8L384.1 708.3M384.7 706.8L384.7 708.3M385.2 706.8L385.2 708.3M392.5 706.8L392.5 708.3M397.2 706.8L397.2 708.3M400.6 706.8L400.6 708.3M403.6 706.8L403.6 708.3M406.0 706.8L406.0 708.3M407.6 706.8L407.6 708.3M415.1 706.8L415.1 708.3M419.4 706.8L419.4 708.3M422.6 706.8L422.6 708.3M425.3 706.8L425.3 708.3M427.5 706.8L427.5 708.3M429.0 706.8L429.0 708.3M435.9 706.8L435.9 708.3M439.8 706.8L439.8 708.3M442.7 706.8L442.7 708.3M445.2 706.8L445.2 708.3M447.1 706.8L447.1 708.3M448.5 706.8L448.5 708.3M367.2 706.8L367.2 708.3M371.3 706.8L371.3 708.3M374.5 706.8L374.5 708.3M376.6 706.8L376.6 708.3" stroke="#222" stroke-width="0.5" fill="none"/>
<line x1="391.4" y1="673.2" x2="435.4" y2="673.2" stroke="#1a1a1a" stroke-width="1.1"/>
<line x1="391.4" y1="671.0" x2="391.4" y2="675.4" stroke="#1a1a1a" stroke-width="1.1"/>
<line x1="435.4" y1="671.0" x2="435.4" y2="675.4" stroke="#1a1a1a" stroke-width="1.1"/>
<text x="428.0" y="670.3" font-size="10" text-anchor="middle" font-weight="normal" fill="#000" stroke="#000" stroke-width="0.16">90.8</text>
<path d="M365.7 813.4 C366.0 812.5 367.5 810.8 368.1 806.4 C368.6 802.0 369.7 785.6 370.1 778.3 C370.6 770.9 371.3 753.9 371.6 747.5 C371.9 741.2 372.5 727.9 372.8 727.4 C373.1 726.8 373.7 740.6 374.0 743.2 C374.3 745.7 374.9 747.8 375.1 747.5 C375.4 747.3 376.0 742.4 376.3 741.4 C376.6 740.4 377.2 737.8 377.5 739.6 C377.8 741.5 378.5 752.0 379.0 756.3 C379.4 760.6 380.5 769.8 381.0 773.9 C381.6 778.0 382.7 785.5 383.4 788.8 C384.0 792.1 385.6 797.7 386.3 800.2 C387.0 802.8 388.5 807.5 389.3 809.0 C390.0 810.5 391.5 812.0 392.2 812.5 C392.9 813.1 394.3 813.3 394.5 813.4 L394.5 813.4 L365.7 813.4 Z" fill="#dcdcdc" stroke="none"/>
<path d="M365.7 813.4 C366.0 812.5 367.5 810.8 368.1 806.4 C368.6 802.0 369.7 785.6 370.1 778.3 C370.6 770.9 371.3 753.9 371.6 747.5 C371.9 741.2 372.5 727.9 372.8 727.4 C373.1 726.8 373.7 740.6 374.0 743.2 C374.3 745.7 374.9 747.8 375.1 747.5 C375.4 747.3 376.0 742.4 376.3 741.4 C376.6 740.4 377.2 737.8 377.5 739.6 C377.8 741.5 378.5 752.0 379.0 756.3 C379.4 760.6 380.5 769.8 381.0 773.9 C381.6 778.0 382.7 785.5 383.4 788.8 C384.0 792.1 385.6 797.7 386.3 800.2 C387.0 802.8 388.5 807.5 389.3 809.0 C390.0 810.5 391.5 812.0 392.2 812.5 C392.9 813.1 394.3 813.3 394.5 813.4" fill="none" stroke="#7a7a7a" stroke-width="1.0" stroke-linejoin="round"/>
<path d="M357.8 813.4 C358.8 813.4 364.5 813.4 365.7 813.4 C367.0 812.9 367.5 811.2 368.1 809.0 C368.6 806.8 369.7 798.8 370.1 795.8 C370.6 792.9 371.2 787.1 371.6 785.3 C372.0 783.5 372.7 781.9 373.1 781.8 C373.5 781.7 374.2 784.3 374.6 784.4 C374.9 784.5 375.7 782.3 376.0 782.7 C376.4 783.0 377.1 787.8 377.5 787.1 C377.9 786.3 378.6 778.4 379.0 776.5 C379.3 774.7 380.1 771.4 380.4 772.1 C380.8 772.9 381.5 781.9 381.9 782.7 C382.3 783.4 383.0 779.7 383.4 778.3 C383.8 776.9 384.8 771.0 385.1 771.3 C385.5 771.5 386.0 778.6 386.3 780.0 C386.6 781.5 387.4 784.0 387.8 782.7 C388.2 781.4 388.9 772.2 389.3 769.5 C389.6 766.8 390.4 761.3 390.7 760.7 C391.1 760.2 391.9 765.1 392.2 765.1 C392.5 765.1 393.1 760.4 393.4 760.7 C393.7 761.0 394.3 767.5 394.5 767.7 C394.8 768.0 395.4 761.7 395.7 762.5 C396.0 763.2 396.6 771.7 396.9 773.9 C397.2 776.1 397.7 781.1 398.1 780.0 C398.4 778.9 399.4 768.6 399.8 765.1 C400.3 761.6 401.2 755.2 401.6 751.9 C402.0 748.6 402.9 741.8 403.4 738.8 C403.8 735.7 404.8 727.0 405.1 727.4 C405.5 727.7 406.0 739.4 406.3 741.4 C406.6 743.4 407.2 741.8 407.5 743.2 C407.8 744.5 408.4 750.0 408.7 751.9 C409.0 753.9 409.5 756.8 409.8 759.0 C410.2 761.2 411.2 766.9 411.6 769.5 C412.0 772.1 413.0 777.8 413.4 780.0 C413.7 782.2 414.2 786.4 414.5 787.1 C414.8 787.7 415.4 784.8 415.7 785.3 C416.0 785.9 416.8 789.3 417.2 791.4 C417.5 793.6 418.2 800.7 418.7 802.9 C419.1 805.1 420.5 808.1 421.0 809.0 C421.6 809.9 422.5 809.6 423.1 809.9 C423.6 810.2 424.6 811.2 425.1 811.6 C425.7 812.1 424.3 813.2 427.5 813.4 C430.6 813.4 447.5 813.4 450.4 813.4" fill="none" stroke="#0a0a0a" stroke-width="1.15" stroke-linejoin="round"/>
<rect x="357.8" y="721.9" width="92.6" height="91.5" stroke="#111" stroke-width="1.4" fill="none"/>
<text x="354.2" y="727.3" font-size="4.6" text-anchor="end" font-weight="normal" fill="#333" stroke="#333" stroke-width="0.1">100</text>
<text x="354.2" y="744.9" font-size="4.6" text-anchor="end" font-weight="normal" fill="#333" stroke="#333" stroke-width="0.1">80</text>
<text x="354.2" y="762.4" font-size="4.6" text-anchor="end" font-weight="normal" fill="#333" stroke="#333" stroke-width="0.1">60</text>
<text x="354.2" y="780.0" font-size="4.6" text-anchor="end" font-weight="normal" fill="#333" stroke="#333" stroke-width="0.1">40</text>
<text x="354.2" y="797.5" font-size="4.6" text-anchor="end" font-weight="normal" fill="#333" stroke="#333" stroke-width="0.1">20</text>
<text x="354.2" y="815.1" font-size="4.6" text-anchor="end" font-weight="normal" fill="#333" stroke="#333" stroke-width="0.1">0</text>
<text x="378.6" y="822.6" font-size="4.6" text-anchor="middle" font-weight="normal" fill="#222" stroke="#222" stroke-width="0.1">0</text>
<text x="385.6" y="822.6" font-size="4.6" text-anchor="middle" font-weight="normal" fill="#222" stroke="#222" stroke-width="0.1">10<tspan dy="-1.8" font-size="3.2">3</tspan></text>
<text x="408.7" y="822.6" font-size="4.6" text-anchor="middle" font-weight="normal" fill="#222" stroke="#222" stroke-width="0.1">10<tspan dy="-1.8" font-size="3.2">4</tspan></text>
<text x="430.0" y="822.6" font-size="4.6" text-anchor="middle" font-weight="normal" fill="#222" stroke="#222" stroke-width="0.1">10<tspan dy="-1.8" font-size="3.2">5</tspan></text>
<text x="449.5" y="822.6" font-size="4.6" text-anchor="middle" font-weight="normal" fill="#222" stroke="#222" stroke-width="0.1">10<tspan dy="-1.8" font-size="3.2">6</tspan></text>
<path d="M355.2 725.6L357.8 725.6M355.2 743.2L357.8 743.2M355.2 760.7L357.8 760.7M355.2 778.3L357.8 778.3M355.2 795.8L357.8 795.8M355.2 813.4L357.8 813.4M378.6 813.4L378.6 816.0M385.6 813.4L385.6 816.0M408.7 813.4L408.7 816.0M430.0 813.4L430.0 816.0M449.5 813.4L449.5 816.0" stroke="#111" stroke-width="0.9" fill="none"/>
<path d="M356.3 725.6L357.8 725.6M356.3 730.0L357.8 730.0M356.3 734.4L357.8 734.4M356.3 738.8L357.8 738.8M356.3 743.2L357.8 743.2M356.3 747.5L357.8 747.5M356.3 751.9L357.8 751.9M356.3 756.3L357.8 756.3M356.3 760.7L357.8 760.7M356.3 765.1L357.8 765.1M356.3 769.5L357.8 769.5M356.3 773.9L357.8 773.9M356.3 778.3L357.8 778.3M356.3 782.7L357.8 782.7M356.3 787.1L357.8 787.1M356.3 791.5L357.8 791.5M356.3 795.8L357.8 795.8M356.3 800.2L357.8 800.2M356.3 804.6L357.8 804.6M356.3 809.0L357.8 809.0M356.3 813.4L357.8 813.4M380.7 813.4L380.7 814.9M382.1 813.4L382.1 814.9M383.1 813.4L383.1 814.9M384.1 813.4L384.1 814.9M384.7 813.4L384.7 814.9M385.2 813.4L385.2 814.9M392.5 813.4L392.5 814.9M397.2 813.4L397.2 814.9M400.6 813.4L400.6 814.9M403.6 813.4L403.6 814.9M406.0 813.4L406.0 814.9M407.6 813.4L407.6 814.9M415.1 813.4L415.1 814.9M419.4 813.4L419.4 814.9M422.6 813.4L422.6 814.9M425.3 813.4L425.3 814.9M427.5 813.4L427.5 814.9M429.0 813.4L429.0 814.9M435.9 813.4L435.9 814.9M439.8 813.4L439.8 814.9M442.7 813.4L442.7 814.9M445.2 813.4L445.2 814.9M447.1 813.4L447.1 814.9M448.5 813.4L448.5 814.9M367.2 813.4L367.2 814.9M371.3 813.4L371.3 814.9M374.5 813.4L374.5 814.9M376.6 813.4L376.6 814.9" stroke="#222" stroke-width="0.5" fill="none"/>
<line x1="391.4" y1="779.5" x2="435.4" y2="779.5" stroke="#1a1a1a" stroke-width="1.1"/>
<line x1="391.4" y1="777.3" x2="391.4" y2="781.7" stroke="#1a1a1a" stroke-width="1.1"/>
<line x1="435.4" y1="777.3" x2="435.4" y2="781.7" stroke="#1a1a1a" stroke-width="1.1"/>
<text x="428.0" y="776.5" font-size="10" text-anchor="middle" font-weight="normal" fill="#000" stroke="#000" stroke-width="0.16">65.5</text>
<text x="402.5" y="833.4" font-size="12.6" text-anchor="middle" font-weight="normal" fill="#000" stroke="#000" stroke-width="0.2016">IFN-γ</text>
<text x="345.5" y="713.1" font-size="12" text-anchor="middle" font-weight="normal" fill="#000" stroke="#000" stroke-width="0.192" transform="rotate(-90 345.5 713.1)">Percent of Max</text>
<line x1="342.2" y1="616.0" x2="342.2" y2="668.6" stroke="#222" stroke-width="1.1"/>
<line x1="342.2" y1="756.7" x2="342.2" y2="815.4" stroke="#222" stroke-width="1.1"/>
<text x="455.6" y="659.5" font-size="13.8" text-anchor="start" font-weight="normal" fill="#000" stroke="#000" stroke-width="0.22080000000000002">WT</text>
<text x="456.0" y="762.2" font-size="14.2" text-anchor="start" font-weight="normal" fill="#000" stroke="#000" stroke-width="0.22719999999999999">PLZF-cre</text>
<text x="456.0" y="779.3" font-size="14.2" text-anchor="start" font-weight="normal" fill="#000" stroke="#000" stroke-width="0.22719999999999999">Hdac3 cKO</text>
<text x="496.0" y="601.0" font-size="12" text-anchor="start" font-weight="normal" fill="#000" stroke="#000" stroke-width="0.1"><tspan font-weight="bold">f</tspan>)</text>
<rect x="570.5" y="592.8" width="7.9" height="8.0" stroke="#111" stroke-width="0.5" fill="#000"/>
<text x="581.0" y="601.5" font-size="11.6" text-anchor="start" font-weight="normal" fill="#000" stroke="#000" stroke-width="0.1856">WT</text>
<rect x="604.4" y="593.3" width="6.6" height="7.0" stroke="#111" stroke-width="0.9" fill="#fff"/>
<text x="613.7" y="601.5" font-size="11.7" text-anchor="start" font-weight="normal" fill="#000" stroke="#000" stroke-width="0.1872">Hdac3 cKO</text>
<line x1="567.5" y1="618.9" x2="567.5" y2="815.7" stroke="#111" stroke-width="1.0"/>
<line x1="567.5" y1="815.7" x2="671.6" y2="815.7" stroke="#111" stroke-width="1.0"/>
<line x1="564.0" y1="815.7" x2="567.5" y2="815.7" stroke="#111" stroke-width="0.9"/>
<text x="562.8" y="820.7" font-size="10.6" text-anchor="end" font-weight="normal" fill="#000" stroke="#000" stroke-width="0.1696">0</text>
<line x1="564.0" y1="796.0" x2="567.5" y2="796.0" stroke="#111" stroke-width="0.9"/>
<text x="562.8" y="801.4" font-size="10.6" text-anchor="end" font-weight="normal" fill="#000" stroke="#000" stroke-width="0.1696">1000</text>
<line x1="564.0" y1="776.3" x2="567.5" y2="776.3" stroke="#111" stroke-width="0.9"/>
<text x="562.8" y="782.1" font-size="10.6" text-anchor="end" font-weight="normal" fill="#000" stroke="#000" stroke-width="0.1696">2000</text>
<line x1="564.0" y1="756.7" x2="567.5" y2="756.7" stroke="#111" stroke-width="0.9"/>
<text x="562.8" y="762.8" font-size="10.6" text-anchor="end" font-weight="normal" fill="#000" stroke="#000" stroke-width="0.1696">3000</text>
<line x1="564.0" y1="737.0" x2="567.5" y2="737.0" stroke="#111" stroke-width="0.9"/>
<text x="562.8" y="743.5" font-size="10.6" text-anchor="end" font-weight="normal" fill="#000" stroke="#000" stroke-width="0.1696">4000</text>
<line x1="564.0" y1="717.3" x2="567.5" y2="717.3" stroke="#111" stroke-width="0.9"/>
<text x="562.8" y="724.2" font-size="10.6" text-anchor="end" font-weight="normal" fill="#000" stroke="#000" stroke-width="0.1696">5000</text>
<line x1="564.0" y1="697.6" x2="567.5" y2="697.6" stroke="#111" stroke-width="0.9"/>
<text x="562.8" y="704.9" font-size="10.6" text-anchor="end" font-weight="normal" fill="#000" stroke="#000" stroke-width="0.1696">6000</text>
<line x1="564.0" y1="677.9" x2="567.5" y2="677.9" stroke="#111" stroke-width="0.9"/>
<text x="562.8" y="685.6" font-size="10.6" text-anchor="end" font-weight="normal" fill="#000" stroke="#000" stroke-width="0.1696">7000</text>
<line x1="564.0" y1="658.3" x2="567.5" y2="658.3" stroke="#111" stroke-width="0.9"/>
<text x="562.8" y="666.3" font-size="10.6" text-anchor="end" font-weight="normal" fill="#000" stroke="#000" stroke-width="0.1696">8000</text>
<line x1="564.0" y1="638.6" x2="567.5" y2="638.6" stroke="#111" stroke-width="0.9"/>
<text x="562.8" y="647.0" font-size="10.6" text-anchor="end" font-weight="normal" fill="#000" stroke="#000" stroke-width="0.1696">9000</text>
<line x1="564.0" y1="618.9" x2="567.5" y2="618.9" stroke="#111" stroke-width="0.9"/>
<text x="562.8" y="627.7" font-size="10.6" text-anchor="end" font-weight="normal" fill="#000" stroke="#000" stroke-width="0.1696">10000</text>
<line x1="567.5" y1="815.7" x2="567.5" y2="819.5" stroke="#111" stroke-width="0.9"/>
<line x1="671.6" y1="815.7" x2="671.6" y2="819.5" stroke="#111" stroke-width="0.9"/>
<rect x="591.0" y="658.9" width="28.6" height="156.8" stroke="#000" stroke-width="1.0" fill="#000"/>
<line x1="605.3" y1="658.9" x2="605.3" y2="634.3" stroke="#000" stroke-width="1.0"/>
<line x1="602.7" y1="634.3" x2="607.9" y2="634.3" stroke="#000" stroke-width="1.0"/>
<rect x="619.6" y="717.4" width="30.1" height="98.3" stroke="#000" stroke-width="1.0" fill="#fff"/>
<line x1="634.7" y1="717.4" x2="634.7" y2="702.2" stroke="#000" stroke-width="1.0"/>
<line x1="632.1" y1="702.2" x2="637.3" y2="702.2" stroke="#000" stroke-width="1.0"/>
<line x1="592.9" y1="627.8" x2="647.4" y2="627.8" stroke="#111" stroke-width="1.0"/>
<text x="617.0" y="625.4" font-size="10.5" text-anchor="middle" font-weight="normal" fill="#000" stroke="#000" stroke-width="0.168">p=0.08</text>
<text x="613.7" y="830.7" font-size="11.5" text-anchor="middle" font-weight="normal" fill="#000" stroke="#000" stroke-width="0.184">IFN-γ</text>
<text x="530.6" y="705.0" font-size="12.9" text-anchor="middle" font-weight="normal" fill="#000" stroke="#000" stroke-width="0.2064" transform="rotate(-90 530.6 705)">MFI of cytokine</text>
</svg>
</body></html>
